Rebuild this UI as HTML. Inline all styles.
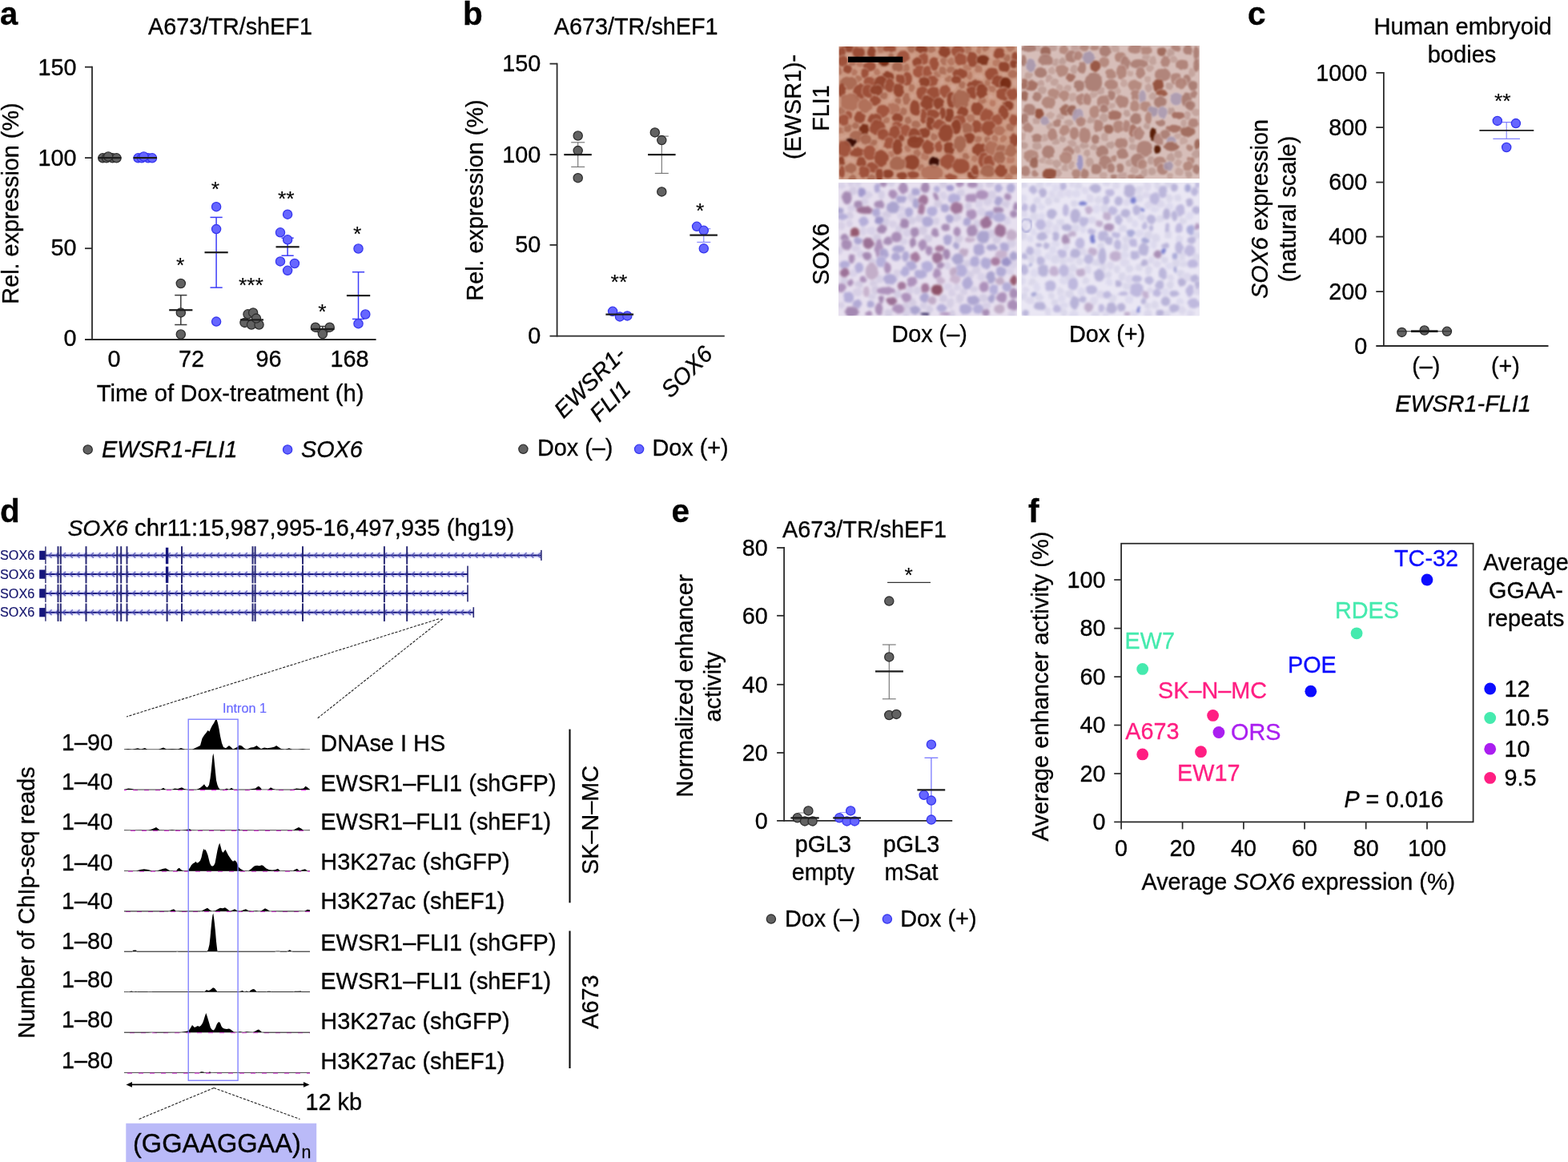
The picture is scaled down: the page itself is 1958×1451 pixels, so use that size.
<!DOCTYPE html>
<html lang="en"><head><meta charset="utf-8"><title>Figure</title>
<style>
html,body{margin:0;padding:0;background:#fff;}
body{width:1958px;height:1451px;overflow:hidden;}
svg{display:block;font-family:"Liberation Sans",sans-serif;font-size:28.8px;}
</style></head><body>
<svg width="1958" height="1451" viewBox="0 0 1958 1451">
<g id="panel-a">
<text x="0.0" y="31.0" font-size="40" stroke="#000" stroke-width="0.32" font-weight="bold">a</text>
<text x="287.5" y="42.9" text-anchor="middle" stroke="#000" stroke-width="0.32">A673/TR/shEF1</text>
<line x1="115.0" y1="82.8" x2="115.0" y2="424.9" stroke="#2a2a2a" stroke-width="1.8"/>
<line x1="106.0" y1="424.0" x2="469.6" y2="424.0" stroke="#2a2a2a" stroke-width="1.8"/>
<line x1="106.0" y1="83.7" x2="115.0" y2="83.7" stroke="#2a2a2a" stroke-width="1.8"/>
<line x1="106.0" y1="197.1" x2="115.0" y2="197.1" stroke="#2a2a2a" stroke-width="1.8"/>
<line x1="106.0" y1="310.2" x2="115.0" y2="310.2" stroke="#2a2a2a" stroke-width="1.8"/>
<text x="95.5" y="93.6" text-anchor="end" stroke="#000" stroke-width="0.32">150</text>
<text x="95.5" y="206.6" text-anchor="end" stroke="#000" stroke-width="0.32">100</text>
<text x="95.5" y="319.3" text-anchor="end" stroke="#000" stroke-width="0.32">50</text>
<text x="95.5" y="432.3" text-anchor="end" stroke="#000" stroke-width="0.32">0</text>
<text x="23.3" y="254.0" text-anchor="middle" stroke="#000" stroke-width="0.32" transform="rotate(-90 23.3 254.0)">Rel. expression (%)</text>
<text x="142.6" y="457.7" text-anchor="middle" stroke="#000" stroke-width="0.32">0</text>
<text x="239.0" y="457.7" text-anchor="middle" stroke="#000" stroke-width="0.32">72</text>
<text x="335.5" y="457.7" text-anchor="middle" stroke="#000" stroke-width="0.32">96</text>
<text x="436.4" y="457.7" text-anchor="middle" stroke="#000" stroke-width="0.32">168</text>
<text x="287.6" y="501.2" text-anchor="middle" font-size="29.25" stroke="#000" stroke-width="0.32">Time of Dox-treatment (h)</text>
<circle cx="109.7" cy="561.4" r="5.6" fill="#626262" stroke="#2e2e2e" stroke-width="1.3"/>
<text x="127.0" y="570.6" stroke="#000" stroke-width="0.32" font-style="italic">EWSR1-FLI1</text>
<circle cx="359.1" cy="561.4" r="5.6" fill="#6666ff" stroke="#3636ee" stroke-width="1.3"/>
<text x="376.0" y="570.6" stroke="#000" stroke-width="0.32" font-style="italic">SOX6</text>
<circle cx="128.3" cy="197.3" r="5.6" fill="#626262" stroke="#2e2e2e" stroke-width="1.3"/>
<circle cx="133.0" cy="197.3" r="5.6" fill="#626262" stroke="#2e2e2e" stroke-width="1.3"/>
<circle cx="140.5" cy="197.3" r="5.6" fill="#626262" stroke="#2e2e2e" stroke-width="1.3"/>
<circle cx="145.5" cy="197.3" r="5.6" fill="#626262" stroke="#2e2e2e" stroke-width="1.3"/>
<circle cx="135.2" cy="195.5" r="5.6" fill="#626262" stroke="#2e2e2e" stroke-width="1.3"/>
<line x1="122.7" y1="197.1" x2="151.4" y2="197.1" stroke="#1c1c1c" stroke-width="2.2"/>
<circle cx="172.5" cy="197.3" r="5.6" fill="#6666ff" stroke="#3636ee" stroke-width="1.3"/>
<circle cx="177.0" cy="197.3" r="5.6" fill="#6666ff" stroke="#3636ee" stroke-width="1.3"/>
<circle cx="185.0" cy="197.3" r="5.6" fill="#6666ff" stroke="#3636ee" stroke-width="1.3"/>
<circle cx="190.0" cy="197.3" r="5.6" fill="#6666ff" stroke="#3636ee" stroke-width="1.3"/>
<circle cx="179.5" cy="195.5" r="5.6" fill="#6666ff" stroke="#3636ee" stroke-width="1.3"/>
<line x1="166.5" y1="197.1" x2="196.0" y2="197.1" stroke="#1c1c1c" stroke-width="2.2"/>
<line x1="225.8" y1="368.6" x2="225.8" y2="405.5" stroke="#3a3a3a" stroke-width="1.5"/>
<line x1="218.2" y1="368.6" x2="233.4" y2="368.6" stroke="#3a3a3a" stroke-width="1.5"/>
<line x1="218.2" y1="405.5" x2="233.4" y2="405.5" stroke="#3a3a3a" stroke-width="1.5"/>
<circle cx="225.8" cy="354.0" r="5.6" fill="#626262" stroke="#2e2e2e" stroke-width="1.3"/>
<circle cx="225.8" cy="390.4" r="5.6" fill="#626262" stroke="#2e2e2e" stroke-width="1.3"/>
<circle cx="225.8" cy="417.5" r="5.6" fill="#626262" stroke="#2e2e2e" stroke-width="1.3"/>
<line x1="211.2" y1="387.2" x2="240.4" y2="387.2" stroke="#1c1c1c" stroke-width="2.2"/>
<line x1="270.1" y1="271.4" x2="270.1" y2="359.1" stroke="#3c3cf8" stroke-width="1.5"/>
<line x1="262.5" y1="271.4" x2="277.7" y2="271.4" stroke="#3c3cf8" stroke-width="1.5"/>
<line x1="262.5" y1="359.1" x2="277.7" y2="359.1" stroke="#3c3cf8" stroke-width="1.5"/>
<circle cx="270.1" cy="258.2" r="5.6" fill="#6666ff" stroke="#3636ee" stroke-width="1.3"/>
<circle cx="270.1" cy="286.1" r="5.6" fill="#6666ff" stroke="#3636ee" stroke-width="1.3"/>
<circle cx="270.1" cy="401.6" r="5.6" fill="#6666ff" stroke="#3636ee" stroke-width="1.3"/>
<line x1="255.5" y1="315.2" x2="284.7" y2="315.2" stroke="#1c1c1c" stroke-width="2.2"/>
<circle cx="305.5" cy="402.9" r="5.6" fill="#626262" stroke="#2e2e2e" stroke-width="1.3"/>
<circle cx="314.0" cy="405.5" r="5.6" fill="#626262" stroke="#2e2e2e" stroke-width="1.3"/>
<circle cx="323.5" cy="405.5" r="5.6" fill="#626262" stroke="#2e2e2e" stroke-width="1.3"/>
<circle cx="309.5" cy="392.3" r="5.6" fill="#626262" stroke="#2e2e2e" stroke-width="1.3"/>
<circle cx="316.1" cy="390.4" r="5.6" fill="#626262" stroke="#2e2e2e" stroke-width="1.3"/>
<circle cx="320.0" cy="397.6" r="5.6" fill="#626262" stroke="#2e2e2e" stroke-width="1.3"/>
<line x1="300.0" y1="399.4" x2="329.0" y2="399.4" stroke="#1c1c1c" stroke-width="2.2"/>
<line x1="359.1" y1="297.2" x2="359.1" y2="319.2" stroke="#3c3cf8" stroke-width="1.5"/>
<line x1="351.5" y1="297.2" x2="366.7" y2="297.2" stroke="#3c3cf8" stroke-width="1.5"/>
<line x1="351.5" y1="319.2" x2="366.7" y2="319.2" stroke="#3c3cf8" stroke-width="1.5"/>
<circle cx="359.1" cy="267.7" r="5.6" fill="#6666ff" stroke="#3636ee" stroke-width="1.3"/>
<circle cx="350.0" cy="290.3" r="5.6" fill="#6666ff" stroke="#3636ee" stroke-width="1.3"/>
<circle cx="359.1" cy="299.3" r="5.6" fill="#6666ff" stroke="#3636ee" stroke-width="1.3"/>
<circle cx="350.0" cy="326.4" r="5.6" fill="#6666ff" stroke="#3636ee" stroke-width="1.3"/>
<circle cx="367.9" cy="329.0" r="5.6" fill="#6666ff" stroke="#3636ee" stroke-width="1.3"/>
<circle cx="359.1" cy="337.8" r="5.6" fill="#6666ff" stroke="#3636ee" stroke-width="1.3"/>
<line x1="344.5" y1="308.3" x2="373.7" y2="308.3" stroke="#1c1c1c" stroke-width="2.2"/>
<line x1="402.9" y1="407.5" x2="402.9" y2="414.5" stroke="#3a3a3a" stroke-width="1.5"/>
<line x1="395.3" y1="407.5" x2="410.5" y2="407.5" stroke="#3a3a3a" stroke-width="1.5"/>
<line x1="395.3" y1="414.5" x2="410.5" y2="414.5" stroke="#3a3a3a" stroke-width="1.5"/>
<circle cx="393.9" cy="408.7" r="5.6" fill="#626262" stroke="#2e2e2e" stroke-width="1.3"/>
<circle cx="411.7" cy="408.7" r="5.6" fill="#626262" stroke="#2e2e2e" stroke-width="1.3"/>
<circle cx="402.9" cy="417.0" r="5.6" fill="#626262" stroke="#2e2e2e" stroke-width="1.3"/>
<line x1="388.3" y1="410.9" x2="417.5" y2="410.9" stroke="#1c1c1c" stroke-width="2.2"/>
<line x1="447.5" y1="339.7" x2="447.5" y2="398.4" stroke="#3c3cf8" stroke-width="1.5"/>
<line x1="439.9" y1="339.7" x2="455.1" y2="339.7" stroke="#3c3cf8" stroke-width="1.5"/>
<line x1="439.9" y1="398.4" x2="455.1" y2="398.4" stroke="#3c3cf8" stroke-width="1.5"/>
<circle cx="447.5" cy="310.5" r="5.6" fill="#6666ff" stroke="#3636ee" stroke-width="1.3"/>
<circle cx="456.3" cy="392.5" r="5.6" fill="#6666ff" stroke="#3636ee" stroke-width="1.3"/>
<circle cx="447.5" cy="404.2" r="5.6" fill="#6666ff" stroke="#3636ee" stroke-width="1.3"/>
<line x1="432.9" y1="369.1" x2="462.2" y2="369.1" stroke="#1c1c1c" stroke-width="2.2"/>
<text x="268.8" y="244.6" text-anchor="middle" font-size="26.5" stroke="#000" stroke-width="0.1">*</text>
<text x="357.2" y="257.4" text-anchor="middle" font-size="26.5" stroke="#000" stroke-width="0.1">**</text>
<text x="225.2" y="340.2" text-anchor="middle" font-size="26.5" stroke="#000" stroke-width="0.1">*</text>
<text x="313.4" y="365.0" text-anchor="middle" font-size="26.5" stroke="#000" stroke-width="0.1">***</text>
<text x="402.4" y="398.0" text-anchor="middle" font-size="26.5" stroke="#000" stroke-width="0.1">*</text>
<text x="446.2" y="300.6" text-anchor="middle" font-size="26.5" stroke="#000" stroke-width="0.1">*</text>
</g>
<g id="panel-b">
<text x="578.0" y="31.0" font-size="40.5" stroke="#000" stroke-width="0.32" font-weight="bold">b</text>
<text x="794.2" y="42.6" text-anchor="middle" stroke="#000" stroke-width="0.32">A673/TR/shEF1</text>
<line x1="695.6" y1="78.7" x2="695.6" y2="420.5" stroke="#2a2a2a" stroke-width="1.8"/>
<line x1="686.5" y1="419.6" x2="904.8" y2="419.6" stroke="#2a2a2a" stroke-width="1.8"/>
<line x1="686.5" y1="79.6" x2="695.6" y2="79.6" stroke="#2a2a2a" stroke-width="1.8"/>
<line x1="686.5" y1="193.1" x2="695.6" y2="193.1" stroke="#2a2a2a" stroke-width="1.8"/>
<line x1="686.5" y1="305.9" x2="695.6" y2="305.9" stroke="#2a2a2a" stroke-width="1.8"/>
<text x="675.3" y="89.4" text-anchor="end" stroke="#000" stroke-width="0.32">150</text>
<text x="675.3" y="202.7" text-anchor="end" stroke="#000" stroke-width="0.32">100</text>
<text x="675.3" y="315.2" text-anchor="end" stroke="#000" stroke-width="0.32">50</text>
<text x="675.3" y="428.7" text-anchor="end" stroke="#000" stroke-width="0.32">0</text>
<text x="602.5" y="250.0" text-anchor="middle" stroke="#000" stroke-width="0.32" transform="rotate(-90 602.5 250.0)">Rel. expression (%)</text>
<line x1="721.7" y1="177.8" x2="721.7" y2="208.4" stroke="#707070" stroke-width="1.1"/>
<line x1="713.2" y1="177.8" x2="730.2" y2="177.8" stroke="#707070" stroke-width="1.1"/>
<line x1="713.2" y1="208.4" x2="730.2" y2="208.4" stroke="#707070" stroke-width="1.1"/>
<circle cx="721.7" cy="169.5" r="5.6" fill="#626262" stroke="#2e2e2e" stroke-width="1.3"/>
<circle cx="721.7" cy="188.1" r="5.6" fill="#626262" stroke="#2e2e2e" stroke-width="1.3"/>
<circle cx="721.7" cy="222.2" r="5.6" fill="#626262" stroke="#2e2e2e" stroke-width="1.3"/>
<line x1="704.3" y1="193.1" x2="738.8" y2="193.1" stroke="#1c1c1c" stroke-width="2.2"/>
<line x1="826.3" y1="170.1" x2="826.3" y2="216.4" stroke="#707070" stroke-width="1.1"/>
<line x1="817.8" y1="170.1" x2="834.8" y2="170.1" stroke="#707070" stroke-width="1.1"/>
<line x1="817.8" y1="216.4" x2="834.8" y2="216.4" stroke="#707070" stroke-width="1.1"/>
<circle cx="817.8" cy="165.4" r="5.6" fill="#626262" stroke="#2e2e2e" stroke-width="1.3"/>
<circle cx="826.3" cy="175.1" r="5.6" fill="#626262" stroke="#2e2e2e" stroke-width="1.3"/>
<circle cx="826.3" cy="239.4" r="5.6" fill="#626262" stroke="#2e2e2e" stroke-width="1.3"/>
<line x1="809.1" y1="193.1" x2="843.6" y2="193.1" stroke="#1c1c1c" stroke-width="2.2"/>
<circle cx="765.1" cy="388.8" r="5.6" fill="#6666ff" stroke="#3636ee" stroke-width="1.3"/>
<circle cx="774.0" cy="395.4" r="5.6" fill="#6666ff" stroke="#3636ee" stroke-width="1.3"/>
<circle cx="783.3" cy="394.4" r="5.6" fill="#6666ff" stroke="#3636ee" stroke-width="1.3"/>
<line x1="756.4" y1="392.7" x2="791.1" y2="392.7" stroke="#1c1c1c" stroke-width="2.2"/>
<line x1="878.8" y1="285.7" x2="878.8" y2="302.4" stroke="#8080ff" stroke-width="1.1"/>
<line x1="870.3" y1="285.7" x2="887.3" y2="285.7" stroke="#8080ff" stroke-width="1.1"/>
<line x1="870.3" y1="302.4" x2="887.3" y2="302.4" stroke="#8080ff" stroke-width="1.1"/>
<circle cx="870.1" cy="282.8" r="5.6" fill="#6666ff" stroke="#3636ee" stroke-width="1.3"/>
<circle cx="878.8" cy="287.8" r="5.6" fill="#6666ff" stroke="#3636ee" stroke-width="1.3"/>
<circle cx="878.8" cy="310.3" r="5.6" fill="#6666ff" stroke="#3636ee" stroke-width="1.3"/>
<line x1="861.4" y1="293.7" x2="895.9" y2="293.7" stroke="#1c1c1c" stroke-width="2.2"/>
<text x="874.2" y="271.6" text-anchor="middle" font-size="26.5" stroke="#000" stroke-width="0.1">*</text>
<text x="772.9" y="360.8" text-anchor="middle" font-size="26.5" stroke="#000" stroke-width="0.1">**</text>
<text x="783.0" y="444.5" text-anchor="end" stroke="#000" stroke-width="0.32" font-style="italic" transform="rotate(-45 783.0 444.5)">EWSR1-</text>
<text x="789.0" y="487.5" text-anchor="end" stroke="#000" stroke-width="0.32" font-style="italic" transform="rotate(-45 789.0 487.5)">FLI1</text>
<text x="891.5" y="444.0" text-anchor="end" stroke="#000" stroke-width="0.32" font-style="italic" transform="rotate(-45 891.5 444.0)">SOX6</text>
<circle cx="653.4" cy="560.8" r="5.6" fill="#626262" stroke="#2e2e2e" stroke-width="1.3"/>
<text x="671.0" y="569.0" stroke="#000" stroke-width="0.32">Dox (–)</text>
<circle cx="798.1" cy="560.8" r="5.6" fill="#6666ff" stroke="#3636ee" stroke-width="1.3"/>
<text x="814.5" y="569.0" stroke="#000" stroke-width="0.32">Dox (+)</text>
</g>
<g id="panel-c">
<text x="1558.0" y="30.5" font-size="40.5" stroke="#000" stroke-width="0.32" font-weight="bold">c</text>
<text x="1826.5" y="42.8" text-anchor="middle" font-size="29.2" stroke="#000" stroke-width="0.32">Human embryoid</text>
<text x="1825.5" y="78.4" text-anchor="middle" font-size="29.1" stroke="#000" stroke-width="0.32">bodies</text>
<line x1="1727.9" y1="90.0" x2="1727.9" y2="432.9" stroke="#2a2a2a" stroke-width="1.8"/>
<line x1="1718.3" y1="432.0" x2="1933.5" y2="432.0" stroke="#2a2a2a" stroke-width="1.8"/>
<line x1="1718.3" y1="90.9" x2="1727.9" y2="90.9" stroke="#2a2a2a" stroke-width="1.8"/>
<text x="1707.3" y="100.7" text-anchor="end" stroke="#000" stroke-width="0.32">1000</text>
<line x1="1718.3" y1="159.1" x2="1727.9" y2="159.1" stroke="#2a2a2a" stroke-width="1.8"/>
<text x="1707.3" y="168.9" text-anchor="end" stroke="#000" stroke-width="0.32">800</text>
<line x1="1718.3" y1="227.6" x2="1727.9" y2="227.6" stroke="#2a2a2a" stroke-width="1.8"/>
<text x="1707.3" y="237.4" text-anchor="end" stroke="#000" stroke-width="0.32">600</text>
<line x1="1718.3" y1="295.6" x2="1727.9" y2="295.6" stroke="#2a2a2a" stroke-width="1.8"/>
<text x="1707.3" y="305.4" text-anchor="end" stroke="#000" stroke-width="0.32">400</text>
<line x1="1718.3" y1="364.1" x2="1727.9" y2="364.1" stroke="#2a2a2a" stroke-width="1.8"/>
<text x="1707.3" y="373.9" text-anchor="end" stroke="#000" stroke-width="0.32">200</text>
<text x="1707.3" y="441.8" text-anchor="end" stroke="#000" stroke-width="0.32">0</text>
<text x="1582.5" y="261.0" text-anchor="middle" stroke="#000" stroke-width="0.32" transform="rotate(-90 1582.5 261.0)"><tspan font-style="italic">SOX6</tspan> expression</text>
<text x="1618.0" y="261.0" text-anchor="middle" stroke="#000" stroke-width="0.32" transform="rotate(-90 1618.0 261.0)">(natural scale)</text>
<line x1="1881.2" y1="152.6" x2="1881.2" y2="173.4" stroke="#8080ff" stroke-width="1.1"/>
<line x1="1864.4" y1="152.6" x2="1898.0" y2="152.6" stroke="#8080ff" stroke-width="1.1"/>
<line x1="1864.4" y1="173.4" x2="1898.0" y2="173.4" stroke="#8080ff" stroke-width="1.1"/>
<circle cx="1869.8" cy="150.9" r="5.6" fill="#6666ff" stroke="#3636ee" stroke-width="1.3"/>
<circle cx="1892.9" cy="154.1" r="5.6" fill="#6666ff" stroke="#3636ee" stroke-width="1.3"/>
<circle cx="1881.2" cy="184.0" r="5.6" fill="#6666ff" stroke="#3636ee" stroke-width="1.3"/>
<line x1="1847.4" y1="162.9" x2="1915.3" y2="162.9" stroke="#1c1c1c" stroke-width="1.6"/>
<text x="1876.3" y="134.7" text-anchor="middle" font-size="26.5" stroke="#000" stroke-width="0.1">**</text>
<circle cx="1750.5" cy="414.9" r="5.6" fill="#626262" stroke="#2e2e2e" stroke-width="1.3"/>
<circle cx="1778.7" cy="412.5" r="5.6" fill="#626262" stroke="#2e2e2e" stroke-width="1.3"/>
<circle cx="1806.9" cy="413.8" r="5.6" fill="#626262" stroke="#2e2e2e" stroke-width="1.3"/>
<line x1="1745.0" y1="413.8" x2="1812.8" y2="413.8" stroke="#2a2a2a" stroke-width="1.1"/>
<line x1="1762.0" y1="413.6" x2="1795.5" y2="413.6" stroke="#1c1c1c" stroke-width="2.6"/>
<text x="1780.8" y="466.8" text-anchor="middle" stroke="#000" stroke-width="0.32">(–)</text>
<text x="1879.9" y="466.8" text-anchor="middle" stroke="#000" stroke-width="0.32">(+)</text>
<text x="1827.0" y="514.2" text-anchor="middle" stroke="#000" stroke-width="0.32" font-style="italic">EWSR1-FLI1</text>
</g>
<defs>
<filter id="nb" x="-5%" y="-5%" width="110%" height="110%" color-interpolation-filters="sRGB"><feTurbulence type="fractalNoise" baseFrequency="0.13" numOctaves="2" seed="4" result="t1"/><feDisplacementMap in="SourceGraphic" in2="t1" scale="3.4" xChannelSelector="R" yChannelSelector="G" result="d"/><feGaussianBlur in="d" stdDeviation="1.1"/></filter>
<filter id="nb2" x="-5%" y="-5%" width="110%" height="110%" color-interpolation-filters="sRGB"><feTurbulence type="fractalNoise" baseFrequency="0.13" numOctaves="2" seed="4" result="t1"/><feDisplacementMap in="SourceGraphic" in2="t1" scale="3.2" xChannelSelector="R" yChannelSelector="G" result="d"/><feGaussianBlur in="d" stdDeviation="1.55"/></filter>
<clipPath id="c1"><rect x="1047.7" y="58" width="222.3" height="166"/></clipPath>
<clipPath id="c2"><rect x="1275.7" y="57" width="222" height="166"/></clipPath>
<clipPath id="c3"><rect x="1047" y="228.2" width="223" height="166"/></clipPath>
<clipPath id="c4"><rect x="1275.7" y="228.2" width="222" height="166"/></clipPath>
</defs>
<g id="panel-img">
<rect x="1047.7" y="58" width="222.3" height="166" fill="#d2a492"/>
<g clip-path="url(#c1)"><g filter="url(#nb)">
<rect x="1043.7" y="54" width="230.3" height="174" fill="#d2a492"/>
<ellipse cx="1048.7" cy="87.5" rx="6.9" ry="8.1" fill="#c48c70" opacity="0.5"/>
<ellipse cx="1050.8" cy="138.7" rx="7.6" ry="7.9" fill="#c48c70" opacity="0.5"/>
<ellipse cx="1049.6" cy="163.4" rx="8.0" ry="7.4" fill="#c48c70" opacity="0.5"/>
<ellipse cx="1058.5" cy="159.9" rx="7.7" ry="8.2" fill="#c48c70" opacity="0.5"/>
<ellipse cx="1064.2" cy="222.4" rx="8.0" ry="7.4" fill="#c48c70" opacity="0.5"/>
<ellipse cx="1064.8" cy="78.0" rx="7.6" ry="7.2" fill="#c48c70" opacity="0.5"/>
<ellipse cx="1067.8" cy="90.6" rx="7.2" ry="6.8" fill="#c48c70" opacity="0.5"/>
<ellipse cx="1068.3" cy="156.8" rx="7.2" ry="7.1" fill="#c48c70" opacity="0.5"/>
<ellipse cx="1074.2" cy="79.8" rx="7.9" ry="7.1" fill="#c48c70" opacity="0.5"/>
<ellipse cx="1071.6" cy="98.7" rx="7.9" ry="7.6" fill="#c48c70" opacity="0.5"/>
<ellipse cx="1090.4" cy="177.9" rx="8.1" ry="7.4" fill="#c48c70" opacity="0.5"/>
<ellipse cx="1087.9" cy="222.7" rx="7.9" ry="7.3" fill="#c48c70" opacity="0.5"/>
<ellipse cx="1095.3" cy="89.7" rx="7.2" ry="7.4" fill="#c48c70" opacity="0.5"/>
<ellipse cx="1099.8" cy="60.9" rx="8.4" ry="7.2" fill="#c48c70" opacity="0.5"/>
<ellipse cx="1103.6" cy="119.4" rx="7.7" ry="7.6" fill="#c48c70" opacity="0.5"/>
<ellipse cx="1106.8" cy="150.0" rx="7.3" ry="7.0" fill="#c48c70" opacity="0.5"/>
<ellipse cx="1113.1" cy="70.9" rx="6.8" ry="7.6" fill="#c48c70" opacity="0.5"/>
<ellipse cx="1112.7" cy="192.6" rx="7.5" ry="7.0" fill="#c48c70" opacity="0.5"/>
<ellipse cx="1121.3" cy="126.1" rx="6.9" ry="7.3" fill="#c48c70" opacity="0.5"/>
<ellipse cx="1127.2" cy="139.0" rx="8.4" ry="8.1" fill="#c48c70" opacity="0.5"/>
<ellipse cx="1131.4" cy="85.0" rx="7.7" ry="7.7" fill="#c48c70" opacity="0.5"/>
<ellipse cx="1134.1" cy="150.2" rx="7.4" ry="7.7" fill="#c48c70" opacity="0.5"/>
<ellipse cx="1133.9" cy="185.2" rx="7.9" ry="7.0" fill="#c48c70" opacity="0.5"/>
<ellipse cx="1138.2" cy="60.7" rx="7.7" ry="8.2" fill="#c48c70" opacity="0.5"/>
<ellipse cx="1138.7" cy="110.0" rx="6.9" ry="7.9" fill="#c48c70" opacity="0.5"/>
<ellipse cx="1143.6" cy="155.3" rx="8.2" ry="7.7" fill="#c48c70" opacity="0.5"/>
<ellipse cx="1144.7" cy="191.9" rx="7.2" ry="8.1" fill="#c48c70" opacity="0.5"/>
<ellipse cx="1150.3" cy="209.6" rx="7.2" ry="7.7" fill="#c48c70" opacity="0.5"/>
<ellipse cx="1154.7" cy="194.7" rx="7.4" ry="8.1" fill="#c48c70" opacity="0.5"/>
<ellipse cx="1163.2" cy="61.9" rx="8.2" ry="7.1" fill="#c48c70" opacity="0.5"/>
<ellipse cx="1166.6" cy="170.8" rx="7.3" ry="7.2" fill="#c48c70" opacity="0.5"/>
<ellipse cx="1170.2" cy="92.6" rx="7.9" ry="7.2" fill="#c48c70" opacity="0.5"/>
<ellipse cx="1178.3" cy="76.6" rx="7.3" ry="8.0" fill="#c48c70" opacity="0.5"/>
<ellipse cx="1177.5" cy="88.1" rx="7.9" ry="7.8" fill="#c48c70" opacity="0.5"/>
<ellipse cx="1184.7" cy="98.5" rx="6.9" ry="7.1" fill="#c48c70" opacity="0.5"/>
<ellipse cx="1187.6" cy="76.8" rx="7.9" ry="8.1" fill="#c48c70" opacity="0.5"/>
<ellipse cx="1187.5" cy="87.4" rx="8.2" ry="7.3" fill="#c48c70" opacity="0.5"/>
<ellipse cx="1201.1" cy="106.1" rx="7.1" ry="7.9" fill="#c48c70" opacity="0.5"/>
<ellipse cx="1205.7" cy="195.5" rx="6.9" ry="7.5" fill="#c48c70" opacity="0.5"/>
<ellipse cx="1208.5" cy="61.7" rx="7.8" ry="8.0" fill="#c48c70" opacity="0.5"/>
<ellipse cx="1207.8" cy="84.8" rx="8.3" ry="8.2" fill="#c48c70" opacity="0.5"/>
<ellipse cx="1210.4" cy="94.2" rx="7.0" ry="8.1" fill="#c48c70" opacity="0.5"/>
<ellipse cx="1212.0" cy="147.3" rx="8.4" ry="7.6" fill="#c48c70" opacity="0.5"/>
<ellipse cx="1217.2" cy="198.1" rx="8.2" ry="7.4" fill="#c48c70" opacity="0.5"/>
<ellipse cx="1222.6" cy="61.7" rx="6.9" ry="8.0" fill="#c48c70" opacity="0.5"/>
<ellipse cx="1221.6" cy="86.0" rx="8.0" ry="7.5" fill="#c48c70" opacity="0.5"/>
<ellipse cx="1221.1" cy="174.2" rx="7.5" ry="7.4" fill="#c48c70" opacity="0.5"/>
<ellipse cx="1226.6" cy="125.7" rx="8.0" ry="7.0" fill="#c48c70" opacity="0.5"/>
<ellipse cx="1231.2" cy="59.8" rx="7.0" ry="7.6" fill="#c48c70" opacity="0.5"/>
<ellipse cx="1233.6" cy="103.8" rx="6.9" ry="8.3" fill="#c48c70" opacity="0.5"/>
<ellipse cx="1233.0" cy="174.3" rx="6.8" ry="7.7" fill="#c48c70" opacity="0.5"/>
<ellipse cx="1238.3" cy="111.1" rx="8.3" ry="6.9" fill="#c48c70" opacity="0.5"/>
<ellipse cx="1239.5" cy="129.3" rx="6.8" ry="6.9" fill="#c48c70" opacity="0.5"/>
<ellipse cx="1244.3" cy="78.4" rx="8.1" ry="7.7" fill="#c48c70" opacity="0.5"/>
<ellipse cx="1242.4" cy="173.2" rx="7.0" ry="7.9" fill="#c48c70" opacity="0.5"/>
<ellipse cx="1253.0" cy="173.0" rx="7.6" ry="7.5" fill="#c48c70" opacity="0.5"/>
<ellipse cx="1261.2" cy="59.4" rx="8.1" ry="7.3" fill="#c48c70" opacity="0.5"/>
<ellipse cx="1257.3" cy="72.1" rx="7.3" ry="8.1" fill="#c48c70" opacity="0.5"/>
<ellipse cx="1261.2" cy="158.6" rx="7.8" ry="8.0" fill="#c48c70" opacity="0.5"/>
<ellipse cx="1262.0" cy="199.1" rx="8.3" ry="8.0" fill="#c48c70" opacity="0.5"/>
<ellipse cx="1259.9" cy="220.4" rx="8.0" ry="7.2" fill="#c48c70" opacity="0.5"/>
<ellipse cx="1059.6" cy="60.6" rx="10.5" ry="7.4" fill="#c48c70" opacity="0.5"/>
<ellipse cx="1072.2" cy="65.4" rx="10.5" ry="9.7" fill="#c48c70" opacity="0.5"/>
<ellipse cx="1088.4" cy="65.4" rx="8.2" ry="9.7" fill="#c48c70" opacity="0.5"/>
<ellipse cx="1111.2" cy="60.6" rx="10.5" ry="7.4" fill="#c48c70" opacity="0.5"/>
<ellipse cx="1051.2" cy="65.4" rx="7.4" ry="8.9" fill="#c48c70" opacity="0.5"/>
<ellipse cx="1150.7" cy="61.2" rx="10.5" ry="8.2" fill="#c48c70" opacity="0.5"/>
<ellipse cx="1179.5" cy="64.2" rx="10.5" ry="9.7" fill="#c48c70" opacity="0.5"/>
<ellipse cx="1196.3" cy="63.6" rx="11.3" ry="10.5" fill="#c48c70" opacity="0.5"/>
<ellipse cx="1199.9" cy="74.4" rx="10.5" ry="10.5" fill="#c48c70" opacity="0.5"/>
<ellipse cx="1247.9" cy="66.6" rx="9.7" ry="9.7" fill="#c48c70" opacity="0.5"/>
<ellipse cx="1214.3" cy="74.4" rx="9.7" ry="12.1" fill="#c48c70" opacity="0.5"/>
<ellipse cx="1227.5" cy="75.0" rx="10.5" ry="8.9" fill="#c48c70" opacity="0.5"/>
<ellipse cx="1267.0" cy="72.0" rx="6.6" ry="10.5" fill="#c48c70" opacity="0.5"/>
<ellipse cx="1127.9" cy="70.8" rx="10.5" ry="10.5" fill="#c48c70" opacity="0.5"/>
<ellipse cx="1052.4" cy="76.2" rx="8.9" ry="9.7" fill="#c48c70" opacity="0.5"/>
<ellipse cx="1153.1" cy="73.8" rx="9.7" ry="9.7" fill="#c48c70" opacity="0.5"/>
<ellipse cx="1086.0" cy="82.8" rx="10.5" ry="8.9" fill="#c48c70" opacity="0.5"/>
<ellipse cx="1104.0" cy="78.0" rx="8.9" ry="7.4" fill="#c48c70" opacity="0.5"/>
<ellipse cx="1120.7" cy="83.4" rx="9.7" ry="8.9" fill="#c48c70" opacity="0.5"/>
<ellipse cx="1144.7" cy="77.4" rx="8.2" ry="8.9" fill="#c48c70" opacity="0.5"/>
<ellipse cx="1166.3" cy="79.8" rx="8.9" ry="11.3" fill="#c48c70" opacity="0.5"/>
<ellipse cx="1253.9" cy="83.4" rx="9.7" ry="8.9" fill="#c48c70" opacity="0.5"/>
<ellipse cx="1265.8" cy="79.8" rx="7.4" ry="8.2" fill="#c48c70" opacity="0.5"/>
<ellipse cx="1058.4" cy="86.4" rx="8.2" ry="8.2" fill="#c48c70" opacity="0.5"/>
<ellipse cx="1148.3" cy="89.4" rx="11.3" ry="10.5" fill="#c48c70" opacity="0.5"/>
<ellipse cx="1157.9" cy="90.0" rx="8.2" ry="10.5" fill="#c48c70" opacity="0.5"/>
<ellipse cx="1080.0" cy="91.8" rx="7.4" ry="8.9" fill="#c48c70" opacity="0.5"/>
<ellipse cx="1198.7" cy="92.4" rx="12.1" ry="9.7" fill="#c48c70" opacity="0.5"/>
<ellipse cx="1238.3" cy="92.4" rx="11.3" ry="10.5" fill="#c48c70" opacity="0.5"/>
<ellipse cx="1264.6" cy="92.4" rx="8.9" ry="8.2" fill="#c48c70" opacity="0.5"/>
<ellipse cx="1108.8" cy="96.0" rx="10.5" ry="8.9" fill="#c48c70" opacity="0.5"/>
<ellipse cx="1132.7" cy="98.4" rx="8.9" ry="11.3" fill="#c48c70" opacity="0.5"/>
<ellipse cx="1124.3" cy="99.0" rx="8.2" ry="8.9" fill="#c48c70" opacity="0.5"/>
<ellipse cx="1059.6" cy="103.8" rx="13.6" ry="11.3" fill="#c48c70" opacity="0.5"/>
<ellipse cx="1086.0" cy="102.0" rx="10.5" ry="8.9" fill="#c48c70" opacity="0.5"/>
<ellipse cx="1100.4" cy="103.2" rx="11.3" ry="11.3" fill="#c48c70" opacity="0.5"/>
<ellipse cx="1163.9" cy="101.4" rx="9.7" ry="9.7" fill="#c48c70" opacity="0.5"/>
<ellipse cx="1154.3" cy="102.6" rx="9.7" ry="8.9" fill="#c48c70" opacity="0.5"/>
<ellipse cx="1193.9" cy="99.6" rx="8.9" ry="7.4" fill="#c48c70" opacity="0.5"/>
<ellipse cx="1246.7" cy="101.4" rx="10.5" ry="10.5" fill="#c48c70" opacity="0.5"/>
<ellipse cx="1255.7" cy="104.4" rx="9.7" ry="10.5" fill="#c48c70" opacity="0.5"/>
<ellipse cx="1217.9" cy="105.6" rx="13.6" ry="8.2" fill="#c48c70" opacity="0.5"/>
<ellipse cx="1111.2" cy="106.8" rx="8.9" ry="11.3" fill="#c48c70" opacity="0.5"/>
<ellipse cx="1075.2" cy="115.2" rx="12.8" ry="12.8" fill="#c48c70" opacity="0.5"/>
<ellipse cx="1083.6" cy="114.0" rx="9.7" ry="11.3" fill="#c48c70" opacity="0.5"/>
<ellipse cx="1094.4" cy="112.8" rx="10.5" ry="9.7" fill="#c48c70" opacity="0.5"/>
<ellipse cx="1122.5" cy="112.8" rx="9.7" ry="11.3" fill="#c48c70" opacity="0.5"/>
<ellipse cx="1151.9" cy="116.4" rx="10.5" ry="11.3" fill="#c48c70" opacity="0.5"/>
<ellipse cx="1165.7" cy="117.6" rx="11.3" ry="12.1" fill="#c48c70" opacity="0.5"/>
<ellipse cx="1180.1" cy="114.0" rx="9.7" ry="10.5" fill="#c48c70" opacity="0.5"/>
<ellipse cx="1213.7" cy="115.8" rx="9.7" ry="10.5" fill="#c48c70" opacity="0.5"/>
<ellipse cx="1225.7" cy="114.0" rx="9.7" ry="12.1" fill="#c48c70" opacity="0.5"/>
<ellipse cx="1252.7" cy="117.6" rx="11.3" ry="11.3" fill="#c48c70" opacity="0.5"/>
<ellipse cx="1264.1" cy="117.6" rx="9.7" ry="10.5" fill="#c48c70" opacity="0.5"/>
<ellipse cx="1051.2" cy="114.0" rx="7.4" ry="12.1" fill="#c48c70" opacity="0.5"/>
<ellipse cx="1062.0" cy="127.2" rx="15.2" ry="13.6" fill="#c48c70" opacity="0.5"/>
<ellipse cx="1092.6" cy="126.0" rx="9.7" ry="8.9" fill="#c48c70" opacity="0.5"/>
<ellipse cx="1080.0" cy="131.9" rx="11.3" ry="11.3" fill="#c48c70" opacity="0.5"/>
<ellipse cx="1131.5" cy="123.6" rx="7.4" ry="10.5" fill="#c48c70" opacity="0.5"/>
<ellipse cx="1157.9" cy="128.3" rx="10.5" ry="12.1" fill="#c48c70" opacity="0.5"/>
<ellipse cx="1172.3" cy="128.9" rx="9.7" ry="9.7" fill="#c48c70" opacity="0.5"/>
<ellipse cx="1187.9" cy="124.8" rx="8.2" ry="12.8" fill="#c48c70" opacity="0.5"/>
<ellipse cx="1199.9" cy="124.8" rx="13.6" ry="15.2" fill="#c48c70" opacity="0.5"/>
<ellipse cx="1142.3" cy="134.9" rx="8.9" ry="12.8" fill="#c48c70" opacity="0.5"/>
<ellipse cx="1220.3" cy="135.5" rx="10.5" ry="11.3" fill="#c48c70" opacity="0.5"/>
<ellipse cx="1258.7" cy="131.9" rx="9.7" ry="8.9" fill="#c48c70" opacity="0.5"/>
<ellipse cx="1115.4" cy="136.1" rx="11.3" ry="10.5" fill="#c48c70" opacity="0.5"/>
<ellipse cx="1102.2" cy="138.5" rx="10.5" ry="10.5" fill="#c48c70" opacity="0.5"/>
<ellipse cx="1202.3" cy="139.7" rx="9.7" ry="8.9" fill="#c48c70" opacity="0.5"/>
<ellipse cx="1252.7" cy="140.3" rx="8.9" ry="12.1" fill="#c48c70" opacity="0.5"/>
<ellipse cx="1163.9" cy="142.7" rx="11.3" ry="8.9" fill="#c48c70" opacity="0.5"/>
<ellipse cx="1185.5" cy="143.9" rx="8.2" ry="11.3" fill="#c48c70" opacity="0.5"/>
<ellipse cx="1177.1" cy="141.5" rx="6.6" ry="10.5" fill="#c48c70" opacity="0.5"/>
<ellipse cx="1153.1" cy="145.1" rx="7.4" ry="12.1" fill="#c48c70" opacity="0.5"/>
<ellipse cx="1232.3" cy="143.9" rx="11.3" ry="10.5" fill="#c48c70" opacity="0.5"/>
<ellipse cx="1073.4" cy="146.9" rx="9.7" ry="9.7" fill="#c48c70" opacity="0.5"/>
<ellipse cx="1059.6" cy="143.9" rx="7.4" ry="8.2" fill="#c48c70" opacity="0.5"/>
<ellipse cx="1053.6" cy="149.9" rx="9.7" ry="9.7" fill="#c48c70" opacity="0.5"/>
<ellipse cx="1092.6" cy="148.7" rx="11.3" ry="9.7" fill="#c48c70" opacity="0.5"/>
<ellipse cx="1120.7" cy="147.5" rx="9.7" ry="8.9" fill="#c48c70" opacity="0.5"/>
<ellipse cx="1197.5" cy="152.3" rx="11.3" ry="11.3" fill="#c48c70" opacity="0.5"/>
<ellipse cx="1244.9" cy="149.9" rx="9.7" ry="9.7" fill="#c48c70" opacity="0.5"/>
<ellipse cx="1265.8" cy="149.9" rx="8.2" ry="9.7" fill="#c48c70" opacity="0.5"/>
<ellipse cx="1162.1" cy="154.1" rx="8.2" ry="11.3" fill="#c48c70" opacity="0.5"/>
<ellipse cx="1173.5" cy="155.9" rx="11.3" ry="8.9" fill="#c48c70" opacity="0.5"/>
<ellipse cx="1120.1" cy="156.5" rx="8.9" ry="7.4" fill="#c48c70" opacity="0.5"/>
<ellipse cx="1095.6" cy="159.5" rx="12.8" ry="12.1" fill="#c48c70" opacity="0.5"/>
<ellipse cx="1078.8" cy="162.5" rx="8.9" ry="10.5" fill="#c48c70" opacity="0.5"/>
<ellipse cx="1220.3" cy="157.7" rx="9.7" ry="10.5" fill="#c48c70" opacity="0.5"/>
<ellipse cx="1234.7" cy="159.5" rx="11.3" ry="12.1" fill="#c48c70" opacity="0.5"/>
<ellipse cx="1208.3" cy="160.7" rx="8.9" ry="10.5" fill="#c48c70" opacity="0.5"/>
<ellipse cx="1247.9" cy="163.1" rx="9.7" ry="8.9" fill="#c48c70" opacity="0.5"/>
<ellipse cx="1130.9" cy="163.1" rx="8.9" ry="10.5" fill="#c48c70" opacity="0.5"/>
<ellipse cx="1117.2" cy="165.5" rx="9.7" ry="11.3" fill="#c48c70" opacity="0.5"/>
<ellipse cx="1193.9" cy="158.3" rx="8.9" ry="12.1" fill="#c48c70" opacity="0.5"/>
<ellipse cx="1180.7" cy="166.1" rx="12.1" ry="13.6" fill="#c48c70" opacity="0.5"/>
<ellipse cx="1153.7" cy="166.1" rx="10.5" ry="8.9" fill="#c48c70" opacity="0.5"/>
<ellipse cx="1141.1" cy="169.1" rx="10.5" ry="12.1" fill="#c48c70" opacity="0.5"/>
<ellipse cx="1102.8" cy="167.9" rx="9.7" ry="9.7" fill="#c48c70" opacity="0.5"/>
<ellipse cx="1069.2" cy="170.9" rx="11.3" ry="10.5" fill="#c48c70" opacity="0.5"/>
<ellipse cx="1210.7" cy="172.1" rx="9.7" ry="8.9" fill="#c48c70" opacity="0.5"/>
<ellipse cx="1266.4" cy="175.1" rx="8.2" ry="10.5" fill="#c48c70" opacity="0.5"/>
<ellipse cx="1062.0" cy="177.5" rx="10.5" ry="7.4" fill="#c48c70" opacity="0.5"/>
<ellipse cx="1081.2" cy="173.9" rx="9.7" ry="8.9" fill="#c48c70" opacity="0.5"/>
<ellipse cx="1143.5" cy="177.5" rx="13.6" ry="10.5" fill="#c48c70" opacity="0.5"/>
<ellipse cx="1110.6" cy="178.7" rx="9.7" ry="10.5" fill="#c48c70" opacity="0.5"/>
<ellipse cx="1125.5" cy="172.7" rx="6.6" ry="7.4" fill="#c48c70" opacity="0.5"/>
<ellipse cx="1054.2" cy="185.9" rx="11.3" ry="12.8" fill="#c48c70" opacity="0.5"/>
<ellipse cx="1120.7" cy="183.5" rx="8.9" ry="12.8" fill="#c48c70" opacity="0.5"/>
<ellipse cx="1159.1" cy="184.1" rx="10.5" ry="11.3" fill="#c48c70" opacity="0.5"/>
<ellipse cx="1172.3" cy="183.5" rx="7.4" ry="9.7" fill="#c48c70" opacity="0.5"/>
<ellipse cx="1185.5" cy="185.3" rx="9.7" ry="10.5" fill="#c48c70" opacity="0.5"/>
<ellipse cx="1198.7" cy="179.9" rx="10.5" ry="13.6" fill="#c48c70" opacity="0.5"/>
<ellipse cx="1223.9" cy="187.1" rx="12.8" ry="11.3" fill="#c48c70" opacity="0.5"/>
<ellipse cx="1238.3" cy="184.7" rx="11.3" ry="11.3" fill="#c48c70" opacity="0.5"/>
<ellipse cx="1250.3" cy="189.5" rx="9.7" ry="12.1" fill="#c48c70" opacity="0.5"/>
<ellipse cx="1262.3" cy="188.3" rx="9.7" ry="10.5" fill="#c48c70" opacity="0.5"/>
<ellipse cx="1070.4" cy="190.7" rx="12.1" ry="8.9" fill="#c48c70" opacity="0.5"/>
<ellipse cx="1086.0" cy="190.7" rx="10.5" ry="12.1" fill="#c48c70" opacity="0.5"/>
<ellipse cx="1100.4" cy="197.9" rx="11.3" ry="13.6" fill="#c48c70" opacity="0.5"/>
<ellipse cx="1166.3" cy="202.7" rx="8.9" ry="9.7" fill="#c48c70" opacity="0.5"/>
<ellipse cx="1138.7" cy="202.7" rx="12.1" ry="12.1" fill="#c48c70" opacity="0.5"/>
<ellipse cx="1120.7" cy="203.9" rx="12.8" ry="11.3" fill="#c48c70" opacity="0.5"/>
<ellipse cx="1183.1" cy="201.5" rx="12.1" ry="12.1" fill="#c48c70" opacity="0.5"/>
<ellipse cx="1199.9" cy="207.5" rx="13.6" ry="12.1" fill="#c48c70" opacity="0.5"/>
<ellipse cx="1228.7" cy="200.3" rx="9.7" ry="12.8" fill="#c48c70" opacity="0.5"/>
<ellipse cx="1235.9" cy="201.5" rx="10.5" ry="10.5" fill="#c48c70" opacity="0.5"/>
<ellipse cx="1075.2" cy="202.7" rx="8.2" ry="8.9" fill="#c48c70" opacity="0.5"/>
<ellipse cx="1050.6" cy="201.5" rx="6.6" ry="8.9" fill="#c48c70" opacity="0.5"/>
<ellipse cx="1247.9" cy="196.7" rx="10.5" ry="10.5" fill="#c48c70" opacity="0.5"/>
<ellipse cx="1233.5" cy="213.5" rx="11.3" ry="10.5" fill="#c48c70" opacity="0.5"/>
<ellipse cx="1250.3" cy="213.5" rx="10.5" ry="10.5" fill="#c48c70" opacity="0.5"/>
<ellipse cx="1265.8" cy="212.3" rx="8.2" ry="8.9" fill="#c48c70" opacity="0.5"/>
<ellipse cx="1088.4" cy="209.3" rx="11.3" ry="9.7" fill="#c48c70" opacity="0.5"/>
<ellipse cx="1062.0" cy="209.9" rx="10.5" ry="8.9" fill="#c48c70" opacity="0.5"/>
<ellipse cx="1078.8" cy="214.7" rx="9.7" ry="10.5" fill="#c48c70" opacity="0.5"/>
<ellipse cx="1108.8" cy="217.1" rx="9.7" ry="8.2" fill="#c48c70" opacity="0.5"/>
<ellipse cx="1098.0" cy="218.3" rx="7.4" ry="10.5" fill="#c48c70" opacity="0.5"/>
<ellipse cx="1163.9" cy="215.9" rx="16.7" ry="12.1" fill="#c48c70" opacity="0.5"/>
<ellipse cx="1139.9" cy="218.3" rx="10.5" ry="7.4" fill="#c48c70" opacity="0.5"/>
<ellipse cx="1126.7" cy="219.5" rx="8.9" ry="7.4" fill="#c48c70" opacity="0.5"/>
<ellipse cx="1187.9" cy="220.7" rx="10.5" ry="6.6" fill="#c48c70" opacity="0.5"/>
<ellipse cx="1214.3" cy="218.3" rx="8.9" ry="8.2" fill="#c48c70" opacity="0.5"/>
<ellipse cx="1051.2" cy="214.7" rx="6.6" ry="10.5" fill="#c48c70" opacity="0.5"/>
<ellipse cx="1217.9" cy="212.3" rx="7.4" ry="8.9" fill="#c48c70" opacity="0.5"/>
<ellipse cx="1048.7" cy="87.5" rx="4.7" ry="5.9" fill="#b2725b" stroke="#e4c0ae" stroke-width="0.9" stroke-opacity="0.75" fill-opacity="0.88"/>
<ellipse cx="1050.8" cy="138.7" rx="5.4" ry="5.7" fill="#ac6c55" stroke="#e4c0ae" stroke-width="0.9" stroke-opacity="0.75" fill-opacity="0.88"/>
<ellipse cx="1049.6" cy="163.4" rx="5.8" ry="5.2" fill="#b4745d" stroke="#e4c0ae" stroke-width="0.9" stroke-opacity="0.75" fill-opacity="0.88"/>
<ellipse cx="1058.5" cy="159.9" rx="5.5" ry="6.0" fill="#a96952" stroke="#e4c0ae" stroke-width="0.9" stroke-opacity="0.75" fill-opacity="0.88"/>
<ellipse cx="1064.2" cy="222.4" rx="5.8" ry="5.2" fill="#aa6a53" stroke="#e4c0ae" stroke-width="0.9" stroke-opacity="0.75" fill-opacity="0.88"/>
<ellipse cx="1064.8" cy="78.0" rx="5.4" ry="5.0" fill="#ab6b54" stroke="#e4c0ae" stroke-width="0.9" stroke-opacity="0.75" fill-opacity="0.88"/>
<ellipse cx="1067.8" cy="90.6" rx="5.0" ry="4.6" fill="#b3735c" stroke="#e4c0ae" stroke-width="0.9" stroke-opacity="0.75" fill-opacity="0.88"/>
<ellipse cx="1068.3" cy="156.8" rx="5.0" ry="4.9" fill="#a96952" stroke="#e4c0ae" stroke-width="0.9" stroke-opacity="0.75" fill-opacity="0.88"/>
<ellipse cx="1074.2" cy="79.8" rx="5.7" ry="4.9" fill="#b87861" stroke="#e4c0ae" stroke-width="0.9" stroke-opacity="0.75" fill-opacity="0.88"/>
<ellipse cx="1071.6" cy="98.7" rx="5.7" ry="5.4" fill="#ae6e57" stroke="#e4c0ae" stroke-width="0.9" stroke-opacity="0.75" fill-opacity="0.88"/>
<ellipse cx="1090.4" cy="177.9" rx="5.9" ry="5.2" fill="#a96952" stroke="#e4c0ae" stroke-width="0.9" stroke-opacity="0.75" fill-opacity="0.88"/>
<ellipse cx="1087.9" cy="222.7" rx="5.7" ry="5.1" fill="#aa6a53" stroke="#e4c0ae" stroke-width="0.9" stroke-opacity="0.75" fill-opacity="0.88"/>
<ellipse cx="1095.3" cy="89.7" rx="5.0" ry="5.2" fill="#b5755e" stroke="#e4c0ae" stroke-width="0.9" stroke-opacity="0.75" fill-opacity="0.88"/>
<ellipse cx="1099.8" cy="60.9" rx="6.2" ry="5.0" fill="#b5755e" stroke="#e4c0ae" stroke-width="0.9" stroke-opacity="0.75" fill-opacity="0.88"/>
<ellipse cx="1103.6" cy="119.4" rx="5.5" ry="5.4" fill="#aa6a53" stroke="#e4c0ae" stroke-width="0.9" stroke-opacity="0.75" fill-opacity="0.88"/>
<ellipse cx="1106.8" cy="150.0" rx="5.1" ry="4.8" fill="#af6f58" stroke="#e4c0ae" stroke-width="0.9" stroke-opacity="0.75" fill-opacity="0.88"/>
<ellipse cx="1113.1" cy="70.9" rx="4.6" ry="5.4" fill="#aa6a53" stroke="#e4c0ae" stroke-width="0.9" stroke-opacity="0.75" fill-opacity="0.88"/>
<ellipse cx="1112.7" cy="192.6" rx="5.3" ry="4.8" fill="#b5755e" stroke="#e4c0ae" stroke-width="0.9" stroke-opacity="0.75" fill-opacity="0.88"/>
<ellipse cx="1121.3" cy="126.1" rx="4.7" ry="5.1" fill="#a96952" stroke="#e4c0ae" stroke-width="0.9" stroke-opacity="0.75" fill-opacity="0.88"/>
<ellipse cx="1127.2" cy="139.0" rx="6.2" ry="5.9" fill="#ab6b54" stroke="#e4c0ae" stroke-width="0.9" stroke-opacity="0.75" fill-opacity="0.88"/>
<ellipse cx="1131.4" cy="85.0" rx="5.5" ry="5.5" fill="#af6f58" stroke="#e4c0ae" stroke-width="0.9" stroke-opacity="0.75" fill-opacity="0.88"/>
<ellipse cx="1134.1" cy="150.2" rx="5.2" ry="5.5" fill="#a96952" stroke="#e4c0ae" stroke-width="0.9" stroke-opacity="0.75" fill-opacity="0.88"/>
<ellipse cx="1133.9" cy="185.2" rx="5.7" ry="4.8" fill="#b4745d" stroke="#e4c0ae" stroke-width="0.9" stroke-opacity="0.75" fill-opacity="0.88"/>
<ellipse cx="1138.2" cy="60.7" rx="5.5" ry="6.0" fill="#a96952" stroke="#e4c0ae" stroke-width="0.9" stroke-opacity="0.75" fill-opacity="0.88"/>
<ellipse cx="1138.7" cy="110.0" rx="4.7" ry="5.7" fill="#af6f58" stroke="#e4c0ae" stroke-width="0.9" stroke-opacity="0.75" fill-opacity="0.88"/>
<ellipse cx="1143.6" cy="155.3" rx="6.0" ry="5.5" fill="#a96952" stroke="#e4c0ae" stroke-width="0.9" stroke-opacity="0.75" fill-opacity="0.88"/>
<ellipse cx="1144.7" cy="191.9" rx="5.0" ry="5.9" fill="#ac6c55" stroke="#e4c0ae" stroke-width="0.9" stroke-opacity="0.75" fill-opacity="0.88"/>
<ellipse cx="1150.3" cy="209.6" rx="5.0" ry="5.5" fill="#b1715a" stroke="#e4c0ae" stroke-width="0.9" stroke-opacity="0.75" fill-opacity="0.88"/>
<ellipse cx="1154.7" cy="194.7" rx="5.2" ry="5.9" fill="#b5755e" stroke="#e4c0ae" stroke-width="0.9" stroke-opacity="0.75" fill-opacity="0.88"/>
<ellipse cx="1163.2" cy="61.9" rx="6.0" ry="4.9" fill="#ac6c55" stroke="#e4c0ae" stroke-width="0.9" stroke-opacity="0.75" fill-opacity="0.88"/>
<ellipse cx="1166.6" cy="170.8" rx="5.1" ry="5.0" fill="#ab6b54" stroke="#e4c0ae" stroke-width="0.9" stroke-opacity="0.75" fill-opacity="0.88"/>
<ellipse cx="1170.2" cy="92.6" rx="5.7" ry="5.0" fill="#b1715a" stroke="#e4c0ae" stroke-width="0.9" stroke-opacity="0.75" fill-opacity="0.88"/>
<ellipse cx="1178.3" cy="76.6" rx="5.1" ry="5.8" fill="#ad6d56" stroke="#e4c0ae" stroke-width="0.9" stroke-opacity="0.75" fill-opacity="0.88"/>
<ellipse cx="1177.5" cy="88.1" rx="5.7" ry="5.6" fill="#ab6b54" stroke="#e4c0ae" stroke-width="0.9" stroke-opacity="0.75" fill-opacity="0.88"/>
<ellipse cx="1184.7" cy="98.5" rx="4.7" ry="4.9" fill="#ae6e57" stroke="#e4c0ae" stroke-width="0.9" stroke-opacity="0.75" fill-opacity="0.88"/>
<ellipse cx="1187.6" cy="76.8" rx="5.7" ry="5.9" fill="#b3735c" stroke="#e4c0ae" stroke-width="0.9" stroke-opacity="0.75" fill-opacity="0.88"/>
<ellipse cx="1187.5" cy="87.4" rx="6.0" ry="5.1" fill="#ab6b54" stroke="#e4c0ae" stroke-width="0.9" stroke-opacity="0.75" fill-opacity="0.88"/>
<ellipse cx="1201.1" cy="106.1" rx="4.9" ry="5.7" fill="#aa6a53" stroke="#e4c0ae" stroke-width="0.9" stroke-opacity="0.75" fill-opacity="0.88"/>
<ellipse cx="1205.7" cy="195.5" rx="4.7" ry="5.3" fill="#a96952" stroke="#e4c0ae" stroke-width="0.9" stroke-opacity="0.75" fill-opacity="0.88"/>
<ellipse cx="1208.5" cy="61.7" rx="5.6" ry="5.8" fill="#ae6e57" stroke="#e4c0ae" stroke-width="0.9" stroke-opacity="0.75" fill-opacity="0.88"/>
<ellipse cx="1207.8" cy="84.8" rx="6.1" ry="6.0" fill="#b77760" stroke="#e4c0ae" stroke-width="0.9" stroke-opacity="0.75" fill-opacity="0.88"/>
<ellipse cx="1210.4" cy="94.2" rx="4.8" ry="5.9" fill="#b5755e" stroke="#e4c0ae" stroke-width="0.9" stroke-opacity="0.75" fill-opacity="0.88"/>
<ellipse cx="1212.0" cy="147.3" rx="6.2" ry="5.4" fill="#b2725b" stroke="#e4c0ae" stroke-width="0.9" stroke-opacity="0.75" fill-opacity="0.88"/>
<ellipse cx="1217.2" cy="198.1" rx="6.0" ry="5.2" fill="#b6765f" stroke="#e4c0ae" stroke-width="0.9" stroke-opacity="0.75" fill-opacity="0.88"/>
<ellipse cx="1222.6" cy="61.7" rx="4.7" ry="5.8" fill="#b6765f" stroke="#e4c0ae" stroke-width="0.9" stroke-opacity="0.75" fill-opacity="0.88"/>
<ellipse cx="1221.6" cy="86.0" rx="5.8" ry="5.3" fill="#b3735c" stroke="#e4c0ae" stroke-width="0.9" stroke-opacity="0.75" fill-opacity="0.88"/>
<ellipse cx="1221.1" cy="174.2" rx="5.3" ry="5.2" fill="#b1715a" stroke="#e4c0ae" stroke-width="0.9" stroke-opacity="0.75" fill-opacity="0.88"/>
<ellipse cx="1226.6" cy="125.7" rx="5.8" ry="4.8" fill="#af6f58" stroke="#e4c0ae" stroke-width="0.9" stroke-opacity="0.75" fill-opacity="0.88"/>
<ellipse cx="1231.2" cy="59.8" rx="4.8" ry="5.4" fill="#ad6d56" stroke="#e4c0ae" stroke-width="0.9" stroke-opacity="0.75" fill-opacity="0.88"/>
<ellipse cx="1233.6" cy="103.8" rx="4.7" ry="6.1" fill="#af6f58" stroke="#e4c0ae" stroke-width="0.9" stroke-opacity="0.75" fill-opacity="0.88"/>
<ellipse cx="1233.0" cy="174.3" rx="4.6" ry="5.5" fill="#aa6a53" stroke="#e4c0ae" stroke-width="0.9" stroke-opacity="0.75" fill-opacity="0.88"/>
<ellipse cx="1238.3" cy="111.1" rx="6.1" ry="4.7" fill="#b1715a" stroke="#e4c0ae" stroke-width="0.9" stroke-opacity="0.75" fill-opacity="0.88"/>
<ellipse cx="1239.5" cy="129.3" rx="4.6" ry="4.7" fill="#b87861" stroke="#e4c0ae" stroke-width="0.9" stroke-opacity="0.75" fill-opacity="0.88"/>
<ellipse cx="1244.3" cy="78.4" rx="5.9" ry="5.5" fill="#b77760" stroke="#e4c0ae" stroke-width="0.9" stroke-opacity="0.75" fill-opacity="0.88"/>
<ellipse cx="1242.4" cy="173.2" rx="4.8" ry="5.7" fill="#b2725b" stroke="#e4c0ae" stroke-width="0.9" stroke-opacity="0.75" fill-opacity="0.88"/>
<ellipse cx="1253.0" cy="173.0" rx="5.4" ry="5.3" fill="#b6765f" stroke="#e4c0ae" stroke-width="0.9" stroke-opacity="0.75" fill-opacity="0.88"/>
<ellipse cx="1261.2" cy="59.4" rx="5.9" ry="5.1" fill="#b1715a" stroke="#e4c0ae" stroke-width="0.9" stroke-opacity="0.75" fill-opacity="0.88"/>
<ellipse cx="1257.3" cy="72.1" rx="5.1" ry="5.9" fill="#aa6a53" stroke="#e4c0ae" stroke-width="0.9" stroke-opacity="0.75" fill-opacity="0.88"/>
<ellipse cx="1261.2" cy="158.6" rx="5.6" ry="5.8" fill="#ab6b54" stroke="#e4c0ae" stroke-width="0.9" stroke-opacity="0.75" fill-opacity="0.88"/>
<ellipse cx="1262.0" cy="199.1" rx="6.1" ry="5.8" fill="#b87861" stroke="#e4c0ae" stroke-width="0.9" stroke-opacity="0.75" fill-opacity="0.88"/>
<ellipse cx="1259.9" cy="220.4" rx="5.8" ry="5.0" fill="#b5755e" stroke="#e4c0ae" stroke-width="0.9" stroke-opacity="0.75" fill-opacity="0.88"/>
<ellipse cx="1059.6" cy="60.6" rx="8.3" ry="5.2" fill="#93452e" stroke="#e4c0ae" stroke-width="0.9" stroke-opacity="0.75" fill-opacity="0.96"/>
<ellipse cx="1072.2" cy="65.4" rx="8.3" ry="7.5" fill="#984a33" stroke="#e4c0ae" stroke-width="0.9" stroke-opacity="0.75" fill-opacity="0.96"/>
<ellipse cx="1088.4" cy="65.4" rx="6.0" ry="7.5" fill="#92442d" stroke="#e4c0ae" stroke-width="0.9" stroke-opacity="0.75" fill-opacity="0.96"/>
<ellipse cx="1111.2" cy="60.6" rx="8.3" ry="5.2" fill="#9d4f38" stroke="#e4c0ae" stroke-width="0.9" stroke-opacity="0.75" fill-opacity="0.96"/>
<ellipse cx="1051.2" cy="65.4" rx="5.2" ry="6.7" fill="#9b4d36" stroke="#e4c0ae" stroke-width="0.9" stroke-opacity="0.75" fill-opacity="0.96"/>
<ellipse cx="1150.7" cy="61.2" rx="8.3" ry="6.0" fill="#8f412a" stroke="#e4c0ae" stroke-width="0.9" stroke-opacity="0.75" fill-opacity="0.96"/>
<ellipse cx="1179.5" cy="64.2" rx="8.3" ry="7.5" fill="#90422b" stroke="#e4c0ae" stroke-width="0.9" stroke-opacity="0.75" fill-opacity="0.96"/>
<ellipse cx="1196.3" cy="63.6" rx="9.1" ry="8.3" fill="#9f513a" stroke="#e4c0ae" stroke-width="0.9" stroke-opacity="0.75" fill-opacity="0.96"/>
<ellipse cx="1199.9" cy="74.4" rx="8.3" ry="8.3" fill="#a0523b" stroke="#e4c0ae" stroke-width="0.9" stroke-opacity="0.75" fill-opacity="0.96"/>
<ellipse cx="1247.9" cy="66.6" rx="7.5" ry="7.5" fill="#984a33" stroke="#e4c0ae" stroke-width="0.9" stroke-opacity="0.75" fill-opacity="0.96"/>
<ellipse cx="1214.3" cy="74.4" rx="7.5" ry="9.9" fill="#984a33" stroke="#e4c0ae" stroke-width="0.9" stroke-opacity="0.75" fill-opacity="0.96"/>
<ellipse cx="1227.5" cy="75.0" rx="8.3" ry="6.7" fill="#7f331c" stroke="#e4c0ae" stroke-width="0.9" stroke-opacity="0.75" fill-opacity="0.96"/>
<ellipse cx="1267.0" cy="72.0" rx="4.4" ry="8.3" fill="#994b34" stroke="#e4c0ae" stroke-width="0.9" stroke-opacity="0.75" fill-opacity="0.96"/>
<ellipse cx="1127.9" cy="70.8" rx="8.3" ry="8.3" fill="#a1533c" stroke="#e4c0ae" stroke-width="0.9" stroke-opacity="0.75" fill-opacity="0.96"/>
<ellipse cx="1052.4" cy="76.2" rx="6.7" ry="7.5" fill="#9d4f38" stroke="#e4c0ae" stroke-width="0.9" stroke-opacity="0.75" fill-opacity="0.96"/>
<ellipse cx="1153.1" cy="73.8" rx="7.5" ry="7.5" fill="#a0523b" stroke="#e4c0ae" stroke-width="0.9" stroke-opacity="0.75" fill-opacity="0.96"/>
<ellipse cx="1086.0" cy="82.8" rx="8.3" ry="6.7" fill="#9c4e37" stroke="#e4c0ae" stroke-width="0.9" stroke-opacity="0.75" fill-opacity="0.96"/>
<ellipse cx="1104.0" cy="78.0" rx="6.7" ry="5.2" fill="#752912" stroke="#e4c0ae" stroke-width="0.9" stroke-opacity="0.75" fill-opacity="0.96"/>
<ellipse cx="1120.7" cy="83.4" rx="7.5" ry="6.7" fill="#a5644d" stroke="#e4c0ae" stroke-width="0.9" stroke-opacity="0.75" fill-opacity="0.92"/>
<ellipse cx="1144.7" cy="77.4" rx="6.0" ry="6.7" fill="#964831" stroke="#e4c0ae" stroke-width="0.9" stroke-opacity="0.75" fill-opacity="0.96"/>
<ellipse cx="1166.3" cy="79.8" rx="6.7" ry="9.1" fill="#9d4f38" stroke="#e4c0ae" stroke-width="0.9" stroke-opacity="0.75" fill-opacity="0.96"/>
<ellipse cx="1253.9" cy="83.4" rx="7.5" ry="6.7" fill="#90422b" stroke="#e4c0ae" stroke-width="0.9" stroke-opacity="0.75" fill-opacity="0.96"/>
<ellipse cx="1265.8" cy="79.8" rx="5.2" ry="6.0" fill="#8f412a" stroke="#e4c0ae" stroke-width="0.9" stroke-opacity="0.75" fill-opacity="0.96"/>
<ellipse cx="1058.4" cy="86.4" rx="6.0" ry="6.0" fill="#974932" stroke="#e4c0ae" stroke-width="0.9" stroke-opacity="0.75" fill-opacity="0.96"/>
<ellipse cx="1148.3" cy="89.4" rx="9.1" ry="8.3" fill="#a2543d" stroke="#e4c0ae" stroke-width="0.9" stroke-opacity="0.75" fill-opacity="0.96"/>
<ellipse cx="1157.9" cy="90.0" rx="6.0" ry="8.3" fill="#a0523b" stroke="#e4c0ae" stroke-width="0.9" stroke-opacity="0.75" fill-opacity="0.96"/>
<ellipse cx="1080.0" cy="91.8" rx="5.2" ry="6.7" fill="#9c4e37" stroke="#e4c0ae" stroke-width="0.9" stroke-opacity="0.75" fill-opacity="0.96"/>
<ellipse cx="1198.7" cy="92.4" rx="9.9" ry="7.5" fill="#974932" stroke="#e4c0ae" stroke-width="0.9" stroke-opacity="0.75" fill-opacity="0.96"/>
<ellipse cx="1238.3" cy="92.4" rx="9.1" ry="8.3" fill="#9a4c35" stroke="#e4c0ae" stroke-width="0.9" stroke-opacity="0.75" fill-opacity="0.96"/>
<ellipse cx="1264.6" cy="92.4" rx="6.7" ry="6.0" fill="#ae6d56" stroke="#e4c0ae" stroke-width="0.9" stroke-opacity="0.75" fill-opacity="0.92"/>
<ellipse cx="1108.8" cy="96.0" rx="8.3" ry="6.7" fill="#8e4029" stroke="#e4c0ae" stroke-width="0.9" stroke-opacity="0.75" fill-opacity="0.96"/>
<ellipse cx="1132.7" cy="98.4" rx="6.7" ry="9.1" fill="#9c4e37" stroke="#e4c0ae" stroke-width="0.9" stroke-opacity="0.75" fill-opacity="0.96"/>
<ellipse cx="1124.3" cy="99.0" rx="6.0" ry="6.7" fill="#994b34" stroke="#e4c0ae" stroke-width="0.9" stroke-opacity="0.75" fill-opacity="0.96"/>
<ellipse cx="1059.6" cy="103.8" rx="11.4" ry="9.1" fill="#a86750" stroke="#e4c0ae" stroke-width="0.9" stroke-opacity="0.75" fill-opacity="0.92"/>
<ellipse cx="1086.0" cy="102.0" rx="8.3" ry="6.7" fill="#a1533c" stroke="#e4c0ae" stroke-width="0.9" stroke-opacity="0.75" fill-opacity="0.96"/>
<ellipse cx="1100.4" cy="103.2" rx="9.1" ry="9.1" fill="#91432c" stroke="#e4c0ae" stroke-width="0.9" stroke-opacity="0.75" fill-opacity="0.96"/>
<ellipse cx="1163.9" cy="101.4" rx="7.5" ry="7.5" fill="#9d4f38" stroke="#e4c0ae" stroke-width="0.9" stroke-opacity="0.75" fill-opacity="0.96"/>
<ellipse cx="1154.3" cy="102.6" rx="7.5" ry="6.7" fill="#8f412a" stroke="#e4c0ae" stroke-width="0.9" stroke-opacity="0.75" fill-opacity="0.96"/>
<ellipse cx="1193.9" cy="99.6" rx="6.7" ry="5.2" fill="#94462f" stroke="#e4c0ae" stroke-width="0.9" stroke-opacity="0.75" fill-opacity="0.96"/>
<ellipse cx="1246.7" cy="101.4" rx="8.3" ry="8.3" fill="#974932" stroke="#e4c0ae" stroke-width="0.9" stroke-opacity="0.75" fill-opacity="0.96"/>
<ellipse cx="1255.7" cy="104.4" rx="7.5" ry="8.3" fill="#762a13" stroke="#e4c0ae" stroke-width="0.9" stroke-opacity="0.75" fill-opacity="0.96"/>
<ellipse cx="1217.9" cy="105.6" rx="11.4" ry="6.0" fill="#954730" stroke="#e4c0ae" stroke-width="0.9" stroke-opacity="0.75" fill-opacity="0.96"/>
<ellipse cx="1111.2" cy="106.8" rx="6.7" ry="9.1" fill="#9a4c35" stroke="#e4c0ae" stroke-width="0.9" stroke-opacity="0.75" fill-opacity="0.96"/>
<ellipse cx="1075.2" cy="115.2" rx="10.6" ry="10.6" fill="#9a4c35" stroke="#e4c0ae" stroke-width="0.9" stroke-opacity="0.75" fill-opacity="0.96"/>
<ellipse cx="1083.6" cy="114.0" rx="7.5" ry="9.1" fill="#9d4f38" stroke="#e4c0ae" stroke-width="0.9" stroke-opacity="0.75" fill-opacity="0.96"/>
<ellipse cx="1094.4" cy="112.8" rx="8.3" ry="7.5" fill="#90422b" stroke="#e4c0ae" stroke-width="0.9" stroke-opacity="0.75" fill-opacity="0.96"/>
<ellipse cx="1122.5" cy="112.8" rx="7.5" ry="9.1" fill="#93452e" stroke="#e4c0ae" stroke-width="0.9" stroke-opacity="0.75" fill-opacity="0.96"/>
<ellipse cx="1151.9" cy="116.4" rx="8.3" ry="9.1" fill="#9c4e37" stroke="#e4c0ae" stroke-width="0.9" stroke-opacity="0.75" fill-opacity="0.96"/>
<ellipse cx="1165.7" cy="117.6" rx="9.1" ry="9.9" fill="#9a4c35" stroke="#e4c0ae" stroke-width="0.9" stroke-opacity="0.75" fill-opacity="0.96"/>
<ellipse cx="1180.1" cy="114.0" rx="7.5" ry="8.3" fill="#9f513a" stroke="#e4c0ae" stroke-width="0.9" stroke-opacity="0.75" fill-opacity="0.96"/>
<ellipse cx="1213.7" cy="115.8" rx="7.5" ry="8.3" fill="#964831" stroke="#e4c0ae" stroke-width="0.9" stroke-opacity="0.75" fill-opacity="0.96"/>
<ellipse cx="1225.7" cy="114.0" rx="7.5" ry="9.9" fill="#92442d" stroke="#e4c0ae" stroke-width="0.9" stroke-opacity="0.75" fill-opacity="0.96"/>
<ellipse cx="1252.7" cy="117.6" rx="9.1" ry="9.1" fill="#9b4d36" stroke="#e4c0ae" stroke-width="0.9" stroke-opacity="0.75" fill-opacity="0.96"/>
<ellipse cx="1264.1" cy="117.6" rx="7.5" ry="8.3" fill="#9f513a" stroke="#e4c0ae" stroke-width="0.9" stroke-opacity="0.75" fill-opacity="0.96"/>
<ellipse cx="1051.2" cy="114.0" rx="5.2" ry="9.9" fill="#964831" stroke="#e4c0ae" stroke-width="0.9" stroke-opacity="0.75" fill-opacity="0.96"/>
<ellipse cx="1062.0" cy="127.2" rx="13.0" ry="11.4" fill="#b06f58" stroke="#e4c0ae" stroke-width="0.9" stroke-opacity="0.75" fill-opacity="0.92"/>
<ellipse cx="1092.6" cy="126.0" rx="7.5" ry="6.7" fill="#994b34" stroke="#e4c0ae" stroke-width="0.9" stroke-opacity="0.75" fill-opacity="0.96"/>
<ellipse cx="1080.0" cy="131.9" rx="9.1" ry="9.1" fill="#af6e57" stroke="#e4c0ae" stroke-width="0.9" stroke-opacity="0.75" fill-opacity="0.92"/>
<ellipse cx="1131.5" cy="123.6" rx="5.2" ry="8.3" fill="#aa6952" stroke="#e4c0ae" stroke-width="0.9" stroke-opacity="0.75" fill-opacity="0.92"/>
<ellipse cx="1157.9" cy="128.3" rx="8.3" ry="9.9" fill="#92442d" stroke="#e4c0ae" stroke-width="0.9" stroke-opacity="0.75" fill-opacity="0.96"/>
<ellipse cx="1172.3" cy="128.9" rx="7.5" ry="7.5" fill="#90422b" stroke="#e4c0ae" stroke-width="0.9" stroke-opacity="0.75" fill-opacity="0.96"/>
<ellipse cx="1187.9" cy="124.8" rx="6.0" ry="10.6" fill="#93452e" stroke="#e4c0ae" stroke-width="0.9" stroke-opacity="0.75" fill-opacity="0.96"/>
<ellipse cx="1199.9" cy="124.8" rx="11.4" ry="13.0" fill="#a7664f" stroke="#e4c0ae" stroke-width="0.9" stroke-opacity="0.75" fill-opacity="0.92"/>
<ellipse cx="1142.3" cy="134.9" rx="6.7" ry="10.6" fill="#954730" stroke="#e4c0ae" stroke-width="0.9" stroke-opacity="0.75" fill-opacity="0.96"/>
<ellipse cx="1220.3" cy="135.5" rx="8.3" ry="9.1" fill="#954730" stroke="#e4c0ae" stroke-width="0.9" stroke-opacity="0.75" fill-opacity="0.96"/>
<ellipse cx="1258.7" cy="131.9" rx="7.5" ry="6.7" fill="#8e4029" stroke="#e4c0ae" stroke-width="0.9" stroke-opacity="0.75" fill-opacity="0.96"/>
<ellipse cx="1115.4" cy="136.1" rx="9.1" ry="8.3" fill="#b2715a" stroke="#e4c0ae" stroke-width="0.9" stroke-opacity="0.75" fill-opacity="0.92"/>
<ellipse cx="1102.2" cy="138.5" rx="8.3" ry="8.3" fill="#a0523b" stroke="#e4c0ae" stroke-width="0.9" stroke-opacity="0.75" fill-opacity="0.96"/>
<ellipse cx="1202.3" cy="139.7" rx="7.5" ry="6.7" fill="#93452e" stroke="#e4c0ae" stroke-width="0.9" stroke-opacity="0.75" fill-opacity="0.96"/>
<ellipse cx="1252.7" cy="140.3" rx="6.7" ry="9.9" fill="#964831" stroke="#e4c0ae" stroke-width="0.9" stroke-opacity="0.75" fill-opacity="0.96"/>
<ellipse cx="1163.9" cy="142.7" rx="9.1" ry="6.7" fill="#974932" stroke="#e4c0ae" stroke-width="0.9" stroke-opacity="0.75" fill-opacity="0.96"/>
<ellipse cx="1185.5" cy="143.9" rx="6.0" ry="9.1" fill="#8e4029" stroke="#e4c0ae" stroke-width="0.9" stroke-opacity="0.75" fill-opacity="0.96"/>
<ellipse cx="1177.1" cy="141.5" rx="4.4" ry="8.3" fill="#92442d" stroke="#e4c0ae" stroke-width="0.9" stroke-opacity="0.75" fill-opacity="0.96"/>
<ellipse cx="1153.1" cy="145.1" rx="5.2" ry="9.9" fill="#9b4d36" stroke="#e4c0ae" stroke-width="0.9" stroke-opacity="0.75" fill-opacity="0.96"/>
<ellipse cx="1232.3" cy="143.9" rx="9.1" ry="8.3" fill="#9f513a" stroke="#e4c0ae" stroke-width="0.9" stroke-opacity="0.75" fill-opacity="0.96"/>
<ellipse cx="1073.4" cy="146.9" rx="7.5" ry="7.5" fill="#994b34" stroke="#e4c0ae" stroke-width="0.9" stroke-opacity="0.75" fill-opacity="0.96"/>
<ellipse cx="1059.6" cy="143.9" rx="5.2" ry="6.0" fill="#a1533c" stroke="#e4c0ae" stroke-width="0.9" stroke-opacity="0.75" fill-opacity="0.96"/>
<ellipse cx="1053.6" cy="149.9" rx="7.5" ry="7.5" fill="#a0523b" stroke="#e4c0ae" stroke-width="0.9" stroke-opacity="0.75" fill-opacity="0.96"/>
<ellipse cx="1092.6" cy="148.7" rx="9.1" ry="7.5" fill="#984a33" stroke="#e4c0ae" stroke-width="0.9" stroke-opacity="0.75" fill-opacity="0.96"/>
<ellipse cx="1120.7" cy="147.5" rx="7.5" ry="6.7" fill="#92442d" stroke="#e4c0ae" stroke-width="0.9" stroke-opacity="0.75" fill-opacity="0.96"/>
<ellipse cx="1197.5" cy="152.3" rx="9.1" ry="9.1" fill="#9e5039" stroke="#e4c0ae" stroke-width="0.9" stroke-opacity="0.75" fill-opacity="0.96"/>
<ellipse cx="1244.9" cy="149.9" rx="7.5" ry="7.5" fill="#a1533c" stroke="#e4c0ae" stroke-width="0.9" stroke-opacity="0.75" fill-opacity="0.96"/>
<ellipse cx="1265.8" cy="149.9" rx="6.0" ry="7.5" fill="#a2543d" stroke="#e4c0ae" stroke-width="0.9" stroke-opacity="0.75" fill-opacity="0.96"/>
<ellipse cx="1162.1" cy="154.1" rx="6.0" ry="9.1" fill="#8f412a" stroke="#e4c0ae" stroke-width="0.9" stroke-opacity="0.75" fill-opacity="0.96"/>
<ellipse cx="1173.5" cy="155.9" rx="9.1" ry="6.7" fill="#9c4e37" stroke="#e4c0ae" stroke-width="0.9" stroke-opacity="0.75" fill-opacity="0.96"/>
<ellipse cx="1120.1" cy="156.5" rx="6.7" ry="5.2" fill="#9f513a" stroke="#e4c0ae" stroke-width="0.9" stroke-opacity="0.75" fill-opacity="0.96"/>
<ellipse cx="1095.6" cy="159.5" rx="10.6" ry="9.9" fill="#9a4c35" stroke="#e4c0ae" stroke-width="0.9" stroke-opacity="0.75" fill-opacity="0.96"/>
<ellipse cx="1078.8" cy="162.5" rx="6.7" ry="8.3" fill="#7a2e17" stroke="#e4c0ae" stroke-width="0.9" stroke-opacity="0.75" fill-opacity="0.96"/>
<ellipse cx="1220.3" cy="157.7" rx="7.5" ry="8.3" fill="#9a4c35" stroke="#e4c0ae" stroke-width="0.9" stroke-opacity="0.75" fill-opacity="0.96"/>
<ellipse cx="1234.7" cy="159.5" rx="9.1" ry="9.9" fill="#9a4c35" stroke="#e4c0ae" stroke-width="0.9" stroke-opacity="0.75" fill-opacity="0.96"/>
<ellipse cx="1208.3" cy="160.7" rx="6.7" ry="8.3" fill="#a6654e" stroke="#e4c0ae" stroke-width="0.9" stroke-opacity="0.75" fill-opacity="0.92"/>
<ellipse cx="1247.9" cy="163.1" rx="7.5" ry="6.7" fill="#b2715a" stroke="#e4c0ae" stroke-width="0.9" stroke-opacity="0.75" fill-opacity="0.92"/>
<ellipse cx="1130.9" cy="163.1" rx="6.7" ry="8.3" fill="#a2543d" stroke="#e4c0ae" stroke-width="0.9" stroke-opacity="0.75" fill-opacity="0.96"/>
<ellipse cx="1117.2" cy="165.5" rx="7.5" ry="9.1" fill="#9a4c35" stroke="#e4c0ae" stroke-width="0.9" stroke-opacity="0.75" fill-opacity="0.96"/>
<ellipse cx="1193.9" cy="158.3" rx="6.7" ry="9.9" fill="#8f412a" stroke="#e4c0ae" stroke-width="0.9" stroke-opacity="0.75" fill-opacity="0.96"/>
<ellipse cx="1180.7" cy="166.1" rx="9.9" ry="11.4" fill="#94462f" stroke="#e4c0ae" stroke-width="0.9" stroke-opacity="0.75" fill-opacity="0.96"/>
<ellipse cx="1153.7" cy="166.1" rx="8.3" ry="6.7" fill="#90422b" stroke="#e4c0ae" stroke-width="0.9" stroke-opacity="0.75" fill-opacity="0.96"/>
<ellipse cx="1141.1" cy="169.1" rx="8.3" ry="9.9" fill="#94462f" stroke="#e4c0ae" stroke-width="0.9" stroke-opacity="0.75" fill-opacity="0.96"/>
<ellipse cx="1102.8" cy="167.9" rx="7.5" ry="7.5" fill="#9c4e37" stroke="#e4c0ae" stroke-width="0.9" stroke-opacity="0.75" fill-opacity="0.96"/>
<ellipse cx="1069.2" cy="170.9" rx="9.1" ry="8.3" fill="#a86750" stroke="#e4c0ae" stroke-width="0.9" stroke-opacity="0.75" fill-opacity="0.92"/>
<ellipse cx="1210.7" cy="172.1" rx="7.5" ry="6.7" fill="#91432c" stroke="#e4c0ae" stroke-width="0.9" stroke-opacity="0.75" fill-opacity="0.96"/>
<ellipse cx="1266.4" cy="175.1" rx="6.0" ry="8.3" fill="#984a33" stroke="#e4c0ae" stroke-width="0.9" stroke-opacity="0.75" fill-opacity="0.96"/>
<ellipse cx="1062.0" cy="177.5" rx="8.3" ry="5.2" fill="#3c0c04" stroke="#e4c0ae" stroke-width="0.9" stroke-opacity="0.75" fill-opacity="1"/>
<ellipse cx="1081.2" cy="173.9" rx="7.5" ry="6.7" fill="#a6654e" stroke="#e4c0ae" stroke-width="0.9" stroke-opacity="0.75" fill-opacity="0.92"/>
<ellipse cx="1143.5" cy="177.5" rx="11.4" ry="8.3" fill="#8e4029" stroke="#e4c0ae" stroke-width="0.9" stroke-opacity="0.75" fill-opacity="0.96"/>
<ellipse cx="1110.6" cy="178.7" rx="7.5" ry="8.3" fill="#a0523b" stroke="#e4c0ae" stroke-width="0.9" stroke-opacity="0.75" fill-opacity="0.96"/>
<ellipse cx="1125.5" cy="172.7" rx="4.4" ry="5.2" fill="#92442d" stroke="#e4c0ae" stroke-width="0.9" stroke-opacity="0.75" fill-opacity="0.96"/>
<ellipse cx="1054.2" cy="185.9" rx="9.1" ry="10.6" fill="#9f513a" stroke="#e4c0ae" stroke-width="0.9" stroke-opacity="0.75" fill-opacity="0.96"/>
<ellipse cx="1120.7" cy="183.5" rx="6.7" ry="10.6" fill="#91432c" stroke="#e4c0ae" stroke-width="0.9" stroke-opacity="0.75" fill-opacity="0.96"/>
<ellipse cx="1159.1" cy="184.1" rx="8.3" ry="9.1" fill="#994b34" stroke="#e4c0ae" stroke-width="0.9" stroke-opacity="0.75" fill-opacity="0.96"/>
<ellipse cx="1172.3" cy="183.5" rx="5.2" ry="7.5" fill="#a1533c" stroke="#e4c0ae" stroke-width="0.9" stroke-opacity="0.75" fill-opacity="0.96"/>
<ellipse cx="1185.5" cy="185.3" rx="7.5" ry="8.3" fill="#8e4029" stroke="#e4c0ae" stroke-width="0.9" stroke-opacity="0.75" fill-opacity="0.96"/>
<ellipse cx="1198.7" cy="179.9" rx="8.3" ry="11.4" fill="#a5644d" stroke="#e4c0ae" stroke-width="0.9" stroke-opacity="0.75" fill-opacity="0.92"/>
<ellipse cx="1223.9" cy="187.1" rx="10.6" ry="9.1" fill="#94462f" stroke="#e4c0ae" stroke-width="0.9" stroke-opacity="0.75" fill-opacity="0.96"/>
<ellipse cx="1238.3" cy="184.7" rx="9.1" ry="9.1" fill="#af6e57" stroke="#e4c0ae" stroke-width="0.9" stroke-opacity="0.75" fill-opacity="0.92"/>
<ellipse cx="1250.3" cy="189.5" rx="7.5" ry="9.9" fill="#a7664f" stroke="#e4c0ae" stroke-width="0.9" stroke-opacity="0.75" fill-opacity="0.92"/>
<ellipse cx="1262.3" cy="188.3" rx="7.5" ry="8.3" fill="#ab6a53" stroke="#e4c0ae" stroke-width="0.9" stroke-opacity="0.75" fill-opacity="0.92"/>
<ellipse cx="1070.4" cy="190.7" rx="9.9" ry="6.7" fill="#994b34" stroke="#e4c0ae" stroke-width="0.9" stroke-opacity="0.75" fill-opacity="0.96"/>
<ellipse cx="1086.0" cy="190.7" rx="8.3" ry="9.9" fill="#a1533c" stroke="#e4c0ae" stroke-width="0.9" stroke-opacity="0.75" fill-opacity="0.96"/>
<ellipse cx="1100.4" cy="197.9" rx="9.1" ry="11.4" fill="#994b34" stroke="#e4c0ae" stroke-width="0.9" stroke-opacity="0.75" fill-opacity="0.96"/>
<ellipse cx="1166.3" cy="202.7" rx="6.7" ry="7.5" fill="#3c0c04" stroke="#e4c0ae" stroke-width="0.9" stroke-opacity="0.75" fill-opacity="1"/>
<ellipse cx="1138.7" cy="202.7" rx="9.9" ry="9.9" fill="#91432c" stroke="#e4c0ae" stroke-width="0.9" stroke-opacity="0.75" fill-opacity="0.96"/>
<ellipse cx="1120.7" cy="203.9" rx="10.6" ry="9.1" fill="#a6654e" stroke="#e4c0ae" stroke-width="0.9" stroke-opacity="0.75" fill-opacity="0.92"/>
<ellipse cx="1183.1" cy="201.5" rx="9.9" ry="9.9" fill="#9d4f38" stroke="#e4c0ae" stroke-width="0.9" stroke-opacity="0.75" fill-opacity="0.96"/>
<ellipse cx="1199.9" cy="207.5" rx="11.4" ry="9.9" fill="#9c4e37" stroke="#e4c0ae" stroke-width="0.9" stroke-opacity="0.75" fill-opacity="0.96"/>
<ellipse cx="1228.7" cy="200.3" rx="7.5" ry="10.6" fill="#9d4f38" stroke="#e4c0ae" stroke-width="0.9" stroke-opacity="0.75" fill-opacity="0.96"/>
<ellipse cx="1235.9" cy="201.5" rx="8.3" ry="8.3" fill="#9d4f38" stroke="#e4c0ae" stroke-width="0.9" stroke-opacity="0.75" fill-opacity="0.96"/>
<ellipse cx="1075.2" cy="202.7" rx="6.0" ry="6.7" fill="#974932" stroke="#e4c0ae" stroke-width="0.9" stroke-opacity="0.75" fill-opacity="0.96"/>
<ellipse cx="1050.6" cy="201.5" rx="4.4" ry="6.7" fill="#90422b" stroke="#e4c0ae" stroke-width="0.9" stroke-opacity="0.75" fill-opacity="0.96"/>
<ellipse cx="1247.9" cy="196.7" rx="8.3" ry="8.3" fill="#a7664f" stroke="#e4c0ae" stroke-width="0.9" stroke-opacity="0.75" fill-opacity="0.92"/>
<ellipse cx="1233.5" cy="213.5" rx="9.1" ry="8.3" fill="#a6654e" stroke="#e4c0ae" stroke-width="0.9" stroke-opacity="0.75" fill-opacity="0.92"/>
<ellipse cx="1250.3" cy="213.5" rx="8.3" ry="8.3" fill="#984a33" stroke="#e4c0ae" stroke-width="0.9" stroke-opacity="0.75" fill-opacity="0.96"/>
<ellipse cx="1265.8" cy="212.3" rx="6.0" ry="6.7" fill="#ab6a53" stroke="#e4c0ae" stroke-width="0.9" stroke-opacity="0.75" fill-opacity="0.92"/>
<ellipse cx="1088.4" cy="209.3" rx="9.1" ry="7.5" fill="#9d4f38" stroke="#e4c0ae" stroke-width="0.9" stroke-opacity="0.75" fill-opacity="0.96"/>
<ellipse cx="1062.0" cy="209.9" rx="8.3" ry="6.7" fill="#a86750" stroke="#e4c0ae" stroke-width="0.9" stroke-opacity="0.75" fill-opacity="0.92"/>
<ellipse cx="1078.8" cy="214.7" rx="7.5" ry="8.3" fill="#9e5039" stroke="#e4c0ae" stroke-width="0.9" stroke-opacity="0.75" fill-opacity="0.96"/>
<ellipse cx="1108.8" cy="217.1" rx="7.5" ry="6.0" fill="#8e4029" stroke="#e4c0ae" stroke-width="0.9" stroke-opacity="0.75" fill-opacity="0.96"/>
<ellipse cx="1098.0" cy="218.3" rx="5.2" ry="8.3" fill="#94462f" stroke="#e4c0ae" stroke-width="0.9" stroke-opacity="0.75" fill-opacity="0.96"/>
<ellipse cx="1163.9" cy="215.9" rx="14.5" ry="9.9" fill="#b3725b" stroke="#e4c0ae" stroke-width="0.9" stroke-opacity="0.75" fill-opacity="0.92"/>
<ellipse cx="1139.9" cy="218.3" rx="8.3" ry="5.2" fill="#994b34" stroke="#e4c0ae" stroke-width="0.9" stroke-opacity="0.75" fill-opacity="0.96"/>
<ellipse cx="1126.7" cy="219.5" rx="6.7" ry="5.2" fill="#92442d" stroke="#e4c0ae" stroke-width="0.9" stroke-opacity="0.75" fill-opacity="0.96"/>
<ellipse cx="1187.9" cy="220.7" rx="8.3" ry="4.4" fill="#9f513a" stroke="#e4c0ae" stroke-width="0.9" stroke-opacity="0.75" fill-opacity="0.96"/>
<ellipse cx="1214.3" cy="218.3" rx="6.7" ry="6.0" fill="#8e4029" stroke="#e4c0ae" stroke-width="0.9" stroke-opacity="0.75" fill-opacity="0.96"/>
<ellipse cx="1051.2" cy="214.7" rx="4.4" ry="8.3" fill="#9e5039" stroke="#e4c0ae" stroke-width="0.9" stroke-opacity="0.75" fill-opacity="0.96"/>
<ellipse cx="1217.9" cy="212.3" rx="5.2" ry="6.7" fill="#974932" stroke="#e4c0ae" stroke-width="0.9" stroke-opacity="0.75" fill-opacity="0.96"/>
</g></g>
<rect x="1275.7" y="57" width="222" height="166" fill="#d7beb9"/>
<g clip-path="url(#c2)"><g filter="url(#nb)">
<rect x="1271.7" y="53" width="230" height="174" fill="#d7beb9"/>
<ellipse cx="1276.4" cy="170.2" rx="4.7" ry="6.1" fill="#c4a39b" stroke="#e6d4d0" stroke-width="0.9" stroke-opacity="0.75" fill-opacity="0.85"/>
<ellipse cx="1278.2" cy="181.8" rx="6.1" ry="5.1" fill="#bb9a92" stroke="#e6d4d0" stroke-width="0.9" stroke-opacity="0.75" fill-opacity="0.85"/>
<ellipse cx="1284.4" cy="94.5" rx="5.6" ry="4.9" fill="#be9d95" stroke="#e6d4d0" stroke-width="0.9" stroke-opacity="0.75" fill-opacity="0.85"/>
<ellipse cx="1294.6" cy="58.7" rx="5.4" ry="6.2" fill="#c2a199" stroke="#e6d4d0" stroke-width="0.9" stroke-opacity="0.75" fill-opacity="0.85"/>
<ellipse cx="1294.2" cy="151.1" rx="5.1" ry="4.8" fill="#bf9e96" stroke="#e6d4d0" stroke-width="0.9" stroke-opacity="0.75" fill-opacity="0.85"/>
<ellipse cx="1295.4" cy="182.9" rx="6.1" ry="5.2" fill="#bc9b93" stroke="#e6d4d0" stroke-width="0.9" stroke-opacity="0.75" fill-opacity="0.85"/>
<ellipse cx="1299.0" cy="103.8" rx="5.8" ry="4.9" fill="#bf9e96" stroke="#e6d4d0" stroke-width="0.9" stroke-opacity="0.75" fill-opacity="0.85"/>
<ellipse cx="1301.3" cy="112.6" rx="6.1" ry="5.5" fill="#bd9c94" stroke="#e6d4d0" stroke-width="0.9" stroke-opacity="0.75" fill-opacity="0.85"/>
<ellipse cx="1301.9" cy="200.7" rx="5.6" ry="5.1" fill="#c2a199" stroke="#e6d4d0" stroke-width="0.9" stroke-opacity="0.75" fill-opacity="0.85"/>
<ellipse cx="1304.4" cy="172.0" rx="6.1" ry="5.4" fill="#c2a199" stroke="#e6d4d0" stroke-width="0.9" stroke-opacity="0.75" fill-opacity="0.85"/>
<ellipse cx="1313.2" cy="88.2" rx="5.1" ry="5.7" fill="#c2a199" stroke="#e6d4d0" stroke-width="0.9" stroke-opacity="0.75" fill-opacity="0.85"/>
<ellipse cx="1309.6" cy="98.3" rx="5.0" ry="4.9" fill="#bf9e96" stroke="#e6d4d0" stroke-width="0.9" stroke-opacity="0.75" fill-opacity="0.85"/>
<ellipse cx="1310.8" cy="144.3" rx="5.9" ry="4.8" fill="#c4a39b" stroke="#e6d4d0" stroke-width="0.9" stroke-opacity="0.75" fill-opacity="0.85"/>
<ellipse cx="1311.3" cy="157.2" rx="5.7" ry="5.0" fill="#bd9c94" stroke="#e6d4d0" stroke-width="0.9" stroke-opacity="0.75" fill-opacity="0.85"/>
<ellipse cx="1310.7" cy="202.5" rx="6.1" ry="4.9" fill="#c3a29a" stroke="#e6d4d0" stroke-width="0.9" stroke-opacity="0.75" fill-opacity="0.85"/>
<ellipse cx="1314.9" cy="59.9" rx="5.5" ry="4.8" fill="#bd9c94" stroke="#e6d4d0" stroke-width="0.9" stroke-opacity="0.75" fill-opacity="0.85"/>
<ellipse cx="1318.1" cy="77.9" rx="5.4" ry="5.3" fill="#bd9c94" stroke="#e6d4d0" stroke-width="0.9" stroke-opacity="0.75" fill-opacity="0.85"/>
<ellipse cx="1317.4" cy="102.7" rx="5.5" ry="5.4" fill="#c09f97" stroke="#e6d4d0" stroke-width="0.9" stroke-opacity="0.75" fill-opacity="0.85"/>
<ellipse cx="1318.9" cy="177.3" rx="5.1" ry="5.0" fill="#bd9c94" stroke="#e6d4d0" stroke-width="0.9" stroke-opacity="0.75" fill-opacity="0.85"/>
<ellipse cx="1319.5" cy="204.5" rx="5.3" ry="5.8" fill="#bd9c94" stroke="#e6d4d0" stroke-width="0.9" stroke-opacity="0.75" fill-opacity="0.85"/>
<ellipse cx="1323.2" cy="110.0" rx="5.2" ry="5.3" fill="#c2a199" stroke="#e6d4d0" stroke-width="0.9" stroke-opacity="0.75" fill-opacity="0.85"/>
<ellipse cx="1324.0" cy="145.7" rx="5.7" ry="5.0" fill="#c1a098" stroke="#e6d4d0" stroke-width="0.9" stroke-opacity="0.75" fill-opacity="0.85"/>
<ellipse cx="1321.8" cy="215.8" rx="5.1" ry="6.1" fill="#bf9e96" stroke="#e6d4d0" stroke-width="0.9" stroke-opacity="0.75" fill-opacity="0.85"/>
<ellipse cx="1326.8" cy="76.9" rx="5.1" ry="4.9" fill="#ba9991" stroke="#e6d4d0" stroke-width="0.9" stroke-opacity="0.75" fill-opacity="0.85"/>
<ellipse cx="1326.9" cy="173.5" rx="4.6" ry="5.1" fill="#ba9991" stroke="#e6d4d0" stroke-width="0.9" stroke-opacity="0.75" fill-opacity="0.85"/>
<ellipse cx="1330.2" cy="209.2" rx="5.2" ry="5.2" fill="#be9d95" stroke="#e6d4d0" stroke-width="0.9" stroke-opacity="0.75" fill-opacity="0.85"/>
<ellipse cx="1333.3" cy="110.1" rx="5.3" ry="4.9" fill="#c1a098" stroke="#e6d4d0" stroke-width="0.9" stroke-opacity="0.75" fill-opacity="0.85"/>
<ellipse cx="1334.7" cy="153.0" rx="6.0" ry="5.4" fill="#be9d95" stroke="#e6d4d0" stroke-width="0.9" stroke-opacity="0.75" fill-opacity="0.85"/>
<ellipse cx="1341.0" cy="86.7" rx="5.4" ry="5.5" fill="#bd9c94" stroke="#e6d4d0" stroke-width="0.9" stroke-opacity="0.75" fill-opacity="0.85"/>
<ellipse cx="1339.9" cy="121.2" rx="5.7" ry="6.0" fill="#c3a29a" stroke="#e6d4d0" stroke-width="0.9" stroke-opacity="0.75" fill-opacity="0.85"/>
<ellipse cx="1338.6" cy="179.1" rx="5.6" ry="5.0" fill="#bf9e96" stroke="#e6d4d0" stroke-width="0.9" stroke-opacity="0.75" fill-opacity="0.85"/>
<ellipse cx="1338.2" cy="206.0" rx="4.8" ry="5.8" fill="#c1a098" stroke="#e6d4d0" stroke-width="0.9" stroke-opacity="0.75" fill-opacity="0.85"/>
<ellipse cx="1342.5" cy="60.7" rx="6.0" ry="5.9" fill="#bf9e96" stroke="#e6d4d0" stroke-width="0.9" stroke-opacity="0.75" fill-opacity="0.85"/>
<ellipse cx="1345.6" cy="186.5" rx="5.0" ry="5.8" fill="#bf9e96" stroke="#e6d4d0" stroke-width="0.9" stroke-opacity="0.75" fill-opacity="0.85"/>
<ellipse cx="1353.4" cy="181.3" rx="6.1" ry="4.8" fill="#bb9a92" stroke="#e6d4d0" stroke-width="0.9" stroke-opacity="0.75" fill-opacity="0.85"/>
<ellipse cx="1357.3" cy="191.6" rx="4.7" ry="5.6" fill="#bd9c94" stroke="#e6d4d0" stroke-width="0.9" stroke-opacity="0.75" fill-opacity="0.85"/>
<ellipse cx="1363.0" cy="149.6" rx="5.8" ry="5.7" fill="#bb9a92" stroke="#e6d4d0" stroke-width="0.9" stroke-opacity="0.75" fill-opacity="0.85"/>
<ellipse cx="1360.9" cy="202.3" rx="5.9" ry="6.1" fill="#bd9c94" stroke="#e6d4d0" stroke-width="0.9" stroke-opacity="0.75" fill-opacity="0.85"/>
<ellipse cx="1366.0" cy="116.9" rx="5.4" ry="5.6" fill="#c1a098" stroke="#e6d4d0" stroke-width="0.9" stroke-opacity="0.75" fill-opacity="0.85"/>
<ellipse cx="1365.6" cy="184.2" rx="5.1" ry="4.7" fill="#bd9c94" stroke="#e6d4d0" stroke-width="0.9" stroke-opacity="0.75" fill-opacity="0.85"/>
<ellipse cx="1374.7" cy="113.3" rx="5.6" ry="5.2" fill="#bf9e96" stroke="#e6d4d0" stroke-width="0.9" stroke-opacity="0.75" fill-opacity="0.85"/>
<ellipse cx="1378.0" cy="147.7" rx="6.1" ry="5.8" fill="#bd9c94" stroke="#e6d4d0" stroke-width="0.9" stroke-opacity="0.75" fill-opacity="0.85"/>
<ellipse cx="1379.5" cy="171.2" rx="5.5" ry="5.9" fill="#c1a098" stroke="#e6d4d0" stroke-width="0.9" stroke-opacity="0.75" fill-opacity="0.85"/>
<ellipse cx="1377.7" cy="219.1" rx="5.8" ry="5.0" fill="#c3a29a" stroke="#e6d4d0" stroke-width="0.9" stroke-opacity="0.75" fill-opacity="0.85"/>
<ellipse cx="1387.6" cy="131.8" rx="5.8" ry="4.7" fill="#c3a29a" stroke="#e6d4d0" stroke-width="0.9" stroke-opacity="0.75" fill-opacity="0.85"/>
<ellipse cx="1386.5" cy="181.2" rx="6.0" ry="4.8" fill="#ba9991" stroke="#e6d4d0" stroke-width="0.9" stroke-opacity="0.75" fill-opacity="0.85"/>
<ellipse cx="1392.7" cy="60.6" rx="5.9" ry="5.3" fill="#c1a098" stroke="#e6d4d0" stroke-width="0.9" stroke-opacity="0.75" fill-opacity="0.85"/>
<ellipse cx="1395.5" cy="113.5" rx="5.1" ry="6.1" fill="#c4a39b" stroke="#e6d4d0" stroke-width="0.9" stroke-opacity="0.75" fill-opacity="0.85"/>
<ellipse cx="1401.8" cy="219.8" rx="6.1" ry="5.8" fill="#bf9e96" stroke="#e6d4d0" stroke-width="0.9" stroke-opacity="0.75" fill-opacity="0.85"/>
<ellipse cx="1403.5" cy="103.8" rx="5.3" ry="5.6" fill="#c4a39b" stroke="#e6d4d0" stroke-width="0.9" stroke-opacity="0.75" fill-opacity="0.85"/>
<ellipse cx="1407.1" cy="141.6" rx="5.4" ry="4.9" fill="#bb9a92" stroke="#e6d4d0" stroke-width="0.9" stroke-opacity="0.75" fill-opacity="0.85"/>
<ellipse cx="1411.4" cy="91.8" rx="4.7" ry="4.7" fill="#c4a39b" stroke="#e6d4d0" stroke-width="0.9" stroke-opacity="0.75" fill-opacity="0.85"/>
<ellipse cx="1409.6" cy="203.9" rx="4.7" ry="4.8" fill="#bb9a92" stroke="#e6d4d0" stroke-width="0.9" stroke-opacity="0.75" fill-opacity="0.85"/>
<ellipse cx="1413.9" cy="173.8" rx="5.1" ry="5.6" fill="#c09f97" stroke="#e6d4d0" stroke-width="0.9" stroke-opacity="0.75" fill-opacity="0.85"/>
<ellipse cx="1414.6" cy="183.1" rx="5.6" ry="5.1" fill="#bd9c94" stroke="#e6d4d0" stroke-width="0.9" stroke-opacity="0.75" fill-opacity="0.85"/>
<ellipse cx="1416.8" cy="212.1" rx="5.9" ry="5.9" fill="#c1a098" stroke="#e6d4d0" stroke-width="0.9" stroke-opacity="0.75" fill-opacity="0.85"/>
<ellipse cx="1429.0" cy="215.6" rx="5.0" ry="5.5" fill="#bc9b93" stroke="#e6d4d0" stroke-width="0.9" stroke-opacity="0.75" fill-opacity="0.85"/>
<ellipse cx="1430.9" cy="72.7" rx="5.6" ry="5.4" fill="#c09f97" stroke="#e6d4d0" stroke-width="0.9" stroke-opacity="0.75" fill-opacity="0.85"/>
<ellipse cx="1433.1" cy="99.5" rx="4.7" ry="5.2" fill="#c4a39b" stroke="#e6d4d0" stroke-width="0.9" stroke-opacity="0.75" fill-opacity="0.85"/>
<ellipse cx="1434.1" cy="109.2" rx="5.2" ry="5.8" fill="#bf9e96" stroke="#e6d4d0" stroke-width="0.9" stroke-opacity="0.75" fill-opacity="0.85"/>
<ellipse cx="1432.7" cy="157.0" rx="4.6" ry="5.2" fill="#bb9a92" stroke="#e6d4d0" stroke-width="0.9" stroke-opacity="0.75" fill-opacity="0.85"/>
<ellipse cx="1439.2" cy="75.9" rx="5.2" ry="6.1" fill="#c09f97" stroke="#e6d4d0" stroke-width="0.9" stroke-opacity="0.75" fill-opacity="0.85"/>
<ellipse cx="1436.0" cy="85.2" rx="5.7" ry="5.5" fill="#c1a098" stroke="#e6d4d0" stroke-width="0.9" stroke-opacity="0.75" fill-opacity="0.85"/>
<ellipse cx="1439.4" cy="119.9" rx="5.6" ry="5.3" fill="#c09f97" stroke="#e6d4d0" stroke-width="0.9" stroke-opacity="0.75" fill-opacity="0.85"/>
<ellipse cx="1437.4" cy="199.9" rx="5.1" ry="5.5" fill="#bb9a92" stroke="#e6d4d0" stroke-width="0.9" stroke-opacity="0.75" fill-opacity="0.85"/>
<ellipse cx="1438.8" cy="214.1" rx="5.5" ry="5.5" fill="#bc9b93" stroke="#e6d4d0" stroke-width="0.9" stroke-opacity="0.75" fill-opacity="0.85"/>
<ellipse cx="1461.3" cy="65.9" rx="5.0" ry="5.9" fill="#bc9b93" stroke="#e6d4d0" stroke-width="0.9" stroke-opacity="0.75" fill-opacity="0.85"/>
<ellipse cx="1460.2" cy="107.2" rx="5.4" ry="5.7" fill="#bc9b93" stroke="#e6d4d0" stroke-width="0.9" stroke-opacity="0.75" fill-opacity="0.85"/>
<ellipse cx="1462.3" cy="139.0" rx="5.6" ry="5.8" fill="#ba9991" stroke="#e6d4d0" stroke-width="0.9" stroke-opacity="0.75" fill-opacity="0.85"/>
<ellipse cx="1462.2" cy="196.8" rx="5.9" ry="6.1" fill="#bc9b93" stroke="#e6d4d0" stroke-width="0.9" stroke-opacity="0.75" fill-opacity="0.85"/>
<ellipse cx="1461.3" cy="219.9" rx="5.0" ry="4.6" fill="#c3a29a" stroke="#e6d4d0" stroke-width="0.9" stroke-opacity="0.75" fill-opacity="0.85"/>
<ellipse cx="1465.9" cy="74.6" rx="6.0" ry="5.6" fill="#c1a098" stroke="#e6d4d0" stroke-width="0.9" stroke-opacity="0.75" fill-opacity="0.85"/>
<ellipse cx="1470.4" cy="170.7" rx="5.4" ry="4.7" fill="#c4a39b" stroke="#e6d4d0" stroke-width="0.9" stroke-opacity="0.75" fill-opacity="0.85"/>
<ellipse cx="1471.2" cy="193.3" rx="5.5" ry="5.3" fill="#bc9b93" stroke="#e6d4d0" stroke-width="0.9" stroke-opacity="0.75" fill-opacity="0.85"/>
<ellipse cx="1471.1" cy="203.2" rx="4.7" ry="5.2" fill="#c3a29a" stroke="#e6d4d0" stroke-width="0.9" stroke-opacity="0.75" fill-opacity="0.85"/>
<ellipse cx="1472.5" cy="214.7" rx="6.1" ry="5.5" fill="#c3a29a" stroke="#e6d4d0" stroke-width="0.9" stroke-opacity="0.75" fill-opacity="0.85"/>
<ellipse cx="1478.6" cy="153.6" rx="4.8" ry="5.5" fill="#c1a098" stroke="#e6d4d0" stroke-width="0.9" stroke-opacity="0.75" fill-opacity="0.85"/>
<ellipse cx="1478.3" cy="175.4" rx="5.7" ry="5.5" fill="#c4a39b" stroke="#e6d4d0" stroke-width="0.9" stroke-opacity="0.75" fill-opacity="0.85"/>
<ellipse cx="1482.7" cy="144.6" rx="4.8" ry="5.8" fill="#bf9e96" stroke="#e6d4d0" stroke-width="0.9" stroke-opacity="0.75" fill-opacity="0.85"/>
<ellipse cx="1484.5" cy="218.0" rx="4.9" ry="5.2" fill="#bc9b93" stroke="#e6d4d0" stroke-width="0.9" stroke-opacity="0.75" fill-opacity="0.85"/>
<ellipse cx="1488.5" cy="91.2" rx="4.9" ry="6.2" fill="#c2a199" stroke="#e6d4d0" stroke-width="0.9" stroke-opacity="0.75" fill-opacity="0.85"/>
<ellipse cx="1493.0" cy="140.3" rx="5.7" ry="5.4" fill="#c2a199" stroke="#e6d4d0" stroke-width="0.9" stroke-opacity="0.75" fill-opacity="0.85"/>
<ellipse cx="1493.9" cy="192.2" rx="5.7" ry="5.6" fill="#bc9b93" stroke="#e6d4d0" stroke-width="0.9" stroke-opacity="0.75" fill-opacity="0.85"/>
<ellipse cx="1284.0" cy="60.6" rx="10.6" ry="4.8" fill="#a87a70" stroke="#e6d4d0" stroke-width="0.9" stroke-opacity="0.75" fill-opacity="0.93"/>
<ellipse cx="1305.6" cy="64.2" rx="7.0" ry="7.0" fill="#9c6658" stroke="#e6d4d0" stroke-width="0.9" stroke-opacity="0.75" fill-opacity="0.95"/>
<ellipse cx="1328.4" cy="62.4" rx="6.3" ry="6.3" fill="#b4867c" stroke="#e6d4d0" stroke-width="0.9" stroke-opacity="0.75" fill-opacity="0.93"/>
<ellipse cx="1353.5" cy="59.4" rx="6.3" ry="4.1" fill="#b3857b" stroke="#e6d4d0" stroke-width="0.9" stroke-opacity="0.75" fill-opacity="0.93"/>
<ellipse cx="1366.7" cy="59.4" rx="6.3" ry="4.1" fill="#b2847a" stroke="#e6d4d0" stroke-width="0.9" stroke-opacity="0.75" fill-opacity="0.93"/>
<ellipse cx="1379.9" cy="63.6" rx="7.7" ry="7.7" fill="#a97b71" stroke="#e6d4d0" stroke-width="0.9" stroke-opacity="0.75" fill-opacity="0.93"/>
<ellipse cx="1417.1" cy="61.2" rx="9.1" ry="6.3" fill="#b08278" stroke="#e6d4d0" stroke-width="0.9" stroke-opacity="0.75" fill-opacity="0.93"/>
<ellipse cx="1431.5" cy="63.0" rx="7.7" ry="5.5" fill="#b3857b" stroke="#e6d4d0" stroke-width="0.9" stroke-opacity="0.75" fill-opacity="0.93"/>
<ellipse cx="1450.7" cy="64.2" rx="6.3" ry="6.3" fill="#9e685a" stroke="#e6d4d0" stroke-width="0.9" stroke-opacity="0.75" fill-opacity="0.95"/>
<ellipse cx="1468.7" cy="60.0" rx="6.3" ry="4.8" fill="#ae8076" stroke="#e6d4d0" stroke-width="0.9" stroke-opacity="0.75" fill-opacity="0.93"/>
<ellipse cx="1483.1" cy="62.4" rx="6.3" ry="6.3" fill="#ab7d73" stroke="#e6d4d0" stroke-width="0.9" stroke-opacity="0.75" fill-opacity="0.93"/>
<ellipse cx="1493.8" cy="66.0" rx="4.1" ry="9.1" fill="#ab7d73" stroke="#e6d4d0" stroke-width="0.9" stroke-opacity="0.75" fill-opacity="0.93"/>
<ellipse cx="1278.0" cy="75.6" rx="4.1" ry="7.7" fill="#a87a70" stroke="#e6d4d0" stroke-width="0.9" stroke-opacity="0.75" fill-opacity="0.93"/>
<ellipse cx="1287.0" cy="81.6" rx="6.3" ry="9.1" fill="#a696ac" stroke="#e6d4d0" stroke-width="0.9" stroke-opacity="0.75" fill-opacity="0.88"/>
<ellipse cx="1305.6" cy="75.0" rx="9.9" ry="7.7" fill="#ab7d73" stroke="#e6d4d0" stroke-width="0.9" stroke-opacity="0.75" fill-opacity="0.93"/>
<ellipse cx="1337.4" cy="70.8" rx="7.7" ry="8.4" fill="#ac7e74" stroke="#e6d4d0" stroke-width="0.9" stroke-opacity="0.75" fill-opacity="0.93"/>
<ellipse cx="1346.3" cy="69.6" rx="6.3" ry="6.3" fill="#b08278" stroke="#e6d4d0" stroke-width="0.9" stroke-opacity="0.75" fill-opacity="0.93"/>
<ellipse cx="1359.5" cy="72.0" rx="7.7" ry="9.1" fill="#a595ab" stroke="#e6d4d0" stroke-width="0.9" stroke-opacity="0.75" fill-opacity="0.88"/>
<ellipse cx="1378.7" cy="77.4" rx="7.0" ry="7.0" fill="#b4867c" stroke="#e6d4d0" stroke-width="0.9" stroke-opacity="0.75" fill-opacity="0.93"/>
<ellipse cx="1399.1" cy="71.4" rx="7.7" ry="7.0" fill="#b18379" stroke="#e6d4d0" stroke-width="0.9" stroke-opacity="0.75" fill-opacity="0.93"/>
<ellipse cx="1405.1" cy="79.2" rx="6.3" ry="9.1" fill="#ad7f75" stroke="#e6d4d0" stroke-width="0.9" stroke-opacity="0.75" fill-opacity="0.93"/>
<ellipse cx="1421.9" cy="79.8" rx="11.3" ry="6.3" fill="#ac7e74" stroke="#e6d4d0" stroke-width="0.9" stroke-opacity="0.75" fill-opacity="0.93"/>
<ellipse cx="1455.5" cy="76.8" rx="6.3" ry="7.7" fill="#b08278" stroke="#e6d4d0" stroke-width="0.9" stroke-opacity="0.75" fill-opacity="0.93"/>
<ellipse cx="1475.9" cy="81.0" rx="8.4" ry="7.0" fill="#ae8076" stroke="#e6d4d0" stroke-width="0.9" stroke-opacity="0.75" fill-opacity="0.93"/>
<ellipse cx="1493.8" cy="82.2" rx="4.1" ry="9.1" fill="#aa7c72" stroke="#e6d4d0" stroke-width="0.9" stroke-opacity="0.75" fill-opacity="0.93"/>
<ellipse cx="1299.6" cy="90.6" rx="8.4" ry="7.0" fill="#a87a70" stroke="#e6d4d0" stroke-width="0.9" stroke-opacity="0.75" fill-opacity="0.93"/>
<ellipse cx="1326.0" cy="88.2" rx="8.4" ry="7.7" fill="#b3857b" stroke="#e6d4d0" stroke-width="0.9" stroke-opacity="0.75" fill-opacity="0.93"/>
<ellipse cx="1351.1" cy="84.6" rx="5.5" ry="8.4" fill="#ad7f75" stroke="#e6d4d0" stroke-width="0.9" stroke-opacity="0.75" fill-opacity="0.93"/>
<ellipse cx="1367.9" cy="82.8" rx="7.0" ry="7.7" fill="#97533f" stroke="#e6d4d0" stroke-width="0.9" stroke-opacity="0.75" fill-opacity="0.95"/>
<ellipse cx="1387.1" cy="92.4" rx="7.0" ry="7.0" fill="#b2847a" stroke="#e6d4d0" stroke-width="0.9" stroke-opacity="0.75" fill-opacity="0.93"/>
<ellipse cx="1400.3" cy="90.0" rx="7.0" ry="9.9" fill="#b18379" stroke="#e6d4d0" stroke-width="0.9" stroke-opacity="0.75" fill-opacity="0.93"/>
<ellipse cx="1424.3" cy="91.2" rx="6.3" ry="7.7" fill="#b08278" stroke="#e6d4d0" stroke-width="0.9" stroke-opacity="0.75" fill-opacity="0.93"/>
<ellipse cx="1451.9" cy="93.6" rx="10.6" ry="8.4" fill="#ae8076" stroke="#e6d4d0" stroke-width="0.9" stroke-opacity="0.75" fill-opacity="0.93"/>
<ellipse cx="1468.7" cy="98.4" rx="7.0" ry="7.7" fill="#b08278" stroke="#e6d4d0" stroke-width="0.9" stroke-opacity="0.75" fill-opacity="0.93"/>
<ellipse cx="1481.9" cy="100.2" rx="5.5" ry="7.7" fill="#aa7c72" stroke="#e6d4d0" stroke-width="0.9" stroke-opacity="0.75" fill-opacity="0.93"/>
<ellipse cx="1336.8" cy="97.2" rx="6.3" ry="5.5" fill="#a46e60" stroke="#e6d4d0" stroke-width="0.9" stroke-opacity="0.75" fill-opacity="0.95"/>
<ellipse cx="1365.5" cy="102.6" rx="11.3" ry="12.7" fill="#aa7c72" stroke="#e6d4d0" stroke-width="0.9" stroke-opacity="0.75" fill-opacity="0.93"/>
<ellipse cx="1287.6" cy="106.8" rx="8.4" ry="7.0" fill="#a46e60" stroke="#e6d4d0" stroke-width="0.9" stroke-opacity="0.75" fill-opacity="0.95"/>
<ellipse cx="1279.2" cy="104.4" rx="4.8" ry="7.7" fill="#a46e60" stroke="#e6d4d0" stroke-width="0.9" stroke-opacity="0.75" fill-opacity="0.95"/>
<ellipse cx="1347.5" cy="107.4" rx="7.0" ry="7.7" fill="#a87a70" stroke="#e6d4d0" stroke-width="0.9" stroke-opacity="0.75" fill-opacity="0.93"/>
<ellipse cx="1387.7" cy="105.6" rx="9.1" ry="7.0" fill="#af8177" stroke="#e6d4d0" stroke-width="0.9" stroke-opacity="0.75" fill-opacity="0.93"/>
<ellipse cx="1417.1" cy="106.8" rx="9.1" ry="7.7" fill="#b4867c" stroke="#e6d4d0" stroke-width="0.9" stroke-opacity="0.75" fill-opacity="0.93"/>
<ellipse cx="1446.5" cy="107.4" rx="7.0" ry="9.1" fill="#924e3a" stroke="#e6d4d0" stroke-width="0.9" stroke-opacity="0.75" fill-opacity="0.95"/>
<ellipse cx="1474.7" cy="104.4" rx="7.7" ry="7.7" fill="#b18379" stroke="#e6d4d0" stroke-width="0.9" stroke-opacity="0.75" fill-opacity="0.93"/>
<ellipse cx="1489.7" cy="106.8" rx="6.3" ry="6.3" fill="#a87a70" stroke="#e6d4d0" stroke-width="0.9" stroke-opacity="0.75" fill-opacity="0.93"/>
<ellipse cx="1315.8" cy="117.6" rx="8.4" ry="7.0" fill="#b4867c" stroke="#e6d4d0" stroke-width="0.9" stroke-opacity="0.75" fill-opacity="0.93"/>
<ellipse cx="1329.0" cy="119.4" rx="7.0" ry="7.0" fill="#b4867c" stroke="#e6d4d0" stroke-width="0.9" stroke-opacity="0.75" fill-opacity="0.93"/>
<ellipse cx="1294.8" cy="120.6" rx="6.3" ry="6.3" fill="#aa7c72" stroke="#e6d4d0" stroke-width="0.9" stroke-opacity="0.75" fill-opacity="0.93"/>
<ellipse cx="1279.2" cy="120.0" rx="4.8" ry="7.7" fill="#9e685a" stroke="#e6d4d0" stroke-width="0.9" stroke-opacity="0.75" fill-opacity="0.95"/>
<ellipse cx="1387.7" cy="118.8" rx="5.5" ry="7.0" fill="#aa7c72" stroke="#e6d4d0" stroke-width="0.9" stroke-opacity="0.75" fill-opacity="0.93"/>
<ellipse cx="1417.7" cy="118.8" rx="6.3" ry="7.7" fill="#af8177" stroke="#e6d4d0" stroke-width="0.9" stroke-opacity="0.75" fill-opacity="0.93"/>
<ellipse cx="1426.7" cy="121.2" rx="4.8" ry="9.1" fill="#ab9bb1" stroke="#e6d4d0" stroke-width="0.9" stroke-opacity="0.75" fill-opacity="0.88"/>
<ellipse cx="1450.7" cy="116.4" rx="7.7" ry="4.8" fill="#9b5743" stroke="#e6d4d0" stroke-width="0.9" stroke-opacity="0.75" fill-opacity="0.95"/>
<ellipse cx="1448.9" cy="127.2" rx="8.4" ry="7.0" fill="#a97b71" stroke="#e6d4d0" stroke-width="0.9" stroke-opacity="0.75" fill-opacity="0.93"/>
<ellipse cx="1468.7" cy="123.6" rx="7.7" ry="8.4" fill="#aa9ab0" stroke="#e6d4d0" stroke-width="0.9" stroke-opacity="0.75" fill-opacity="0.88"/>
<ellipse cx="1481.9" cy="124.8" rx="7.0" ry="9.9" fill="#a87a70" stroke="#e6d4d0" stroke-width="0.9" stroke-opacity="0.75" fill-opacity="0.93"/>
<ellipse cx="1490.3" cy="117.6" rx="5.5" ry="5.5" fill="#ad7f75" stroke="#e6d4d0" stroke-width="0.9" stroke-opacity="0.75" fill-opacity="0.93"/>
<ellipse cx="1309.2" cy="128.3" rx="9.1" ry="8.4" fill="#b2847a" stroke="#e6d4d0" stroke-width="0.9" stroke-opacity="0.75" fill-opacity="0.93"/>
<ellipse cx="1349.9" cy="123.6" rx="7.0" ry="7.7" fill="#b08278" stroke="#e6d4d0" stroke-width="0.9" stroke-opacity="0.75" fill-opacity="0.93"/>
<ellipse cx="1357.7" cy="124.2" rx="5.5" ry="8.4" fill="#b08278" stroke="#e6d4d0" stroke-width="0.9" stroke-opacity="0.75" fill-opacity="0.93"/>
<ellipse cx="1377.5" cy="127.2" rx="8.4" ry="8.4" fill="#b08278" stroke="#e6d4d0" stroke-width="0.9" stroke-opacity="0.75" fill-opacity="0.93"/>
<ellipse cx="1400.9" cy="126.6" rx="9.1" ry="8.4" fill="#af8177" stroke="#e6d4d0" stroke-width="0.9" stroke-opacity="0.75" fill-opacity="0.93"/>
<ellipse cx="1417.1" cy="132.5" rx="6.3" ry="7.7" fill="#b4867c" stroke="#e6d4d0" stroke-width="0.9" stroke-opacity="0.75" fill-opacity="0.93"/>
<ellipse cx="1430.3" cy="133.1" rx="7.7" ry="7.0" fill="#b4867c" stroke="#e6d4d0" stroke-width="0.9" stroke-opacity="0.75" fill-opacity="0.93"/>
<ellipse cx="1439.9" cy="139.1" rx="7.0" ry="7.0" fill="#a393a9" stroke="#e6d4d0" stroke-width="0.9" stroke-opacity="0.75" fill-opacity="0.88"/>
<ellipse cx="1451.9" cy="140.3" rx="6.3" ry="7.7" fill="#aa9ab0" stroke="#e6d4d0" stroke-width="0.9" stroke-opacity="0.75" fill-opacity="0.88"/>
<ellipse cx="1486.7" cy="131.9" rx="6.3" ry="6.3" fill="#a87a70" stroke="#e6d4d0" stroke-width="0.9" stroke-opacity="0.75" fill-opacity="0.93"/>
<ellipse cx="1285.2" cy="136.7" rx="8.4" ry="7.7" fill="#ab7d73" stroke="#e6d4d0" stroke-width="0.9" stroke-opacity="0.75" fill-opacity="0.93"/>
<ellipse cx="1297.8" cy="142.1" rx="6.3" ry="7.0" fill="#934f3b" stroke="#e6d4d0" stroke-width="0.9" stroke-opacity="0.75" fill-opacity="0.95"/>
<ellipse cx="1330.2" cy="137.3" rx="7.0" ry="7.7" fill="#a06a5c" stroke="#e6d4d0" stroke-width="0.9" stroke-opacity="0.75" fill-opacity="0.95"/>
<ellipse cx="1338.6" cy="137.9" rx="6.3" ry="7.0" fill="#9c6658" stroke="#e6d4d0" stroke-width="0.9" stroke-opacity="0.75" fill-opacity="0.95"/>
<ellipse cx="1366.7" cy="139.7" rx="7.0" ry="8.4" fill="#b4867c" stroke="#e6d4d0" stroke-width="0.9" stroke-opacity="0.75" fill-opacity="0.93"/>
<ellipse cx="1378.7" cy="135.5" rx="6.3" ry="5.5" fill="#a97b71" stroke="#e6d4d0" stroke-width="0.9" stroke-opacity="0.75" fill-opacity="0.93"/>
<ellipse cx="1391.9" cy="143.9" rx="9.1" ry="6.3" fill="#a46e60" stroke="#e6d4d0" stroke-width="0.9" stroke-opacity="0.75" fill-opacity="0.95"/>
<ellipse cx="1471.1" cy="143.9" rx="8.4" ry="5.5" fill="#a36d5f" stroke="#e6d4d0" stroke-width="0.9" stroke-opacity="0.75" fill-opacity="0.95"/>
<ellipse cx="1346.3" cy="145.1" rx="7.0" ry="10.6" fill="#aa9ab0" stroke="#e6d4d0" stroke-width="0.9" stroke-opacity="0.75" fill-opacity="0.88"/>
<ellipse cx="1418.3" cy="148.7" rx="7.7" ry="7.0" fill="#a87a70" stroke="#e6d4d0" stroke-width="0.9" stroke-opacity="0.75" fill-opacity="0.93"/>
<ellipse cx="1433.9" cy="147.5" rx="4.8" ry="7.7" fill="#b4867c" stroke="#e6d4d0" stroke-width="0.9" stroke-opacity="0.75" fill-opacity="0.93"/>
<ellipse cx="1279.2" cy="148.7" rx="5.5" ry="7.7" fill="#a97b71" stroke="#e6d4d0" stroke-width="0.9" stroke-opacity="0.75" fill-opacity="0.93"/>
<ellipse cx="1304.4" cy="151.1" rx="5.5" ry="6.3" fill="#a999af" stroke="#e6d4d0" stroke-width="0.9" stroke-opacity="0.75" fill-opacity="0.88"/>
<ellipse cx="1320.0" cy="153.5" rx="5.5" ry="5.5" fill="#ad7f75" stroke="#e6d4d0" stroke-width="0.9" stroke-opacity="0.75" fill-opacity="0.93"/>
<ellipse cx="1349.9" cy="152.3" rx="7.0" ry="6.3" fill="#b18379" stroke="#e6d4d0" stroke-width="0.9" stroke-opacity="0.75" fill-opacity="0.93"/>
<ellipse cx="1371.5" cy="157.1" rx="7.0" ry="7.7" fill="#b08278" stroke="#e6d4d0" stroke-width="0.9" stroke-opacity="0.75" fill-opacity="0.93"/>
<ellipse cx="1396.7" cy="158.3" rx="7.7" ry="8.4" fill="#b18379" stroke="#e6d4d0" stroke-width="0.9" stroke-opacity="0.75" fill-opacity="0.93"/>
<ellipse cx="1406.9" cy="157.1" rx="4.8" ry="8.4" fill="#b08278" stroke="#e6d4d0" stroke-width="0.9" stroke-opacity="0.75" fill-opacity="0.93"/>
<ellipse cx="1449.5" cy="153.5" rx="6.3" ry="4.8" fill="#ab7d73" stroke="#e6d4d0" stroke-width="0.9" stroke-opacity="0.75" fill-opacity="0.93"/>
<ellipse cx="1465.1" cy="160.7" rx="9.9" ry="5.5" fill="#a77163" stroke="#e6d4d0" stroke-width="0.9" stroke-opacity="0.75" fill-opacity="0.95"/>
<ellipse cx="1483.1" cy="164.3" rx="9.9" ry="7.0" fill="#a06a5c" stroke="#e6d4d0" stroke-width="0.9" stroke-opacity="0.75" fill-opacity="0.95"/>
<ellipse cx="1490.3" cy="153.5" rx="7.0" ry="6.3" fill="#af8177" stroke="#e6d4d0" stroke-width="0.9" stroke-opacity="0.75" fill-opacity="0.93"/>
<ellipse cx="1284.0" cy="159.5" rx="7.0" ry="7.0" fill="#b08278" stroke="#e6d4d0" stroke-width="0.9" stroke-opacity="0.75" fill-opacity="0.93"/>
<ellipse cx="1314.0" cy="167.9" rx="6.3" ry="8.4" fill="#b08278" stroke="#e6d4d0" stroke-width="0.9" stroke-opacity="0.75" fill-opacity="0.93"/>
<ellipse cx="1329.6" cy="162.5" rx="7.0" ry="7.0" fill="#b4867c" stroke="#e6d4d0" stroke-width="0.9" stroke-opacity="0.75" fill-opacity="0.93"/>
<ellipse cx="1341.6" cy="166.7" rx="6.3" ry="8.4" fill="#af8177" stroke="#e6d4d0" stroke-width="0.9" stroke-opacity="0.75" fill-opacity="0.93"/>
<ellipse cx="1354.7" cy="169.1" rx="7.7" ry="10.6" fill="#b08278" stroke="#e6d4d0" stroke-width="0.9" stroke-opacity="0.75" fill-opacity="0.93"/>
<ellipse cx="1384.7" cy="161.3" rx="6.3" ry="6.3" fill="#9f695b" stroke="#e6d4d0" stroke-width="0.9" stroke-opacity="0.75" fill-opacity="0.95"/>
<ellipse cx="1414.7" cy="163.1" rx="4.8" ry="8.4" fill="#a77163" stroke="#e6d4d0" stroke-width="0.9" stroke-opacity="0.75" fill-opacity="0.95"/>
<ellipse cx="1421.9" cy="166.7" rx="7.0" ry="8.4" fill="#b08278" stroke="#e6d4d0" stroke-width="0.9" stroke-opacity="0.75" fill-opacity="0.93"/>
<ellipse cx="1439.9" cy="167.9" rx="4.5" ry="8.8" fill="#5a1e08" stroke="#e6d4d0" stroke-width="0.9" stroke-opacity="0.75" fill-opacity="1"/>
<ellipse cx="1447.1" cy="173.9" rx="6.3" ry="7.7" fill="#b08278" stroke="#e6d4d0" stroke-width="0.9" stroke-opacity="0.75" fill-opacity="0.93"/>
<ellipse cx="1455.5" cy="167.9" rx="6.3" ry="6.3" fill="#ab7d73" stroke="#e6d4d0" stroke-width="0.9" stroke-opacity="0.75" fill-opacity="0.93"/>
<ellipse cx="1462.7" cy="176.3" rx="6.3" ry="6.3" fill="#a999af" stroke="#e6d4d0" stroke-width="0.9" stroke-opacity="0.75" fill-opacity="0.88"/>
<ellipse cx="1294.8" cy="172.7" rx="7.0" ry="6.3" fill="#aa7c72" stroke="#e6d4d0" stroke-width="0.9" stroke-opacity="0.75" fill-opacity="0.93"/>
<ellipse cx="1400.3" cy="178.7" rx="8.4" ry="7.7" fill="#ae8076" stroke="#e6d4d0" stroke-width="0.9" stroke-opacity="0.75" fill-opacity="0.93"/>
<ellipse cx="1367.9" cy="173.9" rx="5.5" ry="6.3" fill="#a97b71" stroke="#e6d4d0" stroke-width="0.9" stroke-opacity="0.75" fill-opacity="0.93"/>
<ellipse cx="1429.1" cy="185.9" rx="10.6" ry="10.6" fill="#ae8076" stroke="#e6d4d0" stroke-width="0.9" stroke-opacity="0.75" fill-opacity="0.93"/>
<ellipse cx="1445.3" cy="186.5" rx="4.5" ry="5.5" fill="#5a1e08" stroke="#e6d4d0" stroke-width="0.9" stroke-opacity="0.75" fill-opacity="1"/>
<ellipse cx="1462.7" cy="182.9" rx="10.6" ry="6.3" fill="#a16b5d" stroke="#e6d4d0" stroke-width="0.9" stroke-opacity="0.75" fill-opacity="0.95"/>
<ellipse cx="1495.0" cy="180.5" rx="4.1" ry="7.0" fill="#9d6759" stroke="#e6d4d0" stroke-width="0.9" stroke-opacity="0.75" fill-opacity="0.95"/>
<ellipse cx="1485.5" cy="184.7" rx="4.8" ry="4.8" fill="#b2847a" stroke="#e6d4d0" stroke-width="0.9" stroke-opacity="0.75" fill-opacity="0.93"/>
<ellipse cx="1309.2" cy="189.5" rx="8.4" ry="8.4" fill="#ab7d73" stroke="#e6d4d0" stroke-width="0.9" stroke-opacity="0.75" fill-opacity="0.93"/>
<ellipse cx="1334.4" cy="188.9" rx="7.7" ry="6.3" fill="#ae8076" stroke="#e6d4d0" stroke-width="0.9" stroke-opacity="0.75" fill-opacity="0.93"/>
<ellipse cx="1376.3" cy="189.5" rx="8.4" ry="8.4" fill="#a97b71" stroke="#e6d4d0" stroke-width="0.9" stroke-opacity="0.75" fill-opacity="0.93"/>
<ellipse cx="1401.5" cy="191.9" rx="7.7" ry="7.0" fill="#ab7d73" stroke="#e6d4d0" stroke-width="0.9" stroke-opacity="0.75" fill-opacity="0.93"/>
<ellipse cx="1390.7" cy="197.9" rx="4.1" ry="4.8" fill="#b2847a" stroke="#e6d4d0" stroke-width="0.9" stroke-opacity="0.75" fill-opacity="0.93"/>
<ellipse cx="1379.9" cy="202.7" rx="8.4" ry="9.1" fill="#ac7e74" stroke="#e6d4d0" stroke-width="0.9" stroke-opacity="0.75" fill-opacity="0.93"/>
<ellipse cx="1287.6" cy="195.5" rx="9.9" ry="9.1" fill="#b4867c" stroke="#e6d4d0" stroke-width="0.9" stroke-opacity="0.75" fill-opacity="0.93"/>
<ellipse cx="1291.2" cy="202.7" rx="5.5" ry="7.7" fill="#9d6759" stroke="#e6d4d0" stroke-width="0.9" stroke-opacity="0.75" fill-opacity="0.95"/>
<ellipse cx="1330.8" cy="196.7" rx="8.4" ry="8.4" fill="#b4867c" stroke="#e6d4d0" stroke-width="0.9" stroke-opacity="0.75" fill-opacity="0.93"/>
<ellipse cx="1420.7" cy="200.3" rx="9.1" ry="9.1" fill="#aa7c72" stroke="#e6d4d0" stroke-width="0.9" stroke-opacity="0.75" fill-opacity="0.93"/>
<ellipse cx="1426.7" cy="205.1" rx="6.3" ry="6.3" fill="#b3857b" stroke="#e6d4d0" stroke-width="0.9" stroke-opacity="0.75" fill-opacity="0.93"/>
<ellipse cx="1448.3" cy="202.7" rx="9.1" ry="7.7" fill="#b2847a" stroke="#e6d4d0" stroke-width="0.9" stroke-opacity="0.75" fill-opacity="0.93"/>
<ellipse cx="1486.7" cy="200.3" rx="5.5" ry="5.5" fill="#b2847a" stroke="#e6d4d0" stroke-width="0.9" stroke-opacity="0.75" fill-opacity="0.93"/>
<ellipse cx="1348.7" cy="203.9" rx="4.1" ry="10.6" fill="#9c94c2" stroke="#e6d4d0" stroke-width="0.9" stroke-opacity="0.75" fill-opacity="0.95"/>
<ellipse cx="1369.1" cy="211.1" rx="7.0" ry="7.0" fill="#aa7c72" stroke="#e6d4d0" stroke-width="0.9" stroke-opacity="0.75" fill-opacity="0.93"/>
<ellipse cx="1387.1" cy="209.9" rx="5.5" ry="6.3" fill="#ac7e74" stroke="#e6d4d0" stroke-width="0.9" stroke-opacity="0.75" fill-opacity="0.93"/>
<ellipse cx="1399.1" cy="209.9" rx="4.8" ry="6.3" fill="#aa7c72" stroke="#e6d4d0" stroke-width="0.9" stroke-opacity="0.75" fill-opacity="0.93"/>
<ellipse cx="1451.9" cy="211.1" rx="7.7" ry="7.7" fill="#af8177" stroke="#e6d4d0" stroke-width="0.9" stroke-opacity="0.75" fill-opacity="0.93"/>
<ellipse cx="1459.1" cy="207.5" rx="6.3" ry="6.3" fill="#a595ab" stroke="#e6d4d0" stroke-width="0.9" stroke-opacity="0.75" fill-opacity="0.88"/>
<ellipse cx="1483.1" cy="207.5" rx="6.3" ry="6.3" fill="#b3857b" stroke="#e6d4d0" stroke-width="0.9" stroke-opacity="0.75" fill-opacity="0.93"/>
<ellipse cx="1493.8" cy="211.1" rx="4.8" ry="6.3" fill="#a97b71" stroke="#e6d4d0" stroke-width="0.9" stroke-opacity="0.75" fill-opacity="0.93"/>
<ellipse cx="1280.4" cy="213.5" rx="6.3" ry="7.0" fill="#ae8076" stroke="#e6d4d0" stroke-width="0.9" stroke-opacity="0.75" fill-opacity="0.93"/>
<ellipse cx="1292.4" cy="216.5" rx="4.8" ry="4.8" fill="#af8177" stroke="#e6d4d0" stroke-width="0.9" stroke-opacity="0.75" fill-opacity="0.93"/>
<ellipse cx="1310.4" cy="217.1" rx="9.1" ry="7.0" fill="#924e3a" stroke="#e6d4d0" stroke-width="0.9" stroke-opacity="0.75" fill-opacity="0.95"/>
<ellipse cx="1344.0" cy="217.1" rx="6.3" ry="6.3" fill="#b2847a" stroke="#e6d4d0" stroke-width="0.9" stroke-opacity="0.75" fill-opacity="0.93"/>
<ellipse cx="1354.7" cy="217.1" rx="5.5" ry="6.3" fill="#ab7d73" stroke="#e6d4d0" stroke-width="0.9" stroke-opacity="0.75" fill-opacity="0.93"/>
<ellipse cx="1390.7" cy="220.7" rx="5.5" ry="3.4" fill="#aa7c72" stroke="#e6d4d0" stroke-width="0.9" stroke-opacity="0.75" fill-opacity="0.93"/>
<ellipse cx="1413.5" cy="220.7" rx="6.3" ry="3.4" fill="#b3857b" stroke="#e6d4d0" stroke-width="0.9" stroke-opacity="0.75" fill-opacity="0.93"/>
<ellipse cx="1423.1" cy="221.3" rx="6.3" ry="3.4" fill="#ae8076" stroke="#e6d4d0" stroke-width="0.9" stroke-opacity="0.75" fill-opacity="0.93"/>
</g></g>
<rect x="1047" y="228.2" width="223" height="166" fill="#e7e0ef"/>
<g clip-path="url(#c3)"><g filter="url(#nb2)">
<rect x="1043" y="224.2" width="231" height="174" fill="#e7e0ef"/>
<ellipse cx="1050.4" cy="231.9" rx="5.9" ry="5.0" fill="#d6cee6" stroke="#ece6f2" stroke-width="0.9" stroke-opacity="0.75" fill-opacity="0.8"/>
<ellipse cx="1050.5" cy="281.9" rx="5.3" ry="6.0" fill="#d4cce4" stroke="#ece6f2" stroke-width="0.9" stroke-opacity="0.75" fill-opacity="0.8"/>
<ellipse cx="1048.1" cy="312.8" rx="5.0" ry="5.0" fill="#d3cbe3" stroke="#ece6f2" stroke-width="0.9" stroke-opacity="0.75" fill-opacity="0.8"/>
<ellipse cx="1050.2" cy="381.1" rx="5.1" ry="4.7" fill="#d4cce4" stroke="#ece6f2" stroke-width="0.9" stroke-opacity="0.75" fill-opacity="0.8"/>
<ellipse cx="1054.1" cy="350.2" rx="5.0" ry="5.5" fill="#d1c9e1" stroke="#ece6f2" stroke-width="0.9" stroke-opacity="0.75" fill-opacity="0.8"/>
<ellipse cx="1062.6" cy="229.4" rx="4.7" ry="4.6" fill="#d3cbe3" stroke="#ece6f2" stroke-width="0.9" stroke-opacity="0.75" fill-opacity="0.8"/>
<ellipse cx="1063.3" cy="260.0" rx="5.9" ry="4.6" fill="#d3cbe3" stroke="#ece6f2" stroke-width="0.9" stroke-opacity="0.75" fill-opacity="0.8"/>
<ellipse cx="1061.6" cy="268.8" rx="4.8" ry="5.1" fill="#cfc7df" stroke="#ece6f2" stroke-width="0.9" stroke-opacity="0.75" fill-opacity="0.8"/>
<ellipse cx="1060.7" cy="279.2" rx="4.7" ry="4.9" fill="#d3cbe3" stroke="#ece6f2" stroke-width="0.9" stroke-opacity="0.75" fill-opacity="0.8"/>
<ellipse cx="1065.0" cy="238.6" rx="5.3" ry="5.9" fill="#cec6de" stroke="#ece6f2" stroke-width="0.9" stroke-opacity="0.75" fill-opacity="0.8"/>
<ellipse cx="1068.5" cy="310.3" rx="5.5" ry="4.7" fill="#d3cbe3" stroke="#ece6f2" stroke-width="0.9" stroke-opacity="0.75" fill-opacity="0.8"/>
<ellipse cx="1065.6" cy="341.4" rx="5.5" ry="5.1" fill="#d6cee6" stroke="#ece6f2" stroke-width="0.9" stroke-opacity="0.75" fill-opacity="0.8"/>
<ellipse cx="1071.3" cy="229.3" rx="4.6" ry="5.1" fill="#d5cde5" stroke="#ece6f2" stroke-width="0.9" stroke-opacity="0.75" fill-opacity="0.8"/>
<ellipse cx="1074.4" cy="317.1" rx="5.3" ry="5.1" fill="#d5cde5" stroke="#ece6f2" stroke-width="0.9" stroke-opacity="0.75" fill-opacity="0.8"/>
<ellipse cx="1072.5" cy="355.5" rx="5.5" ry="5.5" fill="#cec6de" stroke="#ece6f2" stroke-width="0.9" stroke-opacity="0.75" fill-opacity="0.8"/>
<ellipse cx="1071.1" cy="365.0" rx="6.1" ry="5.7" fill="#d4cce4" stroke="#ece6f2" stroke-width="0.9" stroke-opacity="0.75" fill-opacity="0.8"/>
<ellipse cx="1079.7" cy="251.6" rx="5.7" ry="4.7" fill="#d3cbe3" stroke="#ece6f2" stroke-width="0.9" stroke-opacity="0.75" fill-opacity="0.8"/>
<ellipse cx="1078.7" cy="288.4" rx="5.6" ry="6.0" fill="#d6cee6" stroke="#ece6f2" stroke-width="0.9" stroke-opacity="0.75" fill-opacity="0.8"/>
<ellipse cx="1084.4" cy="243.3" rx="5.9" ry="5.5" fill="#d2cae2" stroke="#ece6f2" stroke-width="0.9" stroke-opacity="0.75" fill-opacity="0.8"/>
<ellipse cx="1088.2" cy="288.2" rx="6.0" ry="5.9" fill="#d6cee6" stroke="#ece6f2" stroke-width="0.9" stroke-opacity="0.75" fill-opacity="0.8"/>
<ellipse cx="1088.8" cy="327.1" rx="4.8" ry="5.3" fill="#cfc7df" stroke="#ece6f2" stroke-width="0.9" stroke-opacity="0.75" fill-opacity="0.8"/>
<ellipse cx="1090.9" cy="354.1" rx="5.4" ry="4.6" fill="#cfc7df" stroke="#ece6f2" stroke-width="0.9" stroke-opacity="0.75" fill-opacity="0.8"/>
<ellipse cx="1088.4" cy="370.2" rx="5.8" ry="4.9" fill="#d1c9e1" stroke="#ece6f2" stroke-width="0.9" stroke-opacity="0.75" fill-opacity="0.8"/>
<ellipse cx="1095.0" cy="296.6" rx="5.5" ry="5.2" fill="#cfc7df" stroke="#ece6f2" stroke-width="0.9" stroke-opacity="0.75" fill-opacity="0.8"/>
<ellipse cx="1093.1" cy="362.3" rx="5.7" ry="6.2" fill="#cfc7df" stroke="#ece6f2" stroke-width="0.9" stroke-opacity="0.75" fill-opacity="0.8"/>
<ellipse cx="1100.8" cy="243.4" rx="4.7" ry="6.1" fill="#d2cae2" stroke="#ece6f2" stroke-width="0.9" stroke-opacity="0.75" fill-opacity="0.8"/>
<ellipse cx="1098.2" cy="348.3" rx="5.2" ry="5.6" fill="#d2cae2" stroke="#ece6f2" stroke-width="0.9" stroke-opacity="0.75" fill-opacity="0.8"/>
<ellipse cx="1107.1" cy="268.0" rx="6.1" ry="5.1" fill="#cec6de" stroke="#ece6f2" stroke-width="0.9" stroke-opacity="0.75" fill-opacity="0.8"/>
<ellipse cx="1105.9" cy="277.4" rx="5.7" ry="6.0" fill="#d0c8e0" stroke="#ece6f2" stroke-width="0.9" stroke-opacity="0.75" fill-opacity="0.8"/>
<ellipse cx="1112.3" cy="228.8" rx="5.5" ry="5.5" fill="#d2cae2" stroke="#ece6f2" stroke-width="0.9" stroke-opacity="0.75" fill-opacity="0.8"/>
<ellipse cx="1109.5" cy="390.8" rx="5.7" ry="5.3" fill="#d0c8e0" stroke="#ece6f2" stroke-width="0.9" stroke-opacity="0.75" fill-opacity="0.8"/>
<ellipse cx="1115.2" cy="280.1" rx="5.5" ry="5.3" fill="#d4cce4" stroke="#ece6f2" stroke-width="0.9" stroke-opacity="0.75" fill-opacity="0.8"/>
<ellipse cx="1122.8" cy="286.0" rx="5.5" ry="5.4" fill="#d2cae2" stroke="#ece6f2" stroke-width="0.9" stroke-opacity="0.75" fill-opacity="0.8"/>
<ellipse cx="1120.1" cy="341.2" rx="4.8" ry="6.2" fill="#d4cce4" stroke="#ece6f2" stroke-width="0.9" stroke-opacity="0.75" fill-opacity="0.8"/>
<ellipse cx="1121.0" cy="366.8" rx="5.6" ry="5.7" fill="#d0c8e0" stroke="#ece6f2" stroke-width="0.9" stroke-opacity="0.75" fill-opacity="0.8"/>
<ellipse cx="1126.3" cy="260.5" rx="4.8" ry="5.3" fill="#d6cee6" stroke="#ece6f2" stroke-width="0.9" stroke-opacity="0.75" fill-opacity="0.8"/>
<ellipse cx="1125.4" cy="269.8" rx="5.7" ry="4.8" fill="#d6cee6" stroke="#ece6f2" stroke-width="0.9" stroke-opacity="0.75" fill-opacity="0.8"/>
<ellipse cx="1128.5" cy="301.6" rx="5.7" ry="4.9" fill="#d5cde5" stroke="#ece6f2" stroke-width="0.9" stroke-opacity="0.75" fill-opacity="0.8"/>
<ellipse cx="1132.3" cy="290.9" rx="5.4" ry="5.6" fill="#d3cbe3" stroke="#ece6f2" stroke-width="0.9" stroke-opacity="0.75" fill-opacity="0.8"/>
<ellipse cx="1131.5" cy="382.1" rx="5.6" ry="5.3" fill="#cfc7df" stroke="#ece6f2" stroke-width="0.9" stroke-opacity="0.75" fill-opacity="0.8"/>
<ellipse cx="1131.4" cy="391.6" rx="5.3" ry="5.9" fill="#d2cae2" stroke="#ece6f2" stroke-width="0.9" stroke-opacity="0.75" fill-opacity="0.8"/>
<ellipse cx="1137.8" cy="247.1" rx="5.2" ry="6.2" fill="#cec6de" stroke="#ece6f2" stroke-width="0.9" stroke-opacity="0.75" fill-opacity="0.8"/>
<ellipse cx="1138.7" cy="275.2" rx="5.5" ry="5.1" fill="#d0c8e0" stroke="#ece6f2" stroke-width="0.9" stroke-opacity="0.75" fill-opacity="0.8"/>
<ellipse cx="1136.2" cy="362.4" rx="5.6" ry="5.6" fill="#d4cce4" stroke="#ece6f2" stroke-width="0.9" stroke-opacity="0.75" fill-opacity="0.8"/>
<ellipse cx="1139.9" cy="377.9" rx="5.3" ry="5.3" fill="#cfc7df" stroke="#ece6f2" stroke-width="0.9" stroke-opacity="0.75" fill-opacity="0.8"/>
<ellipse cx="1145.4" cy="362.8" rx="4.9" ry="5.5" fill="#d2cae2" stroke="#ece6f2" stroke-width="0.9" stroke-opacity="0.75" fill-opacity="0.8"/>
<ellipse cx="1148.2" cy="272.7" rx="6.1" ry="5.3" fill="#cec6de" stroke="#ece6f2" stroke-width="0.9" stroke-opacity="0.75" fill-opacity="0.8"/>
<ellipse cx="1152.8" cy="288.1" rx="5.7" ry="6.2" fill="#cfc7df" stroke="#ece6f2" stroke-width="0.9" stroke-opacity="0.75" fill-opacity="0.8"/>
<ellipse cx="1153.3" cy="381.9" rx="5.1" ry="4.7" fill="#d2cae2" stroke="#ece6f2" stroke-width="0.9" stroke-opacity="0.75" fill-opacity="0.8"/>
<ellipse cx="1158.8" cy="297.7" rx="6.0" ry="5.3" fill="#cfc7df" stroke="#ece6f2" stroke-width="0.9" stroke-opacity="0.75" fill-opacity="0.8"/>
<ellipse cx="1160.8" cy="386.3" rx="5.1" ry="5.1" fill="#d1c9e1" stroke="#ece6f2" stroke-width="0.9" stroke-opacity="0.75" fill-opacity="0.8"/>
<ellipse cx="1171.4" cy="254.4" rx="5.6" ry="5.6" fill="#cfc7df" stroke="#ece6f2" stroke-width="0.9" stroke-opacity="0.75" fill-opacity="0.8"/>
<ellipse cx="1168.8" cy="276.0" rx="5.6" ry="5.2" fill="#d2cae2" stroke="#ece6f2" stroke-width="0.9" stroke-opacity="0.75" fill-opacity="0.8"/>
<ellipse cx="1178.0" cy="230.1" rx="5.3" ry="5.3" fill="#cfc7df" stroke="#ece6f2" stroke-width="0.9" stroke-opacity="0.75" fill-opacity="0.8"/>
<ellipse cx="1178.5" cy="244.3" rx="4.8" ry="5.9" fill="#d5cde5" stroke="#ece6f2" stroke-width="0.9" stroke-opacity="0.75" fill-opacity="0.8"/>
<ellipse cx="1177.6" cy="372.8" rx="4.9" ry="5.7" fill="#cec6de" stroke="#ece6f2" stroke-width="0.9" stroke-opacity="0.75" fill-opacity="0.8"/>
<ellipse cx="1183.1" cy="332.3" rx="4.6" ry="5.0" fill="#d3cbe3" stroke="#ece6f2" stroke-width="0.9" stroke-opacity="0.75" fill-opacity="0.8"/>
<ellipse cx="1183.6" cy="357.9" rx="5.6" ry="4.9" fill="#d6cee6" stroke="#ece6f2" stroke-width="0.9" stroke-opacity="0.75" fill-opacity="0.8"/>
<ellipse cx="1189.0" cy="365.6" rx="5.3" ry="6.0" fill="#d4cce4" stroke="#ece6f2" stroke-width="0.9" stroke-opacity="0.75" fill-opacity="0.8"/>
<ellipse cx="1186.6" cy="378.6" rx="5.2" ry="6.1" fill="#d2cae2" stroke="#ece6f2" stroke-width="0.9" stroke-opacity="0.75" fill-opacity="0.8"/>
<ellipse cx="1188.8" cy="392.2" rx="4.7" ry="5.9" fill="#d0c8e0" stroke="#ece6f2" stroke-width="0.9" stroke-opacity="0.75" fill-opacity="0.8"/>
<ellipse cx="1194.9" cy="272.0" rx="6.0" ry="5.8" fill="#cec6de" stroke="#ece6f2" stroke-width="0.9" stroke-opacity="0.75" fill-opacity="0.8"/>
<ellipse cx="1195.2" cy="358.7" rx="5.2" ry="5.0" fill="#d6cee6" stroke="#ece6f2" stroke-width="0.9" stroke-opacity="0.75" fill-opacity="0.8"/>
<ellipse cx="1199.4" cy="240.9" rx="5.8" ry="5.0" fill="#d1c9e1" stroke="#ece6f2" stroke-width="0.9" stroke-opacity="0.75" fill-opacity="0.8"/>
<ellipse cx="1197.1" cy="298.3" rx="5.9" ry="5.6" fill="#cfc7df" stroke="#ece6f2" stroke-width="0.9" stroke-opacity="0.75" fill-opacity="0.8"/>
<ellipse cx="1198.5" cy="372.4" rx="5.3" ry="6.0" fill="#d0c8e0" stroke="#ece6f2" stroke-width="0.9" stroke-opacity="0.75" fill-opacity="0.8"/>
<ellipse cx="1203.4" cy="364.0" rx="5.1" ry="5.0" fill="#d2cae2" stroke="#ece6f2" stroke-width="0.9" stroke-opacity="0.75" fill-opacity="0.8"/>
<ellipse cx="1209.3" cy="257.5" rx="4.7" ry="5.2" fill="#cec6de" stroke="#ece6f2" stroke-width="0.9" stroke-opacity="0.75" fill-opacity="0.8"/>
<ellipse cx="1207.8" cy="329.2" rx="5.1" ry="4.9" fill="#d0c8e0" stroke="#ece6f2" stroke-width="0.9" stroke-opacity="0.75" fill-opacity="0.8"/>
<ellipse cx="1211.4" cy="342.6" rx="5.9" ry="5.5" fill="#d1c9e1" stroke="#ece6f2" stroke-width="0.9" stroke-opacity="0.75" fill-opacity="0.8"/>
<ellipse cx="1216.2" cy="361.6" rx="5.4" ry="4.7" fill="#d2cae2" stroke="#ece6f2" stroke-width="0.9" stroke-opacity="0.75" fill-opacity="0.8"/>
<ellipse cx="1223.0" cy="232.8" rx="6.1" ry="5.9" fill="#d2cae2" stroke="#ece6f2" stroke-width="0.9" stroke-opacity="0.75" fill-opacity="0.8"/>
<ellipse cx="1222.4" cy="254.7" rx="5.3" ry="5.9" fill="#d6cee6" stroke="#ece6f2" stroke-width="0.9" stroke-opacity="0.75" fill-opacity="0.8"/>
<ellipse cx="1220.0" cy="279.5" rx="5.1" ry="5.8" fill="#d1c9e1" stroke="#ece6f2" stroke-width="0.9" stroke-opacity="0.75" fill-opacity="0.8"/>
<ellipse cx="1219.1" cy="337.2" rx="6.0" ry="5.7" fill="#d2cae2" stroke="#ece6f2" stroke-width="0.9" stroke-opacity="0.75" fill-opacity="0.8"/>
<ellipse cx="1225.9" cy="264.8" rx="5.7" ry="5.7" fill="#d5cde5" stroke="#ece6f2" stroke-width="0.9" stroke-opacity="0.75" fill-opacity="0.8"/>
<ellipse cx="1225.3" cy="345.7" rx="5.3" ry="5.8" fill="#d6cee6" stroke="#ece6f2" stroke-width="0.9" stroke-opacity="0.75" fill-opacity="0.8"/>
<ellipse cx="1227.9" cy="372.2" rx="5.9" ry="5.6" fill="#d0c8e0" stroke="#ece6f2" stroke-width="0.9" stroke-opacity="0.75" fill-opacity="0.8"/>
<ellipse cx="1233.8" cy="251.8" rx="6.1" ry="5.6" fill="#d2cae2" stroke="#ece6f2" stroke-width="0.9" stroke-opacity="0.75" fill-opacity="0.8"/>
<ellipse cx="1231.8" cy="381.8" rx="6.0" ry="4.7" fill="#d3cbe3" stroke="#ece6f2" stroke-width="0.9" stroke-opacity="0.75" fill-opacity="0.8"/>
<ellipse cx="1236.2" cy="229.6" rx="6.1" ry="6.0" fill="#cec6de" stroke="#ece6f2" stroke-width="0.9" stroke-opacity="0.75" fill-opacity="0.8"/>
<ellipse cx="1239.1" cy="242.8" rx="6.0" ry="5.4" fill="#d2cae2" stroke="#ece6f2" stroke-width="0.9" stroke-opacity="0.75" fill-opacity="0.8"/>
<ellipse cx="1237.6" cy="291.3" rx="5.8" ry="5.5" fill="#cec6de" stroke="#ece6f2" stroke-width="0.9" stroke-opacity="0.75" fill-opacity="0.8"/>
<ellipse cx="1244.5" cy="299.3" rx="5.6" ry="5.4" fill="#cec6de" stroke="#ece6f2" stroke-width="0.9" stroke-opacity="0.75" fill-opacity="0.8"/>
<ellipse cx="1256.5" cy="254.7" rx="5.5" ry="4.7" fill="#cec6de" stroke="#ece6f2" stroke-width="0.9" stroke-opacity="0.75" fill-opacity="0.8"/>
<ellipse cx="1257.5" cy="275.5" rx="4.6" ry="6.0" fill="#d6cee6" stroke="#ece6f2" stroke-width="0.9" stroke-opacity="0.75" fill-opacity="0.8"/>
<ellipse cx="1260.8" cy="339.0" rx="4.8" ry="5.5" fill="#d6cee6" stroke="#ece6f2" stroke-width="0.9" stroke-opacity="0.75" fill-opacity="0.8"/>
<ellipse cx="1263.2" cy="303.9" rx="6.1" ry="6.1" fill="#d1c9e1" stroke="#ece6f2" stroke-width="0.9" stroke-opacity="0.75" fill-opacity="0.8"/>
<ellipse cx="1265.2" cy="330.4" rx="5.6" ry="6.1" fill="#d6cee6" stroke="#ece6f2" stroke-width="0.9" stroke-opacity="0.75" fill-opacity="0.8"/>
<ellipse cx="1263.6" cy="392.4" rx="5.1" ry="5.3" fill="#d5cde5" stroke="#ece6f2" stroke-width="0.9" stroke-opacity="0.75" fill-opacity="0.8"/>
<ellipse cx="1102.8" cy="230.0" rx="5.0" ry="3.7" fill="#a183af" stroke="#ece6f2" stroke-width="0.9" stroke-opacity="0.75" fill-opacity="0.92"/>
<ellipse cx="1127.9" cy="234.8" rx="6.3" ry="7.0" fill="#a587b3" stroke="#ece6f2" stroke-width="0.9" stroke-opacity="0.75" fill-opacity="0.92"/>
<ellipse cx="1155.5" cy="234.2" rx="5.7" ry="7.0" fill="#9f81ad" stroke="#ece6f2" stroke-width="0.9" stroke-opacity="0.75" fill-opacity="0.92"/>
<ellipse cx="1186.7" cy="234.8" rx="5.0" ry="4.4" fill="#9e94cc" stroke="#ece6f2" stroke-width="0.9" stroke-opacity="0.75" fill-opacity="0.92"/>
<ellipse cx="1198.7" cy="230.0" rx="5.7" ry="3.7" fill="#a88ab6" stroke="#ece6f2" stroke-width="0.9" stroke-opacity="0.75" fill-opacity="0.92"/>
<ellipse cx="1214.3" cy="230.6" rx="7.0" ry="4.4" fill="#a486b2" stroke="#ece6f2" stroke-width="0.9" stroke-opacity="0.75" fill-opacity="0.92"/>
<ellipse cx="1246.7" cy="234.8" rx="5.0" ry="5.7" fill="#b0a8d6" stroke="#ece6f2" stroke-width="0.9" stroke-opacity="0.75" fill-opacity="0.92"/>
<ellipse cx="1262.3" cy="234.8" rx="5.7" ry="6.3" fill="#ada5d3" stroke="#ece6f2" stroke-width="0.9" stroke-opacity="0.75" fill-opacity="0.92"/>
<ellipse cx="1075.8" cy="240.2" rx="5.7" ry="6.3" fill="#9c92ca" stroke="#ece6f2" stroke-width="0.9" stroke-opacity="0.75" fill-opacity="0.92"/>
<ellipse cx="1095.6" cy="234.8" rx="4.4" ry="7.0" fill="#aca4d2" stroke="#ece6f2" stroke-width="0.9" stroke-opacity="0.75" fill-opacity="0.92"/>
<ellipse cx="1114.8" cy="242.6" rx="5.7" ry="6.3" fill="#a688b4" stroke="#ece6f2" stroke-width="0.9" stroke-opacity="0.75" fill-opacity="0.92"/>
<ellipse cx="1143.5" cy="239.6" rx="5.7" ry="5.0" fill="#aaa2d0" stroke="#ece6f2" stroke-width="0.9" stroke-opacity="0.75" fill-opacity="0.92"/>
<ellipse cx="1169.9" cy="236.0" rx="4.4" ry="4.4" fill="#b1a9d7" stroke="#ece6f2" stroke-width="0.9" stroke-opacity="0.75" fill-opacity="0.92"/>
<ellipse cx="1057.8" cy="246.8" rx="6.3" ry="8.9" fill="#a183af" stroke="#ece6f2" stroke-width="0.9" stroke-opacity="0.75" fill-opacity="0.92"/>
<ellipse cx="1125.5" cy="248.6" rx="7.0" ry="5.7" fill="#a9a1cf" stroke="#ece6f2" stroke-width="0.9" stroke-opacity="0.75" fill-opacity="0.92"/>
<ellipse cx="1153.1" cy="249.8" rx="6.3" ry="7.0" fill="#9c6f95" stroke="#ece6f2" stroke-width="0.9" stroke-opacity="0.75" fill-opacity="0.95"/>
<ellipse cx="1168.7" cy="245.6" rx="3.7" ry="5.0" fill="#a183af" stroke="#ece6f2" stroke-width="0.9" stroke-opacity="0.75" fill-opacity="0.92"/>
<ellipse cx="1191.5" cy="248.0" rx="8.3" ry="6.3" fill="#b1a9d7" stroke="#ece6f2" stroke-width="0.9" stroke-opacity="0.75" fill-opacity="0.92"/>
<ellipse cx="1211.9" cy="247.4" rx="7.6" ry="5.7" fill="#a98bb7" stroke="#ece6f2" stroke-width="0.9" stroke-opacity="0.75" fill-opacity="0.92"/>
<ellipse cx="1226.3" cy="243.2" rx="8.3" ry="6.3" fill="#a88ab6" stroke="#ece6f2" stroke-width="0.9" stroke-opacity="0.75" fill-opacity="0.92"/>
<ellipse cx="1246.7" cy="251.0" rx="5.7" ry="6.3" fill="#a8a0ce" stroke="#ece6f2" stroke-width="0.9" stroke-opacity="0.75" fill-opacity="0.92"/>
<ellipse cx="1258.7" cy="245.6" rx="5.0" ry="5.0" fill="#a486b2" stroke="#ece6f2" stroke-width="0.9" stroke-opacity="0.75" fill-opacity="0.92"/>
<ellipse cx="1098.0" cy="255.2" rx="7.0" ry="5.0" fill="#a385b1" stroke="#ece6f2" stroke-width="0.9" stroke-opacity="0.75" fill-opacity="0.92"/>
<ellipse cx="1114.8" cy="259.4" rx="8.3" ry="8.3" fill="#a69ecc" stroke="#ece6f2" stroke-width="0.9" stroke-opacity="0.75" fill-opacity="0.92"/>
<ellipse cx="1071.6" cy="255.8" rx="5.7" ry="5.7" fill="#a082ae" stroke="#ece6f2" stroke-width="0.9" stroke-opacity="0.75" fill-opacity="0.92"/>
<ellipse cx="1080.0" cy="262.4" rx="10.9" ry="5.0" fill="#976a90" stroke="#ece6f2" stroke-width="0.9" stroke-opacity="0.75" fill-opacity="0.95"/>
<ellipse cx="1143.5" cy="254.0" rx="4.4" ry="7.0" fill="#a79fcd" stroke="#ece6f2" stroke-width="0.9" stroke-opacity="0.75" fill-opacity="0.92"/>
<ellipse cx="1150.7" cy="261.2" rx="4.4" ry="7.6" fill="#a1749a" stroke="#ece6f2" stroke-width="0.9" stroke-opacity="0.75" fill-opacity="0.95"/>
<ellipse cx="1163.9" cy="263.6" rx="7.0" ry="7.0" fill="#b1a9d7" stroke="#ece6f2" stroke-width="0.9" stroke-opacity="0.75" fill-opacity="0.92"/>
<ellipse cx="1180.1" cy="260.0" rx="5.7" ry="5.7" fill="#aaa2d0" stroke="#ece6f2" stroke-width="0.9" stroke-opacity="0.75" fill-opacity="0.92"/>
<ellipse cx="1194.5" cy="259.4" rx="8.3" ry="7.6" fill="#9d7096" stroke="#ece6f2" stroke-width="0.9" stroke-opacity="0.75" fill-opacity="0.95"/>
<ellipse cx="1246.7" cy="262.4" rx="7.0" ry="4.4" fill="#a082ae" stroke="#ece6f2" stroke-width="0.9" stroke-opacity="0.75" fill-opacity="0.92"/>
<ellipse cx="1268.2" cy="257.6" rx="3.1" ry="5.7" fill="#9e80ac" stroke="#ece6f2" stroke-width="0.9" stroke-opacity="0.75" fill-opacity="0.92"/>
<ellipse cx="1049.4" cy="263.6" rx="4.4" ry="5.7" fill="#a79fcd" stroke="#ece6f2" stroke-width="0.9" stroke-opacity="0.75" fill-opacity="0.92"/>
<ellipse cx="1052.4" cy="270.8" rx="7.0" ry="4.4" fill="#b0a8d6" stroke="#ece6f2" stroke-width="0.9" stroke-opacity="0.75" fill-opacity="0.92"/>
<ellipse cx="1094.4" cy="265.4" rx="5.7" ry="5.7" fill="#aca4d2" stroke="#ece6f2" stroke-width="0.9" stroke-opacity="0.75" fill-opacity="0.92"/>
<ellipse cx="1135.1" cy="264.8" rx="5.7" ry="6.3" fill="#aea6d4" stroke="#ece6f2" stroke-width="0.9" stroke-opacity="0.75" fill-opacity="0.92"/>
<ellipse cx="1213.1" cy="267.8" rx="7.0" ry="7.0" fill="#a88ab6" stroke="#ece6f2" stroke-width="0.9" stroke-opacity="0.75" fill-opacity="0.92"/>
<ellipse cx="1235.9" cy="268.4" rx="6.3" ry="6.3" fill="#aaa2d0" stroke="#ece6f2" stroke-width="0.9" stroke-opacity="0.75" fill-opacity="0.92"/>
<ellipse cx="1247.9" cy="271.4" rx="8.3" ry="6.3" fill="#afa7d5" stroke="#ece6f2" stroke-width="0.9" stroke-opacity="0.75" fill-opacity="0.92"/>
<ellipse cx="1265.8" cy="267.2" rx="5.0" ry="5.0" fill="#a183af" stroke="#ece6f2" stroke-width="0.9" stroke-opacity="0.75" fill-opacity="0.92"/>
<ellipse cx="1078.8" cy="276.8" rx="6.3" ry="5.7" fill="#b1a9d7" stroke="#ece6f2" stroke-width="0.9" stroke-opacity="0.75" fill-opacity="0.92"/>
<ellipse cx="1097.4" cy="275.0" rx="5.7" ry="5.0" fill="#988ec6" stroke="#ece6f2" stroke-width="0.9" stroke-opacity="0.75" fill-opacity="0.92"/>
<ellipse cx="1129.7" cy="278.6" rx="5.7" ry="7.0" fill="#9e80ac" stroke="#ece6f2" stroke-width="0.9" stroke-opacity="0.75" fill-opacity="0.92"/>
<ellipse cx="1157.9" cy="276.8" rx="7.0" ry="7.0" fill="#ada5d3" stroke="#ece6f2" stroke-width="0.9" stroke-opacity="0.75" fill-opacity="0.92"/>
<ellipse cx="1185.5" cy="273.2" rx="5.7" ry="5.7" fill="#a8a0ce" stroke="#ece6f2" stroke-width="0.9" stroke-opacity="0.75" fill-opacity="0.92"/>
<ellipse cx="1231.1" cy="278.0" rx="7.6" ry="7.6" fill="#996c92" stroke="#ece6f2" stroke-width="0.9" stroke-opacity="0.75" fill-opacity="0.95"/>
<ellipse cx="1207.1" cy="276.8" rx="5.7" ry="5.7" fill="#aaa2d0" stroke="#ece6f2" stroke-width="0.9" stroke-opacity="0.75" fill-opacity="0.92"/>
<ellipse cx="1067.4" cy="290.0" rx="5.9" ry="6.3" fill="#95596f" stroke="#ece6f2" stroke-width="0.9" stroke-opacity="0.75" fill-opacity="1"/>
<ellipse cx="1101.6" cy="285.8" rx="6.3" ry="6.3" fill="#9e80ac" stroke="#ece6f2" stroke-width="0.9" stroke-opacity="0.75" fill-opacity="0.92"/>
<ellipse cx="1142.3" cy="290.0" rx="5.7" ry="7.0" fill="#a284b0" stroke="#ece6f2" stroke-width="0.9" stroke-opacity="0.75" fill-opacity="0.92"/>
<ellipse cx="1167.5" cy="290.6" rx="5.0" ry="6.3" fill="#a385b1" stroke="#ece6f2" stroke-width="0.9" stroke-opacity="0.75" fill-opacity="0.92"/>
<ellipse cx="1180.7" cy="284.0" rx="5.7" ry="5.0" fill="#a385b1" stroke="#ece6f2" stroke-width="0.9" stroke-opacity="0.75" fill-opacity="0.92"/>
<ellipse cx="1195.1" cy="289.4" rx="5.0" ry="6.3" fill="#a688b4" stroke="#ece6f2" stroke-width="0.9" stroke-opacity="0.75" fill-opacity="0.92"/>
<ellipse cx="1213.7" cy="288.2" rx="7.0" ry="7.6" fill="#a385b1" stroke="#ece6f2" stroke-width="0.9" stroke-opacity="0.75" fill-opacity="0.92"/>
<ellipse cx="1249.1" cy="288.2" rx="7.6" ry="8.3" fill="#9a6d93" stroke="#ece6f2" stroke-width="0.9" stroke-opacity="0.75" fill-opacity="0.95"/>
<ellipse cx="1227.5" cy="296.0" rx="8.3" ry="8.3" fill="#a69ecc" stroke="#ece6f2" stroke-width="0.9" stroke-opacity="0.75" fill-opacity="0.92"/>
<ellipse cx="1263.5" cy="293.6" rx="7.0" ry="7.0" fill="#bea6c4" stroke="#ece6f2" stroke-width="0.9" stroke-opacity="0.75" fill-opacity="0.88"/>
<ellipse cx="1054.8" cy="297.2" rx="5.7" ry="5.7" fill="#a183af" stroke="#ece6f2" stroke-width="0.9" stroke-opacity="0.75" fill-opacity="0.92"/>
<ellipse cx="1057.2" cy="305.5" rx="7.0" ry="7.0" fill="#a385b1" stroke="#ece6f2" stroke-width="0.9" stroke-opacity="0.75" fill-opacity="0.92"/>
<ellipse cx="1071.6" cy="300.7" rx="5.7" ry="5.0" fill="#a8a0ce" stroke="#ece6f2" stroke-width="0.9" stroke-opacity="0.75" fill-opacity="0.92"/>
<ellipse cx="1084.2" cy="303.7" rx="7.0" ry="7.6" fill="#976a90" stroke="#ece6f2" stroke-width="0.9" stroke-opacity="0.75" fill-opacity="0.95"/>
<ellipse cx="1109.4" cy="300.7" rx="5.7" ry="5.7" fill="#a385b1" stroke="#ece6f2" stroke-width="0.9" stroke-opacity="0.75" fill-opacity="0.92"/>
<ellipse cx="1119.5" cy="296.0" rx="7.0" ry="7.0" fill="#a486b2" stroke="#ece6f2" stroke-width="0.9" stroke-opacity="0.75" fill-opacity="0.92"/>
<ellipse cx="1139.9" cy="303.1" rx="4.4" ry="7.0" fill="#9f81ad" stroke="#ece6f2" stroke-width="0.9" stroke-opacity="0.75" fill-opacity="0.92"/>
<ellipse cx="1151.9" cy="305.5" rx="5.7" ry="7.0" fill="#a587b3" stroke="#ece6f2" stroke-width="0.9" stroke-opacity="0.75" fill-opacity="0.92"/>
<ellipse cx="1183.1" cy="299.5" rx="5.7" ry="7.0" fill="#aaa2d0" stroke="#ece6f2" stroke-width="0.9" stroke-opacity="0.75" fill-opacity="0.92"/>
<ellipse cx="1210.7" cy="299.5" rx="7.0" ry="3.7" fill="#c2aac8" stroke="#ece6f2" stroke-width="0.9" stroke-opacity="0.75" fill-opacity="0.88"/>
<ellipse cx="1098.0" cy="310.3" rx="5.7" ry="12.2" fill="#a88ab6" stroke="#ece6f2" stroke-width="0.9" stroke-opacity="0.75" fill-opacity="0.92"/>
<ellipse cx="1121.9" cy="310.9" rx="8.3" ry="5.0" fill="#a9a1cf" stroke="#ece6f2" stroke-width="0.9" stroke-opacity="0.75" fill-opacity="0.92"/>
<ellipse cx="1104.0" cy="316.9" rx="5.7" ry="7.0" fill="#a9a1cf" stroke="#ece6f2" stroke-width="0.9" stroke-opacity="0.75" fill-opacity="0.92"/>
<ellipse cx="1160.3" cy="313.3" rx="5.0" ry="6.3" fill="#a688b4" stroke="#ece6f2" stroke-width="0.9" stroke-opacity="0.75" fill-opacity="0.92"/>
<ellipse cx="1173.5" cy="310.3" rx="6.3" ry="4.4" fill="#a3769c" stroke="#ece6f2" stroke-width="0.9" stroke-opacity="0.75" fill-opacity="0.95"/>
<ellipse cx="1181.9" cy="317.5" rx="5.0" ry="7.0" fill="#9e80ac" stroke="#ece6f2" stroke-width="0.9" stroke-opacity="0.75" fill-opacity="0.92"/>
<ellipse cx="1193.9" cy="306.7" rx="4.4" ry="5.0" fill="#a79fcd" stroke="#ece6f2" stroke-width="0.9" stroke-opacity="0.75" fill-opacity="0.92"/>
<ellipse cx="1222.7" cy="312.1" rx="7.6" ry="8.3" fill="#aaa2d0" stroke="#ece6f2" stroke-width="0.9" stroke-opacity="0.75" fill-opacity="0.92"/>
<ellipse cx="1203.5" cy="315.1" rx="6.3" ry="5.7" fill="#bba3c1" stroke="#ece6f2" stroke-width="0.9" stroke-opacity="0.75" fill-opacity="0.88"/>
<ellipse cx="1238.3" cy="309.1" rx="7.0" ry="4.4" fill="#a8a0ce" stroke="#ece6f2" stroke-width="0.9" stroke-opacity="0.75" fill-opacity="0.92"/>
<ellipse cx="1253.9" cy="307.9" rx="6.3" ry="5.7" fill="#aca4d2" stroke="#ece6f2" stroke-width="0.9" stroke-opacity="0.75" fill-opacity="0.92"/>
<ellipse cx="1250.3" cy="317.5" rx="7.6" ry="5.7" fill="#c3abc9" stroke="#ece6f2" stroke-width="0.9" stroke-opacity="0.75" fill-opacity="0.88"/>
<ellipse cx="1265.8" cy="319.9" rx="5.7" ry="5.7" fill="#a69ecc" stroke="#ece6f2" stroke-width="0.9" stroke-opacity="0.75" fill-opacity="0.92"/>
<ellipse cx="1063.8" cy="322.9" rx="4.4" ry="5.7" fill="#a486b2" stroke="#ece6f2" stroke-width="0.9" stroke-opacity="0.75" fill-opacity="0.92"/>
<ellipse cx="1083.0" cy="319.9" rx="5.7" ry="5.7" fill="#9e80ac" stroke="#ece6f2" stroke-width="0.9" stroke-opacity="0.75" fill-opacity="0.92"/>
<ellipse cx="1118.9" cy="321.1" rx="6.3" ry="6.3" fill="#aaa2d0" stroke="#ece6f2" stroke-width="0.9" stroke-opacity="0.75" fill-opacity="0.92"/>
<ellipse cx="1130.9" cy="320.5" rx="5.0" ry="7.0" fill="#aaa2d0" stroke="#ece6f2" stroke-width="0.9" stroke-opacity="0.75" fill-opacity="0.92"/>
<ellipse cx="1142.9" cy="321.1" rx="6.3" ry="7.0" fill="#a1749a" stroke="#ece6f2" stroke-width="0.9" stroke-opacity="0.75" fill-opacity="0.95"/>
<ellipse cx="1170.5" cy="322.3" rx="7.0" ry="7.6" fill="#9a6d93" stroke="#ece6f2" stroke-width="0.9" stroke-opacity="0.75" fill-opacity="0.95"/>
<ellipse cx="1196.3" cy="323.5" rx="7.6" ry="7.6" fill="#a79fcd" stroke="#ece6f2" stroke-width="0.9" stroke-opacity="0.75" fill-opacity="0.92"/>
<ellipse cx="1217.3" cy="326.5" rx="6.3" ry="7.0" fill="#afa7d5" stroke="#ece6f2" stroke-width="0.9" stroke-opacity="0.75" fill-opacity="0.92"/>
<ellipse cx="1231.1" cy="328.3" rx="7.0" ry="7.6" fill="#aea6d4" stroke="#ece6f2" stroke-width="0.9" stroke-opacity="0.75" fill-opacity="0.92"/>
<ellipse cx="1243.1" cy="326.5" rx="6.3" ry="5.7" fill="#a3769c" stroke="#ece6f2" stroke-width="0.9" stroke-opacity="0.75" fill-opacity="0.95"/>
<ellipse cx="1256.3" cy="327.1" rx="6.3" ry="5.7" fill="#968cc4" stroke="#ece6f2" stroke-width="0.9" stroke-opacity="0.75" fill-opacity="0.92"/>
<ellipse cx="1054.8" cy="330.7" rx="7.0" ry="5.7" fill="#b0a8d6" stroke="#ece6f2" stroke-width="0.9" stroke-opacity="0.75" fill-opacity="0.92"/>
<ellipse cx="1072.8" cy="334.3" rx="5.7" ry="7.0" fill="#b1a9d7" stroke="#ece6f2" stroke-width="0.9" stroke-opacity="0.75" fill-opacity="0.92"/>
<ellipse cx="1100.4" cy="327.1" rx="7.0" ry="7.0" fill="#b2aad8" stroke="#ece6f2" stroke-width="0.9" stroke-opacity="0.75" fill-opacity="0.92"/>
<ellipse cx="1108.2" cy="334.3" rx="5.0" ry="7.6" fill="#a789b5" stroke="#ece6f2" stroke-width="0.9" stroke-opacity="0.75" fill-opacity="0.92"/>
<ellipse cx="1137.5" cy="331.9" rx="7.0" ry="6.3" fill="#aca4d2" stroke="#ece6f2" stroke-width="0.9" stroke-opacity="0.75" fill-opacity="0.92"/>
<ellipse cx="1157.9" cy="333.1" rx="7.6" ry="7.6" fill="#b2aad8" stroke="#ece6f2" stroke-width="0.9" stroke-opacity="0.75" fill-opacity="0.92"/>
<ellipse cx="1174.7" cy="331.3" rx="5.0" ry="4.4" fill="#a385b1" stroke="#ece6f2" stroke-width="0.9" stroke-opacity="0.75" fill-opacity="0.92"/>
<ellipse cx="1199.9" cy="337.9" rx="8.3" ry="8.3" fill="#b1a9d7" stroke="#ece6f2" stroke-width="0.9" stroke-opacity="0.75" fill-opacity="0.92"/>
<ellipse cx="1250.3" cy="339.1" rx="7.0" ry="7.0" fill="#ada5d3" stroke="#ece6f2" stroke-width="0.9" stroke-opacity="0.75" fill-opacity="0.92"/>
<ellipse cx="1054.8" cy="340.9" rx="6.3" ry="5.7" fill="#996c92" stroke="#ece6f2" stroke-width="0.9" stroke-opacity="0.75" fill-opacity="0.95"/>
<ellipse cx="1088.4" cy="339.1" rx="8.3" ry="10.9" fill="#bea6c4" stroke="#ece6f2" stroke-width="0.9" stroke-opacity="0.75" fill-opacity="0.88"/>
<ellipse cx="1130.3" cy="339.1" rx="5.7" ry="7.0" fill="#b1a9d7" stroke="#ece6f2" stroke-width="0.9" stroke-opacity="0.75" fill-opacity="0.92"/>
<ellipse cx="1149.5" cy="342.1" rx="8.3" ry="6.3" fill="#afa7d5" stroke="#ece6f2" stroke-width="0.9" stroke-opacity="0.75" fill-opacity="0.92"/>
<ellipse cx="1169.9" cy="341.5" rx="5.7" ry="7.0" fill="#a88ab6" stroke="#ece6f2" stroke-width="0.9" stroke-opacity="0.75" fill-opacity="0.92"/>
<ellipse cx="1190.3" cy="339.1" rx="5.0" ry="5.7" fill="#bca4c2" stroke="#ece6f2" stroke-width="0.9" stroke-opacity="0.75" fill-opacity="0.88"/>
<ellipse cx="1237.1" cy="346.3" rx="6.3" ry="8.3" fill="#a69ecc" stroke="#ece6f2" stroke-width="0.9" stroke-opacity="0.75" fill-opacity="0.92"/>
<ellipse cx="1265.8" cy="349.9" rx="4.4" ry="7.0" fill="#965a70" stroke="#ece6f2" stroke-width="0.9" stroke-opacity="0.75" fill-opacity="1"/>
<ellipse cx="1077.6" cy="348.7" rx="4.4" ry="4.4" fill="#a88ab6" stroke="#ece6f2" stroke-width="0.9" stroke-opacity="0.75" fill-opacity="0.92"/>
<ellipse cx="1111.2" cy="348.7" rx="8.9" ry="7.0" fill="#aca4d2" stroke="#ece6f2" stroke-width="0.9" stroke-opacity="0.75" fill-opacity="0.92"/>
<ellipse cx="1138.7" cy="351.7" rx="7.0" ry="6.3" fill="#a98bb7" stroke="#ece6f2" stroke-width="0.9" stroke-opacity="0.75" fill-opacity="0.92"/>
<ellipse cx="1174.7" cy="350.5" rx="5.7" ry="5.0" fill="#c5adcb" stroke="#ece6f2" stroke-width="0.9" stroke-opacity="0.75" fill-opacity="0.88"/>
<ellipse cx="1192.7" cy="348.7" rx="7.0" ry="5.7" fill="#c6aecc" stroke="#ece6f2" stroke-width="0.9" stroke-opacity="0.75" fill-opacity="0.88"/>
<ellipse cx="1208.3" cy="353.5" rx="7.0" ry="8.3" fill="#aea6d4" stroke="#ece6f2" stroke-width="0.9" stroke-opacity="0.75" fill-opacity="0.92"/>
<ellipse cx="1249.1" cy="351.1" rx="6.3" ry="5.7" fill="#bca4c2" stroke="#ece6f2" stroke-width="0.9" stroke-opacity="0.75" fill-opacity="0.88"/>
<ellipse cx="1062.0" cy="353.5" rx="4.4" ry="4.4" fill="#a688b4" stroke="#ece6f2" stroke-width="0.9" stroke-opacity="0.75" fill-opacity="0.92"/>
<ellipse cx="1050.6" cy="359.5" rx="5.7" ry="6.3" fill="#aa8cb8" stroke="#ece6f2" stroke-width="0.9" stroke-opacity="0.75" fill-opacity="0.92"/>
<ellipse cx="1126.1" cy="357.1" rx="5.7" ry="5.7" fill="#9f7298" stroke="#ece6f2" stroke-width="0.9" stroke-opacity="0.75" fill-opacity="0.95"/>
<ellipse cx="1155.5" cy="359.5" rx="5.7" ry="6.3" fill="#a07399" stroke="#ece6f2" stroke-width="0.9" stroke-opacity="0.75" fill-opacity="0.95"/>
<ellipse cx="1169.9" cy="361.9" rx="7.6" ry="7.0" fill="#8e5268" stroke="#ece6f2" stroke-width="0.9" stroke-opacity="0.75" fill-opacity="1"/>
<ellipse cx="1228.7" cy="358.3" rx="6.3" ry="7.0" fill="#a88ab6" stroke="#ece6f2" stroke-width="0.9" stroke-opacity="0.75" fill-opacity="0.92"/>
<ellipse cx="1257.5" cy="358.3" rx="6.3" ry="6.3" fill="#afa7d5" stroke="#ece6f2" stroke-width="0.9" stroke-opacity="0.75" fill-opacity="0.92"/>
<ellipse cx="1240.7" cy="361.9" rx="5.7" ry="7.0" fill="#b2aad8" stroke="#ece6f2" stroke-width="0.9" stroke-opacity="0.75" fill-opacity="0.92"/>
<ellipse cx="1106.4" cy="363.1" rx="12.2" ry="5.0" fill="#a98bb7" stroke="#ece6f2" stroke-width="0.9" stroke-opacity="0.75" fill-opacity="0.92"/>
<ellipse cx="1081.8" cy="364.3" rx="4.4" ry="7.0" fill="#c4acca" stroke="#ece6f2" stroke-width="0.9" stroke-opacity="0.75" fill-opacity="0.88"/>
<ellipse cx="1059.6" cy="371.5" rx="7.0" ry="7.6" fill="#b1a9d7" stroke="#ece6f2" stroke-width="0.9" stroke-opacity="0.75" fill-opacity="0.92"/>
<ellipse cx="1131.5" cy="371.5" rx="7.0" ry="6.3" fill="#a88ab6" stroke="#ece6f2" stroke-width="0.9" stroke-opacity="0.75" fill-opacity="0.92"/>
<ellipse cx="1154.3" cy="371.5" rx="6.3" ry="6.3" fill="#a9a1cf" stroke="#ece6f2" stroke-width="0.9" stroke-opacity="0.75" fill-opacity="0.92"/>
<ellipse cx="1163.9" cy="375.1" rx="5.7" ry="5.7" fill="#bba3c1" stroke="#ece6f2" stroke-width="0.9" stroke-opacity="0.75" fill-opacity="0.88"/>
<ellipse cx="1100.4" cy="373.9" rx="4.4" ry="5.0" fill="#9e80ac" stroke="#ece6f2" stroke-width="0.9" stroke-opacity="0.75" fill-opacity="0.92"/>
<ellipse cx="1113.6" cy="375.7" rx="7.0" ry="5.0" fill="#976a90" stroke="#ece6f2" stroke-width="0.9" stroke-opacity="0.75" fill-opacity="0.95"/>
<ellipse cx="1215.5" cy="375.1" rx="8.3" ry="6.3" fill="#a8a0ce" stroke="#ece6f2" stroke-width="0.9" stroke-opacity="0.75" fill-opacity="0.92"/>
<ellipse cx="1251.5" cy="371.5" rx="7.0" ry="7.0" fill="#a88ab6" stroke="#ece6f2" stroke-width="0.9" stroke-opacity="0.75" fill-opacity="0.92"/>
<ellipse cx="1265.8" cy="366.7" rx="5.7" ry="7.0" fill="#a385b1" stroke="#ece6f2" stroke-width="0.9" stroke-opacity="0.75" fill-opacity="0.92"/>
<ellipse cx="1238.3" cy="372.7" rx="5.0" ry="5.7" fill="#a79fcd" stroke="#ece6f2" stroke-width="0.9" stroke-opacity="0.75" fill-opacity="0.92"/>
<ellipse cx="1070.4" cy="379.9" rx="6.3" ry="5.7" fill="#aca4d2" stroke="#ece6f2" stroke-width="0.9" stroke-opacity="0.75" fill-opacity="0.92"/>
<ellipse cx="1087.2" cy="379.9" rx="5.0" ry="5.0" fill="#ada5d3" stroke="#ece6f2" stroke-width="0.9" stroke-opacity="0.75" fill-opacity="0.92"/>
<ellipse cx="1098.0" cy="385.9" rx="5.7" ry="8.3" fill="#a688b4" stroke="#ece6f2" stroke-width="0.9" stroke-opacity="0.75" fill-opacity="0.92"/>
<ellipse cx="1063.8" cy="389.5" rx="8.9" ry="7.0" fill="#9e80ac" stroke="#ece6f2" stroke-width="0.9" stroke-opacity="0.75" fill-opacity="0.92"/>
<ellipse cx="1121.9" cy="385.9" rx="8.3" ry="6.3" fill="#a88ab6" stroke="#ece6f2" stroke-width="0.9" stroke-opacity="0.75" fill-opacity="0.92"/>
<ellipse cx="1142.3" cy="387.1" rx="7.0" ry="5.7" fill="#a69ecc" stroke="#ece6f2" stroke-width="0.9" stroke-opacity="0.75" fill-opacity="0.92"/>
<ellipse cx="1175.9" cy="384.7" rx="7.0" ry="4.4" fill="#b0a8d6" stroke="#ece6f2" stroke-width="0.9" stroke-opacity="0.75" fill-opacity="0.92"/>
<ellipse cx="1205.9" cy="385.9" rx="8.3" ry="7.0" fill="#aea6d4" stroke="#ece6f2" stroke-width="0.9" stroke-opacity="0.75" fill-opacity="0.92"/>
<ellipse cx="1221.5" cy="385.9" rx="7.0" ry="6.3" fill="#b0a8d6" stroke="#ece6f2" stroke-width="0.9" stroke-opacity="0.75" fill-opacity="0.92"/>
<ellipse cx="1247.9" cy="385.9" rx="7.0" ry="6.3" fill="#bda5c3" stroke="#ece6f2" stroke-width="0.9" stroke-opacity="0.75" fill-opacity="0.88"/>
<ellipse cx="1264.6" cy="381.1" rx="7.0" ry="7.0" fill="#a587b3" stroke="#ece6f2" stroke-width="0.9" stroke-opacity="0.75" fill-opacity="0.92"/>
<ellipse cx="1231.1" cy="390.7" rx="5.0" ry="4.4" fill="#a284b0" stroke="#ece6f2" stroke-width="0.9" stroke-opacity="0.75" fill-opacity="0.92"/>
<ellipse cx="1154.3" cy="392.1" rx="7.0" ry="1.8" fill="#2a1e5a" stroke="#ece6f2" stroke-width="0.9" stroke-opacity="0.75" fill-opacity="1"/>
<ellipse cx="1084.8" cy="391.9" rx="5.0" ry="3.1" fill="#a587b3" stroke="#ece6f2" stroke-width="0.9" stroke-opacity="0.75" fill-opacity="0.92"/>
<ellipse cx="1180.7" cy="391.9" rx="7.0" ry="2.4" fill="#aa8cb8" stroke="#ece6f2" stroke-width="0.9" stroke-opacity="0.75" fill-opacity="0.92"/>
</g></g>
<rect x="1275.7" y="228.2" width="222" height="166" fill="#eae7f4"/>
<g clip-path="url(#c4)"><g filter="url(#nb2)">
<rect x="1271.7" y="224.2" width="230" height="174" fill="#eae7f4"/>
<ellipse cx="1278.2" cy="231.4" rx="6.0" ry="4.9" fill="#d5d2e7" stroke="#eeecf6" stroke-width="0.9" stroke-opacity="0.75" fill-opacity="0.8"/>
<ellipse cx="1277.0" cy="247.8" rx="6.2" ry="5.7" fill="#dad7ec" stroke="#eeecf6" stroke-width="0.9" stroke-opacity="0.75" fill-opacity="0.8"/>
<ellipse cx="1279.3" cy="267.8" rx="4.7" ry="4.8" fill="#d9d6eb" stroke="#eeecf6" stroke-width="0.9" stroke-opacity="0.75" fill-opacity="0.8"/>
<ellipse cx="1279.3" cy="283.0" rx="4.7" ry="5.2" fill="#d9d6eb" stroke="#eeecf6" stroke-width="0.9" stroke-opacity="0.75" fill-opacity="0.8"/>
<ellipse cx="1277.4" cy="294.9" rx="5.7" ry="5.9" fill="#d5d2e7" stroke="#eeecf6" stroke-width="0.9" stroke-opacity="0.75" fill-opacity="0.8"/>
<ellipse cx="1277.0" cy="350.8" rx="4.6" ry="5.8" fill="#dad7ec" stroke="#eeecf6" stroke-width="0.9" stroke-opacity="0.75" fill-opacity="0.8"/>
<ellipse cx="1281.2" cy="362.5" rx="4.9" ry="4.8" fill="#d9d6eb" stroke="#eeecf6" stroke-width="0.9" stroke-opacity="0.75" fill-opacity="0.8"/>
<ellipse cx="1277.9" cy="370.4" rx="5.6" ry="4.7" fill="#d5d2e7" stroke="#eeecf6" stroke-width="0.9" stroke-opacity="0.75" fill-opacity="0.8"/>
<ellipse cx="1284.7" cy="275.4" rx="5.4" ry="5.1" fill="#dad7ec" stroke="#eeecf6" stroke-width="0.9" stroke-opacity="0.75" fill-opacity="0.8"/>
<ellipse cx="1286.4" cy="298.0" rx="4.7" ry="5.3" fill="#dad7ec" stroke="#eeecf6" stroke-width="0.9" stroke-opacity="0.75" fill-opacity="0.8"/>
<ellipse cx="1286.4" cy="375.1" rx="5.9" ry="5.2" fill="#d8d5ea" stroke="#eeecf6" stroke-width="0.9" stroke-opacity="0.75" fill-opacity="0.8"/>
<ellipse cx="1291.8" cy="270.4" rx="5.7" ry="5.7" fill="#d7d4e9" stroke="#eeecf6" stroke-width="0.9" stroke-opacity="0.75" fill-opacity="0.8"/>
<ellipse cx="1291.2" cy="289.8" rx="4.6" ry="4.7" fill="#dbd8ed" stroke="#eeecf6" stroke-width="0.9" stroke-opacity="0.75" fill-opacity="0.8"/>
<ellipse cx="1287.9" cy="323.5" rx="5.2" ry="5.9" fill="#d5d2e7" stroke="#eeecf6" stroke-width="0.9" stroke-opacity="0.75" fill-opacity="0.8"/>
<ellipse cx="1291.7" cy="341.1" rx="5.9" ry="5.7" fill="#dbd8ed" stroke="#eeecf6" stroke-width="0.9" stroke-opacity="0.75" fill-opacity="0.8"/>
<ellipse cx="1289.1" cy="352.0" rx="5.9" ry="5.0" fill="#d7d4e9" stroke="#eeecf6" stroke-width="0.9" stroke-opacity="0.75" fill-opacity="0.8"/>
<ellipse cx="1295.2" cy="250.7" rx="5.5" ry="5.1" fill="#d6d3e8" stroke="#eeecf6" stroke-width="0.9" stroke-opacity="0.75" fill-opacity="0.8"/>
<ellipse cx="1295.5" cy="315.4" rx="5.4" ry="6.1" fill="#dad7ec" stroke="#eeecf6" stroke-width="0.9" stroke-opacity="0.75" fill-opacity="0.8"/>
<ellipse cx="1294.9" cy="358.7" rx="5.2" ry="6.1" fill="#dbd8ed" stroke="#eeecf6" stroke-width="0.9" stroke-opacity="0.75" fill-opacity="0.8"/>
<ellipse cx="1297.3" cy="371.1" rx="5.5" ry="4.8" fill="#d6d3e8" stroke="#eeecf6" stroke-width="0.9" stroke-opacity="0.75" fill-opacity="0.8"/>
<ellipse cx="1298.6" cy="231.3" rx="5.7" ry="4.6" fill="#d6d3e8" stroke="#eeecf6" stroke-width="0.9" stroke-opacity="0.75" fill-opacity="0.8"/>
<ellipse cx="1300.3" cy="258.3" rx="5.1" ry="4.7" fill="#dad7ec" stroke="#eeecf6" stroke-width="0.9" stroke-opacity="0.75" fill-opacity="0.8"/>
<ellipse cx="1300.9" cy="270.1" rx="4.9" ry="4.7" fill="#dad7ec" stroke="#eeecf6" stroke-width="0.9" stroke-opacity="0.75" fill-opacity="0.8"/>
<ellipse cx="1308.6" cy="288.5" rx="5.1" ry="4.7" fill="#d8d5ea" stroke="#eeecf6" stroke-width="0.9" stroke-opacity="0.75" fill-opacity="0.8"/>
<ellipse cx="1308.6" cy="388.9" rx="4.7" ry="5.7" fill="#d8d5ea" stroke="#eeecf6" stroke-width="0.9" stroke-opacity="0.75" fill-opacity="0.8"/>
<ellipse cx="1309.4" cy="229.3" rx="5.0" ry="4.6" fill="#dbd8ed" stroke="#eeecf6" stroke-width="0.9" stroke-opacity="0.75" fill-opacity="0.8"/>
<ellipse cx="1313.9" cy="242.3" rx="4.6" ry="5.8" fill="#d8d5ea" stroke="#eeecf6" stroke-width="0.9" stroke-opacity="0.75" fill-opacity="0.8"/>
<ellipse cx="1309.4" cy="251.3" rx="5.2" ry="5.9" fill="#d5d2e7" stroke="#eeecf6" stroke-width="0.9" stroke-opacity="0.75" fill-opacity="0.8"/>
<ellipse cx="1309.4" cy="280.2" rx="5.9" ry="5.7" fill="#d8d5ea" stroke="#eeecf6" stroke-width="0.9" stroke-opacity="0.75" fill-opacity="0.8"/>
<ellipse cx="1309.7" cy="320.1" rx="5.7" ry="5.7" fill="#dad7ec" stroke="#eeecf6" stroke-width="0.9" stroke-opacity="0.75" fill-opacity="0.8"/>
<ellipse cx="1313.1" cy="369.5" rx="4.6" ry="4.7" fill="#d7d4e9" stroke="#eeecf6" stroke-width="0.9" stroke-opacity="0.75" fill-opacity="0.8"/>
<ellipse cx="1317.8" cy="234.5" rx="4.8" ry="5.9" fill="#dbd8ed" stroke="#eeecf6" stroke-width="0.9" stroke-opacity="0.75" fill-opacity="0.8"/>
<ellipse cx="1319.6" cy="249.3" rx="4.8" ry="4.8" fill="#d5d2e7" stroke="#eeecf6" stroke-width="0.9" stroke-opacity="0.75" fill-opacity="0.8"/>
<ellipse cx="1318.7" cy="284.9" rx="4.9" ry="5.6" fill="#d9d6eb" stroke="#eeecf6" stroke-width="0.9" stroke-opacity="0.75" fill-opacity="0.8"/>
<ellipse cx="1318.3" cy="304.7" rx="5.6" ry="4.8" fill="#dad7ec" stroke="#eeecf6" stroke-width="0.9" stroke-opacity="0.75" fill-opacity="0.8"/>
<ellipse cx="1314.8" cy="312.7" rx="5.2" ry="6.2" fill="#dad7ec" stroke="#eeecf6" stroke-width="0.9" stroke-opacity="0.75" fill-opacity="0.8"/>
<ellipse cx="1317.6" cy="324.3" rx="6.0" ry="5.6" fill="#d6d3e8" stroke="#eeecf6" stroke-width="0.9" stroke-opacity="0.75" fill-opacity="0.8"/>
<ellipse cx="1317.2" cy="377.8" rx="4.9" ry="4.8" fill="#d5d2e7" stroke="#eeecf6" stroke-width="0.9" stroke-opacity="0.75" fill-opacity="0.8"/>
<ellipse cx="1324.8" cy="242.3" rx="5.9" ry="5.5" fill="#d9d6eb" stroke="#eeecf6" stroke-width="0.9" stroke-opacity="0.75" fill-opacity="0.8"/>
<ellipse cx="1324.3" cy="277.7" rx="5.4" ry="4.7" fill="#d6d3e8" stroke="#eeecf6" stroke-width="0.9" stroke-opacity="0.75" fill-opacity="0.8"/>
<ellipse cx="1323.9" cy="364.4" rx="5.4" ry="5.6" fill="#d7d4e9" stroke="#eeecf6" stroke-width="0.9" stroke-opacity="0.75" fill-opacity="0.8"/>
<ellipse cx="1327.4" cy="325.5" rx="5.1" ry="6.0" fill="#d7d4e9" stroke="#eeecf6" stroke-width="0.9" stroke-opacity="0.75" fill-opacity="0.8"/>
<ellipse cx="1328.4" cy="350.4" rx="5.8" ry="5.6" fill="#dad7ec" stroke="#eeecf6" stroke-width="0.9" stroke-opacity="0.75" fill-opacity="0.8"/>
<ellipse cx="1326.1" cy="372.9" rx="5.1" ry="5.8" fill="#dad7ec" stroke="#eeecf6" stroke-width="0.9" stroke-opacity="0.75" fill-opacity="0.8"/>
<ellipse cx="1328.2" cy="381.6" rx="5.2" ry="4.9" fill="#dad7ec" stroke="#eeecf6" stroke-width="0.9" stroke-opacity="0.75" fill-opacity="0.8"/>
<ellipse cx="1328.2" cy="390.5" rx="5.2" ry="5.6" fill="#d7d4e9" stroke="#eeecf6" stroke-width="0.9" stroke-opacity="0.75" fill-opacity="0.8"/>
<ellipse cx="1334.5" cy="241.7" rx="5.8" ry="5.9" fill="#d9d6eb" stroke="#eeecf6" stroke-width="0.9" stroke-opacity="0.75" fill-opacity="0.8"/>
<ellipse cx="1331.4" cy="308.8" rx="4.6" ry="5.3" fill="#d9d6eb" stroke="#eeecf6" stroke-width="0.9" stroke-opacity="0.75" fill-opacity="0.8"/>
<ellipse cx="1335.9" cy="345.6" rx="6.1" ry="6.2" fill="#d6d3e8" stroke="#eeecf6" stroke-width="0.9" stroke-opacity="0.75" fill-opacity="0.8"/>
<ellipse cx="1335.2" cy="366.7" rx="6.0" ry="5.5" fill="#d5d2e7" stroke="#eeecf6" stroke-width="0.9" stroke-opacity="0.75" fill-opacity="0.8"/>
<ellipse cx="1338.8" cy="229.0" rx="4.7" ry="4.9" fill="#d8d5ea" stroke="#eeecf6" stroke-width="0.9" stroke-opacity="0.75" fill-opacity="0.8"/>
<ellipse cx="1341.4" cy="254.1" rx="4.9" ry="4.7" fill="#d5d2e7" stroke="#eeecf6" stroke-width="0.9" stroke-opacity="0.75" fill-opacity="0.8"/>
<ellipse cx="1336.9" cy="324.2" rx="6.2" ry="4.7" fill="#d8d5ea" stroke="#eeecf6" stroke-width="0.9" stroke-opacity="0.75" fill-opacity="0.8"/>
<ellipse cx="1339.8" cy="335.0" rx="6.1" ry="5.9" fill="#d7d4e9" stroke="#eeecf6" stroke-width="0.9" stroke-opacity="0.75" fill-opacity="0.8"/>
<ellipse cx="1341.3" cy="392.7" rx="6.0" ry="6.2" fill="#dad7ec" stroke="#eeecf6" stroke-width="0.9" stroke-opacity="0.75" fill-opacity="0.8"/>
<ellipse cx="1346.8" cy="232.2" rx="5.4" ry="4.7" fill="#d5d2e7" stroke="#eeecf6" stroke-width="0.9" stroke-opacity="0.75" fill-opacity="0.8"/>
<ellipse cx="1343.7" cy="241.5" rx="5.8" ry="5.8" fill="#dad7ec" stroke="#eeecf6" stroke-width="0.9" stroke-opacity="0.75" fill-opacity="0.8"/>
<ellipse cx="1342.8" cy="285.2" rx="6.0" ry="6.2" fill="#d6d3e8" stroke="#eeecf6" stroke-width="0.9" stroke-opacity="0.75" fill-opacity="0.8"/>
<ellipse cx="1352.6" cy="286.3" rx="4.6" ry="5.6" fill="#dad7ec" stroke="#eeecf6" stroke-width="0.9" stroke-opacity="0.75" fill-opacity="0.8"/>
<ellipse cx="1352.5" cy="314.6" rx="4.7" ry="5.0" fill="#d8d5ea" stroke="#eeecf6" stroke-width="0.9" stroke-opacity="0.75" fill-opacity="0.8"/>
<ellipse cx="1348.0" cy="326.2" rx="5.3" ry="5.3" fill="#d7d4e9" stroke="#eeecf6" stroke-width="0.9" stroke-opacity="0.75" fill-opacity="0.8"/>
<ellipse cx="1350.4" cy="364.5" rx="5.5" ry="6.2" fill="#dad7ec" stroke="#eeecf6" stroke-width="0.9" stroke-opacity="0.75" fill-opacity="0.8"/>
<ellipse cx="1355.0" cy="237.8" rx="5.2" ry="5.2" fill="#d9d6eb" stroke="#eeecf6" stroke-width="0.9" stroke-opacity="0.75" fill-opacity="0.8"/>
<ellipse cx="1355.4" cy="350.6" rx="5.0" ry="5.0" fill="#d7d4e9" stroke="#eeecf6" stroke-width="0.9" stroke-opacity="0.75" fill-opacity="0.8"/>
<ellipse cx="1361.3" cy="247.9" rx="5.1" ry="5.8" fill="#d8d5ea" stroke="#eeecf6" stroke-width="0.9" stroke-opacity="0.75" fill-opacity="0.8"/>
<ellipse cx="1363.4" cy="274.9" rx="6.0" ry="5.2" fill="#d8d5ea" stroke="#eeecf6" stroke-width="0.9" stroke-opacity="0.75" fill-opacity="0.8"/>
<ellipse cx="1359.1" cy="336.1" rx="4.8" ry="5.7" fill="#d8d5ea" stroke="#eeecf6" stroke-width="0.9" stroke-opacity="0.75" fill-opacity="0.8"/>
<ellipse cx="1369.2" cy="261.2" rx="5.8" ry="5.9" fill="#dbd8ed" stroke="#eeecf6" stroke-width="0.9" stroke-opacity="0.75" fill-opacity="0.8"/>
<ellipse cx="1369.2" cy="328.3" rx="5.0" ry="4.9" fill="#d5d2e7" stroke="#eeecf6" stroke-width="0.9" stroke-opacity="0.75" fill-opacity="0.8"/>
<ellipse cx="1366.1" cy="375.6" rx="5.5" ry="6.1" fill="#d9d6eb" stroke="#eeecf6" stroke-width="0.9" stroke-opacity="0.75" fill-opacity="0.8"/>
<ellipse cx="1367.8" cy="392.9" rx="5.8" ry="5.3" fill="#d6d3e8" stroke="#eeecf6" stroke-width="0.9" stroke-opacity="0.75" fill-opacity="0.8"/>
<ellipse cx="1371.8" cy="249.8" rx="5.0" ry="5.8" fill="#d7d4e9" stroke="#eeecf6" stroke-width="0.9" stroke-opacity="0.75" fill-opacity="0.8"/>
<ellipse cx="1374.6" cy="306.9" rx="4.7" ry="5.1" fill="#d5d2e7" stroke="#eeecf6" stroke-width="0.9" stroke-opacity="0.75" fill-opacity="0.8"/>
<ellipse cx="1374.0" cy="367.6" rx="5.8" ry="5.7" fill="#d8d5ea" stroke="#eeecf6" stroke-width="0.9" stroke-opacity="0.75" fill-opacity="0.8"/>
<ellipse cx="1379.5" cy="260.5" rx="5.7" ry="6.1" fill="#d5d2e7" stroke="#eeecf6" stroke-width="0.9" stroke-opacity="0.75" fill-opacity="0.8"/>
<ellipse cx="1377.3" cy="333.2" rx="5.0" ry="5.7" fill="#d7d4e9" stroke="#eeecf6" stroke-width="0.9" stroke-opacity="0.75" fill-opacity="0.8"/>
<ellipse cx="1381.8" cy="229.3" rx="5.3" ry="4.8" fill="#d8d5ea" stroke="#eeecf6" stroke-width="0.9" stroke-opacity="0.75" fill-opacity="0.8"/>
<ellipse cx="1384.1" cy="343.3" rx="4.9" ry="5.2" fill="#d5d2e7" stroke="#eeecf6" stroke-width="0.9" stroke-opacity="0.75" fill-opacity="0.8"/>
<ellipse cx="1385.0" cy="352.3" rx="4.9" ry="5.3" fill="#dbd8ed" stroke="#eeecf6" stroke-width="0.9" stroke-opacity="0.75" fill-opacity="0.8"/>
<ellipse cx="1381.1" cy="392.6" rx="4.9" ry="5.2" fill="#d9d6eb" stroke="#eeecf6" stroke-width="0.9" stroke-opacity="0.75" fill-opacity="0.8"/>
<ellipse cx="1386.5" cy="332.2" rx="5.4" ry="6.2" fill="#d8d5ea" stroke="#eeecf6" stroke-width="0.9" stroke-opacity="0.75" fill-opacity="0.8"/>
<ellipse cx="1389.4" cy="372.5" rx="5.8" ry="5.4" fill="#d7d4e9" stroke="#eeecf6" stroke-width="0.9" stroke-opacity="0.75" fill-opacity="0.8"/>
<ellipse cx="1393.7" cy="231.2" rx="5.3" ry="5.8" fill="#d8d5ea" stroke="#eeecf6" stroke-width="0.9" stroke-opacity="0.75" fill-opacity="0.8"/>
<ellipse cx="1394.8" cy="335.7" rx="4.6" ry="5.0" fill="#d6d3e8" stroke="#eeecf6" stroke-width="0.9" stroke-opacity="0.75" fill-opacity="0.8"/>
<ellipse cx="1401.8" cy="285.7" rx="5.7" ry="5.2" fill="#d6d3e8" stroke="#eeecf6" stroke-width="0.9" stroke-opacity="0.75" fill-opacity="0.8"/>
<ellipse cx="1401.0" cy="345.4" rx="4.9" ry="5.8" fill="#d5d2e7" stroke="#eeecf6" stroke-width="0.9" stroke-opacity="0.75" fill-opacity="0.8"/>
<ellipse cx="1407.4" cy="252.5" rx="5.0" ry="5.6" fill="#d9d6eb" stroke="#eeecf6" stroke-width="0.9" stroke-opacity="0.75" fill-opacity="0.8"/>
<ellipse cx="1406.7" cy="298.9" rx="5.7" ry="4.8" fill="#d5d2e7" stroke="#eeecf6" stroke-width="0.9" stroke-opacity="0.75" fill-opacity="0.8"/>
<ellipse cx="1405.4" cy="309.2" rx="4.8" ry="5.8" fill="#d6d3e8" stroke="#eeecf6" stroke-width="0.9" stroke-opacity="0.75" fill-opacity="0.8"/>
<ellipse cx="1404.2" cy="318.4" rx="5.3" ry="5.6" fill="#dad7ec" stroke="#eeecf6" stroke-width="0.9" stroke-opacity="0.75" fill-opacity="0.8"/>
<ellipse cx="1404.2" cy="328.2" rx="6.2" ry="5.6" fill="#d9d6eb" stroke="#eeecf6" stroke-width="0.9" stroke-opacity="0.75" fill-opacity="0.8"/>
<ellipse cx="1407.6" cy="357.5" rx="6.1" ry="5.3" fill="#d7d4e9" stroke="#eeecf6" stroke-width="0.9" stroke-opacity="0.75" fill-opacity="0.8"/>
<ellipse cx="1410.6" cy="273.5" rx="4.8" ry="5.4" fill="#d7d4e9" stroke="#eeecf6" stroke-width="0.9" stroke-opacity="0.75" fill-opacity="0.8"/>
<ellipse cx="1410.3" cy="335.5" rx="5.2" ry="5.3" fill="#d6d3e8" stroke="#eeecf6" stroke-width="0.9" stroke-opacity="0.75" fill-opacity="0.8"/>
<ellipse cx="1410.3" cy="348.4" rx="6.2" ry="5.8" fill="#d9d6eb" stroke="#eeecf6" stroke-width="0.9" stroke-opacity="0.75" fill-opacity="0.8"/>
<ellipse cx="1409.9" cy="374.2" rx="5.9" ry="5.6" fill="#dbd8ed" stroke="#eeecf6" stroke-width="0.9" stroke-opacity="0.75" fill-opacity="0.8"/>
<ellipse cx="1417.3" cy="279.5" rx="4.7" ry="5.4" fill="#dad7ec" stroke="#eeecf6" stroke-width="0.9" stroke-opacity="0.75" fill-opacity="0.8"/>
<ellipse cx="1416.8" cy="391.7" rx="5.2" ry="5.7" fill="#d9d6eb" stroke="#eeecf6" stroke-width="0.9" stroke-opacity="0.75" fill-opacity="0.8"/>
<ellipse cx="1422.0" cy="237.3" rx="5.8" ry="5.5" fill="#d7d4e9" stroke="#eeecf6" stroke-width="0.9" stroke-opacity="0.75" fill-opacity="0.8"/>
<ellipse cx="1423.1" cy="247.3" rx="4.8" ry="5.7" fill="#d5d2e7" stroke="#eeecf6" stroke-width="0.9" stroke-opacity="0.75" fill-opacity="0.8"/>
<ellipse cx="1423.2" cy="291.8" rx="6.0" ry="5.6" fill="#dad7ec" stroke="#eeecf6" stroke-width="0.9" stroke-opacity="0.75" fill-opacity="0.8"/>
<ellipse cx="1422.0" cy="334.2" rx="4.9" ry="5.4" fill="#d7d4e9" stroke="#eeecf6" stroke-width="0.9" stroke-opacity="0.75" fill-opacity="0.8"/>
<ellipse cx="1426.0" cy="271.3" rx="5.1" ry="4.6" fill="#d6d3e8" stroke="#eeecf6" stroke-width="0.9" stroke-opacity="0.75" fill-opacity="0.8"/>
<ellipse cx="1432.8" cy="232.5" rx="5.5" ry="6.2" fill="#d8d5ea" stroke="#eeecf6" stroke-width="0.9" stroke-opacity="0.75" fill-opacity="0.8"/>
<ellipse cx="1431.7" cy="243.4" rx="5.9" ry="4.9" fill="#d8d5ea" stroke="#eeecf6" stroke-width="0.9" stroke-opacity="0.75" fill-opacity="0.8"/>
<ellipse cx="1434.4" cy="256.7" rx="5.9" ry="5.6" fill="#d8d5ea" stroke="#eeecf6" stroke-width="0.9" stroke-opacity="0.75" fill-opacity="0.8"/>
<ellipse cx="1433.9" cy="293.5" rx="5.8" ry="5.5" fill="#d5d2e7" stroke="#eeecf6" stroke-width="0.9" stroke-opacity="0.75" fill-opacity="0.8"/>
<ellipse cx="1434.2" cy="337.9" rx="4.7" ry="5.7" fill="#d6d3e8" stroke="#eeecf6" stroke-width="0.9" stroke-opacity="0.75" fill-opacity="0.8"/>
<ellipse cx="1433.8" cy="382.0" rx="5.1" ry="4.9" fill="#d5d2e7" stroke="#eeecf6" stroke-width="0.9" stroke-opacity="0.75" fill-opacity="0.8"/>
<ellipse cx="1433.6" cy="391.9" rx="5.7" ry="5.9" fill="#d8d5ea" stroke="#eeecf6" stroke-width="0.9" stroke-opacity="0.75" fill-opacity="0.8"/>
<ellipse cx="1440.7" cy="305.9" rx="4.8" ry="5.3" fill="#dad7ec" stroke="#eeecf6" stroke-width="0.9" stroke-opacity="0.75" fill-opacity="0.8"/>
<ellipse cx="1437.7" cy="324.9" rx="4.7" ry="5.2" fill="#d8d5ea" stroke="#eeecf6" stroke-width="0.9" stroke-opacity="0.75" fill-opacity="0.8"/>
<ellipse cx="1436.3" cy="362.1" rx="4.7" ry="4.8" fill="#d8d5ea" stroke="#eeecf6" stroke-width="0.9" stroke-opacity="0.75" fill-opacity="0.8"/>
<ellipse cx="1445.2" cy="231.7" rx="5.0" ry="5.6" fill="#d7d4e9" stroke="#eeecf6" stroke-width="0.9" stroke-opacity="0.75" fill-opacity="0.8"/>
<ellipse cx="1442.3" cy="261.0" rx="6.1" ry="4.8" fill="#dad7ec" stroke="#eeecf6" stroke-width="0.9" stroke-opacity="0.75" fill-opacity="0.8"/>
<ellipse cx="1443.5" cy="297.3" rx="5.8" ry="6.2" fill="#d6d3e8" stroke="#eeecf6" stroke-width="0.9" stroke-opacity="0.75" fill-opacity="0.8"/>
<ellipse cx="1444.5" cy="329.8" rx="5.0" ry="5.4" fill="#d8d5ea" stroke="#eeecf6" stroke-width="0.9" stroke-opacity="0.75" fill-opacity="0.8"/>
<ellipse cx="1442.5" cy="380.8" rx="5.4" ry="5.4" fill="#d7d4e9" stroke="#eeecf6" stroke-width="0.9" stroke-opacity="0.75" fill-opacity="0.8"/>
<ellipse cx="1449.3" cy="255.1" rx="5.7" ry="5.0" fill="#d8d5ea" stroke="#eeecf6" stroke-width="0.9" stroke-opacity="0.75" fill-opacity="0.8"/>
<ellipse cx="1448.5" cy="273.2" rx="5.8" ry="5.3" fill="#d7d4e9" stroke="#eeecf6" stroke-width="0.9" stroke-opacity="0.75" fill-opacity="0.8"/>
<ellipse cx="1453.9" cy="324.7" rx="5.3" ry="4.9" fill="#d5d2e7" stroke="#eeecf6" stroke-width="0.9" stroke-opacity="0.75" fill-opacity="0.8"/>
<ellipse cx="1455.1" cy="365.1" rx="5.1" ry="6.0" fill="#dbd8ed" stroke="#eeecf6" stroke-width="0.9" stroke-opacity="0.75" fill-opacity="0.8"/>
<ellipse cx="1456.4" cy="392.0" rx="6.0" ry="5.5" fill="#d7d4e9" stroke="#eeecf6" stroke-width="0.9" stroke-opacity="0.75" fill-opacity="0.8"/>
<ellipse cx="1458.6" cy="229.7" rx="5.0" ry="5.5" fill="#d5d2e7" stroke="#eeecf6" stroke-width="0.9" stroke-opacity="0.75" fill-opacity="0.8"/>
<ellipse cx="1460.1" cy="247.9" rx="4.6" ry="6.1" fill="#d7d4e9" stroke="#eeecf6" stroke-width="0.9" stroke-opacity="0.75" fill-opacity="0.8"/>
<ellipse cx="1460.1" cy="258.0" rx="6.1" ry="5.4" fill="#dbd8ed" stroke="#eeecf6" stroke-width="0.9" stroke-opacity="0.75" fill-opacity="0.8"/>
<ellipse cx="1458.8" cy="292.6" rx="4.7" ry="5.7" fill="#d7d4e9" stroke="#eeecf6" stroke-width="0.9" stroke-opacity="0.75" fill-opacity="0.8"/>
<ellipse cx="1461.4" cy="332.3" rx="6.0" ry="4.9" fill="#dbd8ed" stroke="#eeecf6" stroke-width="0.9" stroke-opacity="0.75" fill-opacity="0.8"/>
<ellipse cx="1461.8" cy="347.3" rx="4.8" ry="5.3" fill="#d8d5ea" stroke="#eeecf6" stroke-width="0.9" stroke-opacity="0.75" fill-opacity="0.8"/>
<ellipse cx="1461.0" cy="355.9" rx="5.1" ry="5.7" fill="#d5d2e7" stroke="#eeecf6" stroke-width="0.9" stroke-opacity="0.75" fill-opacity="0.8"/>
<ellipse cx="1470.5" cy="247.2" rx="5.3" ry="4.6" fill="#d6d3e8" stroke="#eeecf6" stroke-width="0.9" stroke-opacity="0.75" fill-opacity="0.8"/>
<ellipse cx="1472.6" cy="298.9" rx="5.0" ry="5.5" fill="#dad7ec" stroke="#eeecf6" stroke-width="0.9" stroke-opacity="0.75" fill-opacity="0.8"/>
<ellipse cx="1469.2" cy="328.5" rx="5.8" ry="5.2" fill="#d5d2e7" stroke="#eeecf6" stroke-width="0.9" stroke-opacity="0.75" fill-opacity="0.8"/>
<ellipse cx="1473.5" cy="376.6" rx="5.2" ry="4.6" fill="#dad7ec" stroke="#eeecf6" stroke-width="0.9" stroke-opacity="0.75" fill-opacity="0.8"/>
<ellipse cx="1477.3" cy="275.8" rx="5.4" ry="5.1" fill="#d7d4e9" stroke="#eeecf6" stroke-width="0.9" stroke-opacity="0.75" fill-opacity="0.8"/>
<ellipse cx="1476.4" cy="320.3" rx="4.8" ry="6.0" fill="#d7d4e9" stroke="#eeecf6" stroke-width="0.9" stroke-opacity="0.75" fill-opacity="0.8"/>
<ellipse cx="1478.4" cy="329.8" rx="5.6" ry="4.8" fill="#d7d4e9" stroke="#eeecf6" stroke-width="0.9" stroke-opacity="0.75" fill-opacity="0.8"/>
<ellipse cx="1474.4" cy="341.8" rx="4.9" ry="5.6" fill="#d5d2e7" stroke="#eeecf6" stroke-width="0.9" stroke-opacity="0.75" fill-opacity="0.8"/>
<ellipse cx="1476.6" cy="387.3" rx="5.0" ry="6.1" fill="#d8d5ea" stroke="#eeecf6" stroke-width="0.9" stroke-opacity="0.75" fill-opacity="0.8"/>
<ellipse cx="1482.4" cy="346.0" rx="5.8" ry="6.2" fill="#d8d5ea" stroke="#eeecf6" stroke-width="0.9" stroke-opacity="0.75" fill-opacity="0.8"/>
<ellipse cx="1485.4" cy="269.7" rx="5.6" ry="5.5" fill="#dbd8ed" stroke="#eeecf6" stroke-width="0.9" stroke-opacity="0.75" fill-opacity="0.8"/>
<ellipse cx="1486.9" cy="391.6" rx="5.7" ry="4.6" fill="#d9d6eb" stroke="#eeecf6" stroke-width="0.9" stroke-opacity="0.75" fill-opacity="0.8"/>
<ellipse cx="1494.8" cy="293.8" rx="5.2" ry="4.9" fill="#d5d2e7" stroke="#eeecf6" stroke-width="0.9" stroke-opacity="0.75" fill-opacity="0.8"/>
<ellipse cx="1494.3" cy="320.6" rx="6.1" ry="5.7" fill="#d7d4e9" stroke="#eeecf6" stroke-width="0.9" stroke-opacity="0.75" fill-opacity="0.8"/>
<ellipse cx="1495.5" cy="364.4" rx="5.6" ry="4.8" fill="#d8d5ea" stroke="#eeecf6" stroke-width="0.9" stroke-opacity="0.75" fill-opacity="0.8"/>
<ellipse cx="1290.0" cy="237.2" rx="5.5" ry="6.2" fill="#b6b0d8" stroke="#eeecf6" stroke-width="0.9" stroke-opacity="0.75" fill-opacity="0.9"/>
<ellipse cx="1302.0" cy="240.8" rx="5.5" ry="6.2" fill="#b2acd4" stroke="#eeecf6" stroke-width="0.9" stroke-opacity="0.75" fill-opacity="0.9"/>
<ellipse cx="1327.2" cy="232.4" rx="4.9" ry="5.5" fill="#b6b0d8" stroke="#eeecf6" stroke-width="0.9" stroke-opacity="0.75" fill-opacity="0.9"/>
<ellipse cx="1367.9" cy="235.4" rx="7.4" ry="6.2" fill="#b3add5" stroke="#eeecf6" stroke-width="0.9" stroke-opacity="0.75" fill-opacity="0.9"/>
<ellipse cx="1410.5" cy="238.4" rx="8.1" ry="8.7" fill="#b2acd4" stroke="#eeecf6" stroke-width="0.9" stroke-opacity="0.75" fill-opacity="0.9"/>
<ellipse cx="1451.9" cy="239.6" rx="6.2" ry="8.1" fill="#b6b0d8" stroke="#eeecf6" stroke-width="0.9" stroke-opacity="0.75" fill-opacity="0.9"/>
<ellipse cx="1466.3" cy="234.2" rx="4.9" ry="5.5" fill="#b4aed6" stroke="#eeecf6" stroke-width="0.9" stroke-opacity="0.75" fill-opacity="0.9"/>
<ellipse cx="1483.1" cy="234.8" rx="4.3" ry="5.5" fill="#a1a1d3" stroke="#eeecf6" stroke-width="0.9" stroke-opacity="0.75" fill-opacity="0.9"/>
<ellipse cx="1491.5" cy="239.6" rx="4.3" ry="5.5" fill="#b6b0d8" stroke="#eeecf6" stroke-width="0.9" stroke-opacity="0.75" fill-opacity="0.9"/>
<ellipse cx="1495.0" cy="231.2" rx="3.0" ry="4.3" fill="#b8b2da" stroke="#eeecf6" stroke-width="0.9" stroke-opacity="0.75" fill-opacity="0.9"/>
<ellipse cx="1385.9" cy="240.8" rx="6.2" ry="4.9" fill="#bab4dc" stroke="#eeecf6" stroke-width="0.9" stroke-opacity="0.75" fill-opacity="0.9"/>
<ellipse cx="1381.1" cy="249.8" rx="4.9" ry="6.2" fill="#b7b1d9" stroke="#eeecf6" stroke-width="0.9" stroke-opacity="0.75" fill-opacity="0.9"/>
<ellipse cx="1396.7" cy="251.0" rx="5.5" ry="6.2" fill="#b5afd7" stroke="#eeecf6" stroke-width="0.9" stroke-opacity="0.75" fill-opacity="0.9"/>
<ellipse cx="1415.3" cy="250.4" rx="4.3" ry="4.3" fill="#7478cc" stroke="#eeecf6" stroke-width="0.9" stroke-opacity="0.75" fill-opacity="0.95"/>
<ellipse cx="1441.7" cy="248.0" rx="6.8" ry="7.4" fill="#b8b2da" stroke="#eeecf6" stroke-width="0.9" stroke-opacity="0.75" fill-opacity="0.9"/>
<ellipse cx="1485.5" cy="252.8" rx="5.5" ry="5.5" fill="#b2acd4" stroke="#eeecf6" stroke-width="0.9" stroke-opacity="0.75" fill-opacity="0.9"/>
<ellipse cx="1352.3" cy="254.0" rx="5.5" ry="3.0" fill="#7478cc" stroke="#eeecf6" stroke-width="0.9" stroke-opacity="0.75" fill-opacity="0.95"/>
<ellipse cx="1330.8" cy="262.4" rx="4.3" ry="8.1" fill="#bab4dc" stroke="#eeecf6" stroke-width="0.9" stroke-opacity="0.75" fill-opacity="0.9"/>
<ellipse cx="1279.2" cy="258.8" rx="4.9" ry="5.5" fill="#bab4dc" stroke="#eeecf6" stroke-width="0.9" stroke-opacity="0.75" fill-opacity="0.9"/>
<ellipse cx="1290.0" cy="260.0" rx="4.3" ry="6.2" fill="#b5afd7" stroke="#eeecf6" stroke-width="0.9" stroke-opacity="0.75" fill-opacity="0.9"/>
<ellipse cx="1313.4" cy="267.2" rx="6.8" ry="6.8" fill="#b3add5" stroke="#eeecf6" stroke-width="0.9" stroke-opacity="0.75" fill-opacity="0.9"/>
<ellipse cx="1342.8" cy="269.6" rx="6.8" ry="9.3" fill="#b2acd4" stroke="#eeecf6" stroke-width="0.9" stroke-opacity="0.75" fill-opacity="0.9"/>
<ellipse cx="1359.5" cy="262.4" rx="5.5" ry="5.5" fill="#beaacc" stroke="#eeecf6" stroke-width="0.9" stroke-opacity="0.75" fill-opacity="0.9"/>
<ellipse cx="1389.5" cy="263.6" rx="6.2" ry="5.5" fill="#b9b3db" stroke="#eeecf6" stroke-width="0.9" stroke-opacity="0.75" fill-opacity="0.9"/>
<ellipse cx="1405.1" cy="266.0" rx="6.8" ry="5.5" fill="#b4aed6" stroke="#eeecf6" stroke-width="0.9" stroke-opacity="0.75" fill-opacity="0.9"/>
<ellipse cx="1419.5" cy="262.4" rx="5.5" ry="6.8" fill="#b6b0d8" stroke="#eeecf6" stroke-width="0.9" stroke-opacity="0.75" fill-opacity="0.9"/>
<ellipse cx="1426.7" cy="262.4" rx="2.8" ry="2.8" fill="#7478cc" stroke="#eeecf6" stroke-width="0.9" stroke-opacity="0.75" fill-opacity="0.95"/>
<ellipse cx="1456.7" cy="267.2" rx="4.9" ry="7.4" fill="#b2acd4" stroke="#eeecf6" stroke-width="0.9" stroke-opacity="0.75" fill-opacity="0.9"/>
<ellipse cx="1473.5" cy="262.4" rx="6.2" ry="7.4" fill="#bab4dc" stroke="#eeecf6" stroke-width="0.9" stroke-opacity="0.75" fill-opacity="0.9"/>
<ellipse cx="1493.8" cy="262.4" rx="5.5" ry="5.5" fill="#b4aed6" stroke="#eeecf6" stroke-width="0.9" stroke-opacity="0.75" fill-opacity="0.9"/>
<ellipse cx="1466.3" cy="269.6" rx="4.3" ry="6.8" fill="#b4aed6" stroke="#eeecf6" stroke-width="0.9" stroke-opacity="0.75" fill-opacity="0.9"/>
<ellipse cx="1299.6" cy="280.4" rx="6.2" ry="7.4" fill="#b9b3db" stroke="#eeecf6" stroke-width="0.9" stroke-opacity="0.75" fill-opacity="0.9"/>
<ellipse cx="1353.5" cy="276.8" rx="6.2" ry="6.8" fill="#b8b2da" stroke="#eeecf6" stroke-width="0.9" stroke-opacity="0.75" fill-opacity="0.9"/>
<ellipse cx="1372.7" cy="279.2" rx="4.9" ry="4.9" fill="#bda9cb" stroke="#eeecf6" stroke-width="0.9" stroke-opacity="0.75" fill-opacity="0.9"/>
<ellipse cx="1382.3" cy="270.2" rx="5.5" ry="5.5" fill="#bca8ca" stroke="#eeecf6" stroke-width="0.9" stroke-opacity="0.75" fill-opacity="0.9"/>
<ellipse cx="1384.7" cy="284.0" rx="6.8" ry="5.5" fill="#aa8eb6" stroke="#eeecf6" stroke-width="0.9" stroke-opacity="0.75" fill-opacity="0.95"/>
<ellipse cx="1396.7" cy="274.4" rx="4.9" ry="6.2" fill="#b6b0d8" stroke="#eeecf6" stroke-width="0.9" stroke-opacity="0.75" fill-opacity="0.9"/>
<ellipse cx="1437.5" cy="273.8" rx="6.2" ry="6.2" fill="#b6b0d8" stroke="#eeecf6" stroke-width="0.9" stroke-opacity="0.75" fill-opacity="0.9"/>
<ellipse cx="1429.1" cy="281.6" rx="3.6" ry="5.5" fill="#b8b2da" stroke="#eeecf6" stroke-width="0.9" stroke-opacity="0.75" fill-opacity="0.9"/>
<ellipse cx="1437.5" cy="285.2" rx="3.0" ry="4.3" fill="#b5afd7" stroke="#eeecf6" stroke-width="0.9" stroke-opacity="0.75" fill-opacity="0.9"/>
<ellipse cx="1457.9" cy="284.0" rx="3.0" ry="6.2" fill="#b6b0d8" stroke="#eeecf6" stroke-width="0.9" stroke-opacity="0.75" fill-opacity="0.9"/>
<ellipse cx="1472.3" cy="285.2" rx="4.9" ry="6.2" fill="#b9b3db" stroke="#eeecf6" stroke-width="0.9" stroke-opacity="0.75" fill-opacity="0.9"/>
<ellipse cx="1486.7" cy="287.0" rx="5.5" ry="6.2" fill="#a6a6d8" stroke="#eeecf6" stroke-width="0.9" stroke-opacity="0.75" fill-opacity="0.9"/>
<ellipse cx="1495.0" cy="282.8" rx="3.6" ry="4.9" fill="#ac90b8" stroke="#eeecf6" stroke-width="0.9" stroke-opacity="0.75" fill-opacity="0.95"/>
<ellipse cx="1332.0" cy="284.0" rx="6.8" ry="4.9" fill="#b3add5" stroke="#eeecf6" stroke-width="0.9" stroke-opacity="0.75" fill-opacity="0.9"/>
<ellipse cx="1300.8" cy="295.4" rx="6.8" ry="5.5" fill="#b4aed6" stroke="#eeecf6" stroke-width="0.9" stroke-opacity="0.75" fill-opacity="0.9"/>
<ellipse cx="1318.2" cy="294.8" rx="4.9" ry="6.8" fill="#b4aed6" stroke="#eeecf6" stroke-width="0.9" stroke-opacity="0.75" fill-opacity="0.9"/>
<ellipse cx="1330.8" cy="298.9" rx="5.5" ry="6.8" fill="#a78bb3" stroke="#eeecf6" stroke-width="0.9" stroke-opacity="0.75" fill-opacity="0.95"/>
<ellipse cx="1338.6" cy="292.4" rx="5.5" ry="4.3" fill="#bba7c9" stroke="#eeecf6" stroke-width="0.9" stroke-opacity="0.75" fill-opacity="0.9"/>
<ellipse cx="1364.3" cy="297.7" rx="3.6" ry="5.5" fill="#7478cc" stroke="#eeecf6" stroke-width="0.9" stroke-opacity="0.75" fill-opacity="0.95"/>
<ellipse cx="1363.1" cy="288.8" rx="5.5" ry="4.3" fill="#bab4dc" stroke="#eeecf6" stroke-width="0.9" stroke-opacity="0.75" fill-opacity="0.9"/>
<ellipse cx="1377.5" cy="294.8" rx="7.4" ry="6.8" fill="#b5afd7" stroke="#eeecf6" stroke-width="0.9" stroke-opacity="0.75" fill-opacity="0.9"/>
<ellipse cx="1393.1" cy="293.0" rx="6.2" ry="4.3" fill="#b9b3db" stroke="#eeecf6" stroke-width="0.9" stroke-opacity="0.75" fill-opacity="0.9"/>
<ellipse cx="1412.3" cy="291.2" rx="5.5" ry="4.9" fill="#a3a3d5" stroke="#eeecf6" stroke-width="0.9" stroke-opacity="0.75" fill-opacity="0.9"/>
<ellipse cx="1414.7" cy="303.1" rx="5.5" ry="5.5" fill="#b9b3db" stroke="#eeecf6" stroke-width="0.9" stroke-opacity="0.75" fill-opacity="0.9"/>
<ellipse cx="1395.5" cy="305.5" rx="4.9" ry="6.8" fill="#b8b2da" stroke="#eeecf6" stroke-width="0.9" stroke-opacity="0.75" fill-opacity="0.9"/>
<ellipse cx="1384.7" cy="300.7" rx="4.9" ry="5.5" fill="#b4aed6" stroke="#eeecf6" stroke-width="0.9" stroke-opacity="0.75" fill-opacity="0.9"/>
<ellipse cx="1348.7" cy="303.7" rx="6.2" ry="7.4" fill="#bab4dc" stroke="#eeecf6" stroke-width="0.9" stroke-opacity="0.75" fill-opacity="0.9"/>
<ellipse cx="1487.9" cy="299.5" rx="5.5" ry="5.5" fill="#b5afd7" stroke="#eeecf6" stroke-width="0.9" stroke-opacity="0.75" fill-opacity="0.9"/>
<ellipse cx="1430.3" cy="300.7" rx="5.5" ry="3.6" fill="#a1a1d3" stroke="#eeecf6" stroke-width="0.9" stroke-opacity="0.75" fill-opacity="0.9"/>
<ellipse cx="1297.2" cy="306.1" rx="4.3" ry="3.0" fill="#b3add5" stroke="#eeecf6" stroke-width="0.9" stroke-opacity="0.75" fill-opacity="0.9"/>
<ellipse cx="1306.8" cy="306.7" rx="4.3" ry="4.9" fill="#b4aed6" stroke="#eeecf6" stroke-width="0.9" stroke-opacity="0.75" fill-opacity="0.9"/>
<ellipse cx="1286.4" cy="312.7" rx="4.9" ry="6.2" fill="#b7b1d9" stroke="#eeecf6" stroke-width="0.9" stroke-opacity="0.75" fill-opacity="0.9"/>
<ellipse cx="1326.0" cy="316.3" rx="6.2" ry="6.2" fill="#bab4dc" stroke="#eeecf6" stroke-width="0.9" stroke-opacity="0.75" fill-opacity="0.9"/>
<ellipse cx="1342.8" cy="316.3" rx="6.8" ry="6.2" fill="#b3add5" stroke="#eeecf6" stroke-width="0.9" stroke-opacity="0.75" fill-opacity="0.9"/>
<ellipse cx="1364.3" cy="314.5" rx="6.2" ry="5.5" fill="#bda9cb" stroke="#eeecf6" stroke-width="0.9" stroke-opacity="0.75" fill-opacity="0.9"/>
<ellipse cx="1376.3" cy="319.9" rx="5.5" ry="10.6" fill="#b5afd7" stroke="#eeecf6" stroke-width="0.9" stroke-opacity="0.75" fill-opacity="0.9"/>
<ellipse cx="1393.1" cy="319.9" rx="8.1" ry="6.8" fill="#bda9cb" stroke="#eeecf6" stroke-width="0.9" stroke-opacity="0.75" fill-opacity="0.9"/>
<ellipse cx="1417.1" cy="318.7" rx="6.8" ry="6.2" fill="#b6b0d8" stroke="#eeecf6" stroke-width="0.9" stroke-opacity="0.75" fill-opacity="0.9"/>
<ellipse cx="1427.9" cy="311.5" rx="6.8" ry="8.1" fill="#b5afd7" stroke="#eeecf6" stroke-width="0.9" stroke-opacity="0.75" fill-opacity="0.9"/>
<ellipse cx="1445.9" cy="317.5" rx="4.9" ry="5.5" fill="#a68ab2" stroke="#eeecf6" stroke-width="0.9" stroke-opacity="0.75" fill-opacity="0.95"/>
<ellipse cx="1452.5" cy="313.9" rx="2.8" ry="3.6" fill="#7478cc" stroke="#eeecf6" stroke-width="0.9" stroke-opacity="0.75" fill-opacity="0.95"/>
<ellipse cx="1467.5" cy="319.9" rx="3.3" ry="4.3" fill="#a4a4d6" stroke="#eeecf6" stroke-width="0.9" stroke-opacity="0.75" fill-opacity="0.9"/>
<ellipse cx="1472.3" cy="309.1" rx="5.5" ry="8.1" fill="#b8b2da" stroke="#eeecf6" stroke-width="0.9" stroke-opacity="0.75" fill-opacity="0.9"/>
<ellipse cx="1485.5" cy="312.7" rx="7.4" ry="7.4" fill="#bab4dc" stroke="#eeecf6" stroke-width="0.9" stroke-opacity="0.75" fill-opacity="0.9"/>
<ellipse cx="1455.5" cy="306.7" rx="4.9" ry="4.3" fill="#b5afd7" stroke="#eeecf6" stroke-width="0.9" stroke-opacity="0.75" fill-opacity="0.9"/>
<ellipse cx="1359.5" cy="323.5" rx="6.2" ry="6.8" fill="#b8b2da" stroke="#eeecf6" stroke-width="0.9" stroke-opacity="0.75" fill-opacity="0.9"/>
<ellipse cx="1279.2" cy="319.9" rx="4.3" ry="4.3" fill="#b6b0d8" stroke="#eeecf6" stroke-width="0.9" stroke-opacity="0.75" fill-opacity="0.9"/>
<ellipse cx="1299.6" cy="325.9" rx="5.5" ry="6.2" fill="#b7b1d9" stroke="#eeecf6" stroke-width="0.9" stroke-opacity="0.75" fill-opacity="0.9"/>
<ellipse cx="1429.1" cy="328.3" rx="5.5" ry="4.9" fill="#b2acd4" stroke="#eeecf6" stroke-width="0.9" stroke-opacity="0.75" fill-opacity="0.9"/>
<ellipse cx="1489.1" cy="329.5" rx="6.8" ry="6.2" fill="#b9b3db" stroke="#eeecf6" stroke-width="0.9" stroke-opacity="0.75" fill-opacity="0.9"/>
<ellipse cx="1287.0" cy="331.3" rx="2.4" ry="2.4" fill="#a2a2d4" stroke="#eeecf6" stroke-width="0.9" stroke-opacity="0.75" fill-opacity="0.9"/>
<ellipse cx="1279.2" cy="336.7" rx="5.5" ry="7.4" fill="#b7b1d9" stroke="#eeecf6" stroke-width="0.9" stroke-opacity="0.75" fill-opacity="0.9"/>
<ellipse cx="1303.2" cy="337.9" rx="7.4" ry="8.1" fill="#b4aed6" stroke="#eeecf6" stroke-width="0.9" stroke-opacity="0.75" fill-opacity="0.9"/>
<ellipse cx="1316.4" cy="338.5" rx="5.5" ry="6.8" fill="#c0acce" stroke="#eeecf6" stroke-width="0.9" stroke-opacity="0.75" fill-opacity="0.9"/>
<ellipse cx="1328.4" cy="337.9" rx="6.8" ry="8.1" fill="#bab4dc" stroke="#eeecf6" stroke-width="0.9" stroke-opacity="0.75" fill-opacity="0.9"/>
<ellipse cx="1349.3" cy="340.3" rx="6.2" ry="5.5" fill="#bba7c9" stroke="#eeecf6" stroke-width="0.9" stroke-opacity="0.75" fill-opacity="0.9"/>
<ellipse cx="1372.7" cy="343.9" rx="6.8" ry="8.1" fill="#b3add5" stroke="#eeecf6" stroke-width="0.9" stroke-opacity="0.75" fill-opacity="0.9"/>
<ellipse cx="1451.9" cy="341.5" rx="5.5" ry="8.1" fill="#b6b0d8" stroke="#eeecf6" stroke-width="0.9" stroke-opacity="0.75" fill-opacity="0.9"/>
<ellipse cx="1467.5" cy="336.7" rx="2.4" ry="4.3" fill="#a1a1d3" stroke="#eeecf6" stroke-width="0.9" stroke-opacity="0.75" fill-opacity="0.9"/>
<ellipse cx="1419.5" cy="348.1" rx="6.8" ry="4.9" fill="#b8b2da" stroke="#eeecf6" stroke-width="0.9" stroke-opacity="0.75" fill-opacity="0.9"/>
<ellipse cx="1435.1" cy="349.9" rx="6.2" ry="5.5" fill="#b8b2da" stroke="#eeecf6" stroke-width="0.9" stroke-opacity="0.75" fill-opacity="0.9"/>
<ellipse cx="1340.4" cy="354.7" rx="6.2" ry="8.1" fill="#b9b3db" stroke="#eeecf6" stroke-width="0.9" stroke-opacity="0.75" fill-opacity="0.9"/>
<ellipse cx="1311.6" cy="357.1" rx="7.4" ry="7.4" fill="#b8b2da" stroke="#eeecf6" stroke-width="0.9" stroke-opacity="0.75" fill-opacity="0.9"/>
<ellipse cx="1448.3" cy="355.9" rx="5.5" ry="6.2" fill="#b6b0d8" stroke="#eeecf6" stroke-width="0.9" stroke-opacity="0.75" fill-opacity="0.9"/>
<ellipse cx="1475.9" cy="352.3" rx="5.5" ry="5.5" fill="#b2acd4" stroke="#eeecf6" stroke-width="0.9" stroke-opacity="0.75" fill-opacity="0.9"/>
<ellipse cx="1491.5" cy="347.5" rx="5.5" ry="5.5" fill="#b4aed6" stroke="#eeecf6" stroke-width="0.9" stroke-opacity="0.75" fill-opacity="0.9"/>
<ellipse cx="1396.7" cy="354.7" rx="4.3" ry="4.9" fill="#b2acd4" stroke="#eeecf6" stroke-width="0.9" stroke-opacity="0.75" fill-opacity="0.9"/>
<ellipse cx="1363.1" cy="361.9" rx="7.4" ry="6.2" fill="#b8b2da" stroke="#eeecf6" stroke-width="0.9" stroke-opacity="0.75" fill-opacity="0.9"/>
<ellipse cx="1419.5" cy="361.9" rx="8.7" ry="9.3" fill="#b9b3db" stroke="#eeecf6" stroke-width="0.9" stroke-opacity="0.75" fill-opacity="0.9"/>
<ellipse cx="1485.5" cy="363.1" rx="5.5" ry="7.4" fill="#b9b3db" stroke="#eeecf6" stroke-width="0.9" stroke-opacity="0.75" fill-opacity="0.9"/>
<ellipse cx="1495.0" cy="355.9" rx="3.6" ry="5.5" fill="#b2acd4" stroke="#eeecf6" stroke-width="0.9" stroke-opacity="0.75" fill-opacity="0.9"/>
<ellipse cx="1291.2" cy="367.3" rx="3.6" ry="3.0" fill="#9f9fd1" stroke="#eeecf6" stroke-width="0.9" stroke-opacity="0.75" fill-opacity="0.9"/>
<ellipse cx="1382.3" cy="367.9" rx="5.5" ry="4.3" fill="#b8b2da" stroke="#eeecf6" stroke-width="0.9" stroke-opacity="0.75" fill-opacity="0.9"/>
<ellipse cx="1402.7" cy="366.7" rx="6.8" ry="3.0" fill="#bab4dc" stroke="#eeecf6" stroke-width="0.9" stroke-opacity="0.75" fill-opacity="0.9"/>
<ellipse cx="1430.3" cy="367.9" rx="4.3" ry="5.5" fill="#bfabcd" stroke="#eeecf6" stroke-width="0.9" stroke-opacity="0.75" fill-opacity="0.9"/>
<ellipse cx="1444.7" cy="365.5" rx="5.5" ry="5.5" fill="#b9b3db" stroke="#eeecf6" stroke-width="0.9" stroke-opacity="0.75" fill-opacity="0.9"/>
<ellipse cx="1466.3" cy="366.7" rx="6.2" ry="4.3" fill="#b5afd7" stroke="#eeecf6" stroke-width="0.9" stroke-opacity="0.75" fill-opacity="0.9"/>
<ellipse cx="1341.6" cy="377.5" rx="6.2" ry="8.7" fill="#b3add5" stroke="#eeecf6" stroke-width="0.9" stroke-opacity="0.75" fill-opacity="0.9"/>
<ellipse cx="1352.3" cy="373.9" rx="4.9" ry="4.3" fill="#b5afd7" stroke="#eeecf6" stroke-width="0.9" stroke-opacity="0.75" fill-opacity="0.9"/>
<ellipse cx="1427.9" cy="376.3" rx="3.6" ry="4.3" fill="#b4aed6" stroke="#eeecf6" stroke-width="0.9" stroke-opacity="0.75" fill-opacity="0.9"/>
<ellipse cx="1455.5" cy="376.3" rx="6.2" ry="6.2" fill="#b4aed6" stroke="#eeecf6" stroke-width="0.9" stroke-opacity="0.75" fill-opacity="0.9"/>
<ellipse cx="1490.3" cy="378.7" rx="8.1" ry="6.8" fill="#bab4dc" stroke="#eeecf6" stroke-width="0.9" stroke-opacity="0.75" fill-opacity="0.9"/>
<ellipse cx="1298.4" cy="382.3" rx="8.1" ry="6.2" fill="#b3add5" stroke="#eeecf6" stroke-width="0.9" stroke-opacity="0.75" fill-opacity="0.9"/>
<ellipse cx="1320.0" cy="385.9" rx="5.5" ry="4.9" fill="#b9b3db" stroke="#eeecf6" stroke-width="0.9" stroke-opacity="0.75" fill-opacity="0.9"/>
<ellipse cx="1359.5" cy="383.5" rx="6.2" ry="6.2" fill="#b9a5c7" stroke="#eeecf6" stroke-width="0.9" stroke-opacity="0.75" fill-opacity="0.9"/>
<ellipse cx="1375.1" cy="384.7" rx="4.9" ry="5.5" fill="#bab4dc" stroke="#eeecf6" stroke-width="0.9" stroke-opacity="0.75" fill-opacity="0.9"/>
<ellipse cx="1388.3" cy="384.7" rx="6.8" ry="7.4" fill="#b2acd4" stroke="#eeecf6" stroke-width="0.9" stroke-opacity="0.75" fill-opacity="0.9"/>
<ellipse cx="1400.3" cy="383.5" rx="5.5" ry="5.5" fill="#b2acd4" stroke="#eeecf6" stroke-width="0.9" stroke-opacity="0.75" fill-opacity="0.9"/>
<ellipse cx="1421.9" cy="385.9" rx="2.4" ry="4.9" fill="#7478cc" stroke="#eeecf6" stroke-width="0.9" stroke-opacity="0.75" fill-opacity="0.95"/>
<ellipse cx="1466.3" cy="384.7" rx="6.8" ry="5.5" fill="#b5afd7" stroke="#eeecf6" stroke-width="0.9" stroke-opacity="0.75" fill-opacity="0.9"/>
<ellipse cx="1448.3" cy="390.7" rx="5.5" ry="4.3" fill="#b2acd4" stroke="#eeecf6" stroke-width="0.9" stroke-opacity="0.75" fill-opacity="0.9"/>
<ellipse cx="1280.4" cy="390.7" rx="4.9" ry="4.3" fill="#b6b0d8" stroke="#eeecf6" stroke-width="0.9" stroke-opacity="0.75" fill-opacity="0.9"/>
<ellipse cx="1407.5" cy="391.9" rx="4.3" ry="3.0" fill="#baa6c8" stroke="#eeecf6" stroke-width="0.9" stroke-opacity="0.75" fill-opacity="0.9"/>
</g></g>
<g clip-path="url(#c4)" filter="url(#nb)"><ellipse cx="1281.6" cy="281.6" rx="6.5" ry="8.5" fill="none" stroke="#a6a4d4" stroke-width="1.6"/></g>
<rect x="1059" y="70.7" width="68.3" height="7.1" fill="#000"/>
<text x="1000.5" y="133.4" text-anchor="middle" stroke="#000" stroke-width="0.32" transform="rotate(-90 1000.5 133.4)">(EWSR1)-</text>
<text x="1035.0" y="135.0" text-anchor="middle" stroke="#000" stroke-width="0.32" transform="rotate(-90 1035.0 135.0)">FLI1</text>
<text x="1035.0" y="317.3" text-anchor="middle" stroke="#000" stroke-width="0.32" transform="rotate(-90 1035.0 317.3)">SOX6</text>
<text x="1160.6" y="427.1" text-anchor="middle" stroke="#000" stroke-width="0.32">Dox (–)</text>
<text x="1382.6" y="427.1" text-anchor="middle" stroke="#000" stroke-width="0.32">Dox (+)</text>
</g>
<g id="panel-d">
<text x="0.0" y="651.5" font-size="40.5" stroke="#000" stroke-width="0.32" font-weight="bold">d</text>
<text x="84.5" y="669.0" font-size="29.24" stroke="#000" stroke-width="0.32"><tspan font-style="italic" font-size="28.3">SOX6</tspan> chr11:15,987,995-16,497,935 (hg19)</text>
<defs><filter id="gb" x="-2%" y="-20%" width="104%" height="140%"><feGaussianBlur stdDeviation="0.5"/></filter></defs>
<text x="0.0" y="699.1" font-size="16.2" fill="#16166e" stroke="#16166e" stroke-width="0.2">SOX6</text>
<text x="0.0" y="722.8" font-size="16.2" fill="#16166e" stroke="#16166e" stroke-width="0.2">SOX6</text>
<text x="0.0" y="746.6" font-size="16.2" fill="#16166e" stroke="#16166e" stroke-width="0.2">SOX6</text>
<text x="0.0" y="770.4" font-size="16.2" fill="#16166e" stroke="#16166e" stroke-width="0.2">SOX6</text>
<g filter="url(#gb)">
<line x1="52" y1="693.4" x2="675.9" y2="693.4" stroke="#9a9aee" stroke-width="6.5" opacity="0.28"/>
<line x1="50" y1="693.4" x2="675.9" y2="693.4" stroke="#14147c" stroke-width="2"/>
<path d="M64.6 690.1L61.2 693.4L64.6 696.7M73.3 690.1L69.9 693.4L73.3 696.7M82.0 690.1L78.6 693.4L82.0 696.7M90.8 690.1L87.4 693.4L90.8 696.7M99.5 690.1L96.1 693.4L99.5 696.7M108.2 690.1L104.8 693.4L108.2 696.7M116.9 690.1L113.5 693.4L116.9 696.7M125.6 690.1L122.2 693.4L125.6 696.7M134.4 690.1L131.0 693.4L134.4 696.7M143.1 690.1L139.7 693.4L143.1 696.7M151.8 690.1L148.4 693.4L151.8 696.7M160.5 690.1L157.1 693.4L160.5 696.7M169.2 690.1L165.8 693.4L169.2 696.7M178.0 690.1L174.6 693.4L178.0 696.7M186.7 690.1L183.3 693.4L186.7 696.7M195.4 690.1L192.0 693.4L195.4 696.7M204.1 690.1L200.7 693.4L204.1 696.7M212.8 690.1L209.4 693.4L212.8 696.7M221.6 690.1L218.2 693.4L221.6 696.7M230.3 690.1L226.9 693.4L230.3 696.7M239.0 690.1L235.6 693.4L239.0 696.7M247.7 690.1L244.3 693.4L247.7 696.7M256.4 690.1L253.0 693.4L256.4 696.7M265.2 690.1L261.8 693.4L265.2 696.7M273.9 690.1L270.5 693.4L273.9 696.7M282.6 690.1L279.2 693.4L282.6 696.7M291.3 690.1L287.9 693.4L291.3 696.7M300.0 690.1L296.6 693.4L300.0 696.7M308.8 690.1L305.4 693.4L308.8 696.7M317.5 690.1L314.1 693.4L317.5 696.7M326.2 690.1L322.8 693.4L326.2 696.7M334.9 690.1L331.5 693.4L334.9 696.7M343.6 690.1L340.2 693.4L343.6 696.7M352.4 690.1L349.0 693.4L352.4 696.7M361.1 690.1L357.7 693.4L361.1 696.7M369.8 690.1L366.4 693.4L369.8 696.7M378.5 690.1L375.1 693.4L378.5 696.7M387.2 690.1L383.8 693.4L387.2 696.7M396.0 690.1L392.6 693.4L396.0 696.7M404.7 690.1L401.3 693.4L404.7 696.7M413.4 690.1L410.0 693.4L413.4 696.7M422.1 690.1L418.7 693.4L422.1 696.7M430.8 690.1L427.4 693.4L430.8 696.7M439.6 690.1L436.2 693.4L439.6 696.7M448.3 690.1L444.9 693.4L448.3 696.7M457.0 690.1L453.6 693.4L457.0 696.7M465.7 690.1L462.3 693.4L465.7 696.7M474.4 690.1L471.0 693.4L474.4 696.7M483.2 690.1L479.8 693.4L483.2 696.7M491.9 690.1L488.5 693.4L491.9 696.7M500.6 690.1L497.2 693.4L500.6 696.7M509.3 690.1L505.9 693.4L509.3 696.7M518.0 690.1L514.6 693.4L518.0 696.7M526.8 690.1L523.4 693.4L526.8 696.7M535.5 690.1L532.1 693.4L535.5 696.7M544.2 690.1L540.8 693.4L544.2 696.7M552.9 690.1L549.5 693.4L552.9 696.7M561.6 690.1L558.2 693.4L561.6 696.7M570.4 690.1L567.0 693.4L570.4 696.7M579.1 690.1L575.7 693.4L579.1 696.7M587.8 690.1L584.4 693.4L587.8 696.7M596.5 690.1L593.1 693.4L596.5 696.7M605.2 690.1L601.8 693.4L605.2 696.7M614.0 690.1L610.6 693.4L614.0 696.7M622.7 690.1L619.3 693.4L622.7 696.7M631.4 690.1L628.0 693.4L631.4 696.7M640.1 690.1L636.7 693.4L640.1 696.7M648.8 690.1L645.4 693.4L648.8 696.7M657.6 690.1L654.2 693.4L657.6 696.7M666.3 690.1L662.9 693.4L666.3 696.7M675.0 690.1L671.6 693.4L675.0 696.7" stroke="#8c8cec" stroke-width="3" fill="none" opacity="0.35"/>
<path d="M64.6 690.1L61.2 693.4L64.6 696.7M73.3 690.1L69.9 693.4L73.3 696.7M82.0 690.1L78.6 693.4L82.0 696.7M90.8 690.1L87.4 693.4L90.8 696.7M99.5 690.1L96.1 693.4L99.5 696.7M108.2 690.1L104.8 693.4L108.2 696.7M116.9 690.1L113.5 693.4L116.9 696.7M125.6 690.1L122.2 693.4L125.6 696.7M134.4 690.1L131.0 693.4L134.4 696.7M143.1 690.1L139.7 693.4L143.1 696.7M151.8 690.1L148.4 693.4L151.8 696.7M160.5 690.1L157.1 693.4L160.5 696.7M169.2 690.1L165.8 693.4L169.2 696.7M178.0 690.1L174.6 693.4L178.0 696.7M186.7 690.1L183.3 693.4L186.7 696.7M195.4 690.1L192.0 693.4L195.4 696.7M204.1 690.1L200.7 693.4L204.1 696.7M212.8 690.1L209.4 693.4L212.8 696.7M221.6 690.1L218.2 693.4L221.6 696.7M230.3 690.1L226.9 693.4L230.3 696.7M239.0 690.1L235.6 693.4L239.0 696.7M247.7 690.1L244.3 693.4L247.7 696.7M256.4 690.1L253.0 693.4L256.4 696.7M265.2 690.1L261.8 693.4L265.2 696.7M273.9 690.1L270.5 693.4L273.9 696.7M282.6 690.1L279.2 693.4L282.6 696.7M291.3 690.1L287.9 693.4L291.3 696.7M300.0 690.1L296.6 693.4L300.0 696.7M308.8 690.1L305.4 693.4L308.8 696.7M317.5 690.1L314.1 693.4L317.5 696.7M326.2 690.1L322.8 693.4L326.2 696.7M334.9 690.1L331.5 693.4L334.9 696.7M343.6 690.1L340.2 693.4L343.6 696.7M352.4 690.1L349.0 693.4L352.4 696.7M361.1 690.1L357.7 693.4L361.1 696.7M369.8 690.1L366.4 693.4L369.8 696.7M378.5 690.1L375.1 693.4L378.5 696.7M387.2 690.1L383.8 693.4L387.2 696.7M396.0 690.1L392.6 693.4L396.0 696.7M404.7 690.1L401.3 693.4L404.7 696.7M413.4 690.1L410.0 693.4L413.4 696.7M422.1 690.1L418.7 693.4L422.1 696.7M430.8 690.1L427.4 693.4L430.8 696.7M439.6 690.1L436.2 693.4L439.6 696.7M448.3 690.1L444.9 693.4L448.3 696.7M457.0 690.1L453.6 693.4L457.0 696.7M465.7 690.1L462.3 693.4L465.7 696.7M474.4 690.1L471.0 693.4L474.4 696.7M483.2 690.1L479.8 693.4L483.2 696.7M491.9 690.1L488.5 693.4L491.9 696.7M500.6 690.1L497.2 693.4L500.6 696.7M509.3 690.1L505.9 693.4L509.3 696.7M518.0 690.1L514.6 693.4L518.0 696.7M526.8 690.1L523.4 693.4L526.8 696.7M535.5 690.1L532.1 693.4L535.5 696.7M544.2 690.1L540.8 693.4L544.2 696.7M552.9 690.1L549.5 693.4L552.9 696.7M561.6 690.1L558.2 693.4L561.6 696.7M570.4 690.1L567.0 693.4L570.4 696.7M579.1 690.1L575.7 693.4L579.1 696.7M587.8 690.1L584.4 693.4L587.8 696.7M596.5 690.1L593.1 693.4L596.5 696.7M605.2 690.1L601.8 693.4L605.2 696.7M614.0 690.1L610.6 693.4L614.0 696.7M622.7 690.1L619.3 693.4L622.7 696.7M631.4 690.1L628.0 693.4L631.4 696.7M640.1 690.1L636.7 693.4L640.1 696.7M648.8 690.1L645.4 693.4L648.8 696.7M657.6 690.1L654.2 693.4L657.6 696.7M666.3 690.1L662.9 693.4L666.3 696.7M675.0 690.1L671.6 693.4L675.0 696.7" stroke="#32329a" stroke-width="1.1" fill="none" opacity="0.7"/>
<rect x="49.2" y="687.8" width="7.6" height="11.2" fill="#14147c"/>
<rect x="56.2" y="682.4" width="1.4" height="22" fill="#2a2a72"/>
<rect x="71.5" y="682.2" width="2" height="22.4" fill="#2a2a76"/>
<rect x="74.8" y="682.2" width="2" height="22.4" fill="#2a2a76"/>
<rect x="106.5" y="682.2" width="2" height="22.4" fill="#2a2a76"/>
<rect x="145.3" y="682.2" width="2" height="22.4" fill="#2a2a76"/>
<rect x="150.2" y="682.2" width="2" height="22.4" fill="#2a2a76"/>
<rect x="157.5" y="682.2" width="2" height="22.4" fill="#2a2a76"/>
<rect x="206.9" y="683.8" width="3.4" height="20.4" fill="#14147c"/>
<rect x="226.0" y="682.2" width="2" height="22.4" fill="#2a2a76"/>
<rect x="314.5" y="682.2" width="2" height="22.4" fill="#2a2a76"/>
<rect x="317.6" y="682.2" width="2" height="22.4" fill="#2a2a76"/>
<rect x="377.0" y="682.2" width="2" height="22.4" fill="#2a2a76"/>
<rect x="478.9" y="682.2" width="2" height="22.4" fill="#2a2a76"/>
<rect x="507.2" y="682.2" width="2" height="22.4" fill="#2a2a76"/>
<rect x="675.1" y="686.9" width="1.6" height="13.0" fill="#2c2c78"/>
<line x1="52" y1="717.1" x2="584" y2="717.1" stroke="#9a9aee" stroke-width="6.5" opacity="0.28"/>
<line x1="50" y1="717.1" x2="584" y2="717.1" stroke="#14147c" stroke-width="2"/>
<path d="M64.6 713.8L61.2 717.1L64.6 720.4M73.3 713.8L69.9 717.1L73.3 720.4M82.0 713.8L78.6 717.1L82.0 720.4M90.8 713.8L87.4 717.1L90.8 720.4M99.5 713.8L96.1 717.1L99.5 720.4M108.2 713.8L104.8 717.1L108.2 720.4M116.9 713.8L113.5 717.1L116.9 720.4M125.6 713.8L122.2 717.1L125.6 720.4M134.4 713.8L131.0 717.1L134.4 720.4M143.1 713.8L139.7 717.1L143.1 720.4M151.8 713.8L148.4 717.1L151.8 720.4M160.5 713.8L157.1 717.1L160.5 720.4M169.2 713.8L165.8 717.1L169.2 720.4M178.0 713.8L174.6 717.1L178.0 720.4M186.7 713.8L183.3 717.1L186.7 720.4M195.4 713.8L192.0 717.1L195.4 720.4M204.1 713.8L200.7 717.1L204.1 720.4M212.8 713.8L209.4 717.1L212.8 720.4M221.6 713.8L218.2 717.1L221.6 720.4M230.3 713.8L226.9 717.1L230.3 720.4M239.0 713.8L235.6 717.1L239.0 720.4M247.7 713.8L244.3 717.1L247.7 720.4M256.4 713.8L253.0 717.1L256.4 720.4M265.2 713.8L261.8 717.1L265.2 720.4M273.9 713.8L270.5 717.1L273.9 720.4M282.6 713.8L279.2 717.1L282.6 720.4M291.3 713.8L287.9 717.1L291.3 720.4M300.0 713.8L296.6 717.1L300.0 720.4M308.8 713.8L305.4 717.1L308.8 720.4M317.5 713.8L314.1 717.1L317.5 720.4M326.2 713.8L322.8 717.1L326.2 720.4M334.9 713.8L331.5 717.1L334.9 720.4M343.6 713.8L340.2 717.1L343.6 720.4M352.4 713.8L349.0 717.1L352.4 720.4M361.1 713.8L357.7 717.1L361.1 720.4M369.8 713.8L366.4 717.1L369.8 720.4M378.5 713.8L375.1 717.1L378.5 720.4M387.2 713.8L383.8 717.1L387.2 720.4M396.0 713.8L392.6 717.1L396.0 720.4M404.7 713.8L401.3 717.1L404.7 720.4M413.4 713.8L410.0 717.1L413.4 720.4M422.1 713.8L418.7 717.1L422.1 720.4M430.8 713.8L427.4 717.1L430.8 720.4M439.6 713.8L436.2 717.1L439.6 720.4M448.3 713.8L444.9 717.1L448.3 720.4M457.0 713.8L453.6 717.1L457.0 720.4M465.7 713.8L462.3 717.1L465.7 720.4M474.4 713.8L471.0 717.1L474.4 720.4M483.2 713.8L479.8 717.1L483.2 720.4M491.9 713.8L488.5 717.1L491.9 720.4M500.6 713.8L497.2 717.1L500.6 720.4M509.3 713.8L505.9 717.1L509.3 720.4M518.0 713.8L514.6 717.1L518.0 720.4M526.8 713.8L523.4 717.1L526.8 720.4M535.5 713.8L532.1 717.1L535.5 720.4M544.2 713.8L540.8 717.1L544.2 720.4M552.9 713.8L549.5 717.1L552.9 720.4M561.6 713.8L558.2 717.1L561.6 720.4M570.4 713.8L567.0 717.1L570.4 720.4M579.1 713.8L575.7 717.1L579.1 720.4" stroke="#8c8cec" stroke-width="3" fill="none" opacity="0.35"/>
<path d="M64.6 713.8L61.2 717.1L64.6 720.4M73.3 713.8L69.9 717.1L73.3 720.4M82.0 713.8L78.6 717.1L82.0 720.4M90.8 713.8L87.4 717.1L90.8 720.4M99.5 713.8L96.1 717.1L99.5 720.4M108.2 713.8L104.8 717.1L108.2 720.4M116.9 713.8L113.5 717.1L116.9 720.4M125.6 713.8L122.2 717.1L125.6 720.4M134.4 713.8L131.0 717.1L134.4 720.4M143.1 713.8L139.7 717.1L143.1 720.4M151.8 713.8L148.4 717.1L151.8 720.4M160.5 713.8L157.1 717.1L160.5 720.4M169.2 713.8L165.8 717.1L169.2 720.4M178.0 713.8L174.6 717.1L178.0 720.4M186.7 713.8L183.3 717.1L186.7 720.4M195.4 713.8L192.0 717.1L195.4 720.4M204.1 713.8L200.7 717.1L204.1 720.4M212.8 713.8L209.4 717.1L212.8 720.4M221.6 713.8L218.2 717.1L221.6 720.4M230.3 713.8L226.9 717.1L230.3 720.4M239.0 713.8L235.6 717.1L239.0 720.4M247.7 713.8L244.3 717.1L247.7 720.4M256.4 713.8L253.0 717.1L256.4 720.4M265.2 713.8L261.8 717.1L265.2 720.4M273.9 713.8L270.5 717.1L273.9 720.4M282.6 713.8L279.2 717.1L282.6 720.4M291.3 713.8L287.9 717.1L291.3 720.4M300.0 713.8L296.6 717.1L300.0 720.4M308.8 713.8L305.4 717.1L308.8 720.4M317.5 713.8L314.1 717.1L317.5 720.4M326.2 713.8L322.8 717.1L326.2 720.4M334.9 713.8L331.5 717.1L334.9 720.4M343.6 713.8L340.2 717.1L343.6 720.4M352.4 713.8L349.0 717.1L352.4 720.4M361.1 713.8L357.7 717.1L361.1 720.4M369.8 713.8L366.4 717.1L369.8 720.4M378.5 713.8L375.1 717.1L378.5 720.4M387.2 713.8L383.8 717.1L387.2 720.4M396.0 713.8L392.6 717.1L396.0 720.4M404.7 713.8L401.3 717.1L404.7 720.4M413.4 713.8L410.0 717.1L413.4 720.4M422.1 713.8L418.7 717.1L422.1 720.4M430.8 713.8L427.4 717.1L430.8 720.4M439.6 713.8L436.2 717.1L439.6 720.4M448.3 713.8L444.9 717.1L448.3 720.4M457.0 713.8L453.6 717.1L457.0 720.4M465.7 713.8L462.3 717.1L465.7 720.4M474.4 713.8L471.0 717.1L474.4 720.4M483.2 713.8L479.8 717.1L483.2 720.4M491.9 713.8L488.5 717.1L491.9 720.4M500.6 713.8L497.2 717.1L500.6 720.4M509.3 713.8L505.9 717.1L509.3 720.4M518.0 713.8L514.6 717.1L518.0 720.4M526.8 713.8L523.4 717.1L526.8 720.4M535.5 713.8L532.1 717.1L535.5 720.4M544.2 713.8L540.8 717.1L544.2 720.4M552.9 713.8L549.5 717.1L552.9 720.4M561.6 713.8L558.2 717.1L561.6 720.4M570.4 713.8L567.0 717.1L570.4 720.4M579.1 713.8L575.7 717.1L579.1 720.4" stroke="#32329a" stroke-width="1.1" fill="none" opacity="0.7"/>
<rect x="49.2" y="711.5" width="7.6" height="11.2" fill="#14147c"/>
<rect x="56.2" y="706.1" width="1.4" height="22" fill="#2a2a72"/>
<rect x="71.5" y="705.9" width="2" height="22.4" fill="#2a2a76"/>
<rect x="74.8" y="705.9" width="2" height="22.4" fill="#2a2a76"/>
<rect x="106.5" y="705.9" width="2" height="22.4" fill="#2a2a76"/>
<rect x="145.3" y="705.9" width="2" height="22.4" fill="#2a2a76"/>
<rect x="150.2" y="705.9" width="2" height="22.4" fill="#2a2a76"/>
<rect x="157.5" y="705.9" width="2" height="22.4" fill="#2a2a76"/>
<rect x="206.9" y="707.5" width="3.4" height="20.4" fill="#14147c"/>
<rect x="226.0" y="705.9" width="2" height="22.4" fill="#2a2a76"/>
<rect x="314.5" y="705.9" width="2" height="22.4" fill="#2a2a76"/>
<rect x="317.6" y="705.9" width="2" height="22.4" fill="#2a2a76"/>
<rect x="377.0" y="705.9" width="2" height="22.4" fill="#2a2a76"/>
<rect x="478.9" y="705.9" width="2" height="22.4" fill="#2a2a76"/>
<rect x="507.2" y="705.9" width="2" height="22.4" fill="#2a2a76"/>
<rect x="583.2" y="706.6" width="1.6" height="21.0" fill="#2c2c78"/>
<line x1="52" y1="740.9" x2="584" y2="740.9" stroke="#9a9aee" stroke-width="6.5" opacity="0.28"/>
<line x1="50" y1="740.9" x2="584" y2="740.9" stroke="#14147c" stroke-width="2"/>
<path d="M64.6 737.6L61.2 740.9L64.6 744.2M73.3 737.6L69.9 740.9L73.3 744.2M82.0 737.6L78.6 740.9L82.0 744.2M90.8 737.6L87.4 740.9L90.8 744.2M99.5 737.6L96.1 740.9L99.5 744.2M108.2 737.6L104.8 740.9L108.2 744.2M116.9 737.6L113.5 740.9L116.9 744.2M125.6 737.6L122.2 740.9L125.6 744.2M134.4 737.6L131.0 740.9L134.4 744.2M143.1 737.6L139.7 740.9L143.1 744.2M151.8 737.6L148.4 740.9L151.8 744.2M160.5 737.6L157.1 740.9L160.5 744.2M169.2 737.6L165.8 740.9L169.2 744.2M178.0 737.6L174.6 740.9L178.0 744.2M186.7 737.6L183.3 740.9L186.7 744.2M195.4 737.6L192.0 740.9L195.4 744.2M204.1 737.6L200.7 740.9L204.1 744.2M212.8 737.6L209.4 740.9L212.8 744.2M221.6 737.6L218.2 740.9L221.6 744.2M230.3 737.6L226.9 740.9L230.3 744.2M239.0 737.6L235.6 740.9L239.0 744.2M247.7 737.6L244.3 740.9L247.7 744.2M256.4 737.6L253.0 740.9L256.4 744.2M265.2 737.6L261.8 740.9L265.2 744.2M273.9 737.6L270.5 740.9L273.9 744.2M282.6 737.6L279.2 740.9L282.6 744.2M291.3 737.6L287.9 740.9L291.3 744.2M300.0 737.6L296.6 740.9L300.0 744.2M308.8 737.6L305.4 740.9L308.8 744.2M317.5 737.6L314.1 740.9L317.5 744.2M326.2 737.6L322.8 740.9L326.2 744.2M334.9 737.6L331.5 740.9L334.9 744.2M343.6 737.6L340.2 740.9L343.6 744.2M352.4 737.6L349.0 740.9L352.4 744.2M361.1 737.6L357.7 740.9L361.1 744.2M369.8 737.6L366.4 740.9L369.8 744.2M378.5 737.6L375.1 740.9L378.5 744.2M387.2 737.6L383.8 740.9L387.2 744.2M396.0 737.6L392.6 740.9L396.0 744.2M404.7 737.6L401.3 740.9L404.7 744.2M413.4 737.6L410.0 740.9L413.4 744.2M422.1 737.6L418.7 740.9L422.1 744.2M430.8 737.6L427.4 740.9L430.8 744.2M439.6 737.6L436.2 740.9L439.6 744.2M448.3 737.6L444.9 740.9L448.3 744.2M457.0 737.6L453.6 740.9L457.0 744.2M465.7 737.6L462.3 740.9L465.7 744.2M474.4 737.6L471.0 740.9L474.4 744.2M483.2 737.6L479.8 740.9L483.2 744.2M491.9 737.6L488.5 740.9L491.9 744.2M500.6 737.6L497.2 740.9L500.6 744.2M509.3 737.6L505.9 740.9L509.3 744.2M518.0 737.6L514.6 740.9L518.0 744.2M526.8 737.6L523.4 740.9L526.8 744.2M535.5 737.6L532.1 740.9L535.5 744.2M544.2 737.6L540.8 740.9L544.2 744.2M552.9 737.6L549.5 740.9L552.9 744.2M561.6 737.6L558.2 740.9L561.6 744.2M570.4 737.6L567.0 740.9L570.4 744.2M579.1 737.6L575.7 740.9L579.1 744.2" stroke="#8c8cec" stroke-width="3" fill="none" opacity="0.35"/>
<path d="M64.6 737.6L61.2 740.9L64.6 744.2M73.3 737.6L69.9 740.9L73.3 744.2M82.0 737.6L78.6 740.9L82.0 744.2M90.8 737.6L87.4 740.9L90.8 744.2M99.5 737.6L96.1 740.9L99.5 744.2M108.2 737.6L104.8 740.9L108.2 744.2M116.9 737.6L113.5 740.9L116.9 744.2M125.6 737.6L122.2 740.9L125.6 744.2M134.4 737.6L131.0 740.9L134.4 744.2M143.1 737.6L139.7 740.9L143.1 744.2M151.8 737.6L148.4 740.9L151.8 744.2M160.5 737.6L157.1 740.9L160.5 744.2M169.2 737.6L165.8 740.9L169.2 744.2M178.0 737.6L174.6 740.9L178.0 744.2M186.7 737.6L183.3 740.9L186.7 744.2M195.4 737.6L192.0 740.9L195.4 744.2M204.1 737.6L200.7 740.9L204.1 744.2M212.8 737.6L209.4 740.9L212.8 744.2M221.6 737.6L218.2 740.9L221.6 744.2M230.3 737.6L226.9 740.9L230.3 744.2M239.0 737.6L235.6 740.9L239.0 744.2M247.7 737.6L244.3 740.9L247.7 744.2M256.4 737.6L253.0 740.9L256.4 744.2M265.2 737.6L261.8 740.9L265.2 744.2M273.9 737.6L270.5 740.9L273.9 744.2M282.6 737.6L279.2 740.9L282.6 744.2M291.3 737.6L287.9 740.9L291.3 744.2M300.0 737.6L296.6 740.9L300.0 744.2M308.8 737.6L305.4 740.9L308.8 744.2M317.5 737.6L314.1 740.9L317.5 744.2M326.2 737.6L322.8 740.9L326.2 744.2M334.9 737.6L331.5 740.9L334.9 744.2M343.6 737.6L340.2 740.9L343.6 744.2M352.4 737.6L349.0 740.9L352.4 744.2M361.1 737.6L357.7 740.9L361.1 744.2M369.8 737.6L366.4 740.9L369.8 744.2M378.5 737.6L375.1 740.9L378.5 744.2M387.2 737.6L383.8 740.9L387.2 744.2M396.0 737.6L392.6 740.9L396.0 744.2M404.7 737.6L401.3 740.9L404.7 744.2M413.4 737.6L410.0 740.9L413.4 744.2M422.1 737.6L418.7 740.9L422.1 744.2M430.8 737.6L427.4 740.9L430.8 744.2M439.6 737.6L436.2 740.9L439.6 744.2M448.3 737.6L444.9 740.9L448.3 744.2M457.0 737.6L453.6 740.9L457.0 744.2M465.7 737.6L462.3 740.9L465.7 744.2M474.4 737.6L471.0 740.9L474.4 744.2M483.2 737.6L479.8 740.9L483.2 744.2M491.9 737.6L488.5 740.9L491.9 744.2M500.6 737.6L497.2 740.9L500.6 744.2M509.3 737.6L505.9 740.9L509.3 744.2M518.0 737.6L514.6 740.9L518.0 744.2M526.8 737.6L523.4 740.9L526.8 744.2M535.5 737.6L532.1 740.9L535.5 744.2M544.2 737.6L540.8 740.9L544.2 744.2M552.9 737.6L549.5 740.9L552.9 744.2M561.6 737.6L558.2 740.9L561.6 744.2M570.4 737.6L567.0 740.9L570.4 744.2M579.1 737.6L575.7 740.9L579.1 744.2" stroke="#32329a" stroke-width="1.1" fill="none" opacity="0.7"/>
<rect x="49.2" y="735.3" width="7.6" height="11.2" fill="#14147c"/>
<rect x="56.2" y="729.9" width="1.4" height="22" fill="#2a2a72"/>
<rect x="71.5" y="729.7" width="2" height="22.4" fill="#2a2a76"/>
<rect x="74.8" y="729.7" width="2" height="22.4" fill="#2a2a76"/>
<rect x="106.5" y="729.7" width="2" height="22.4" fill="#2a2a76"/>
<rect x="145.3" y="729.7" width="2" height="22.4" fill="#2a2a76"/>
<rect x="150.2" y="729.7" width="2" height="22.4" fill="#2a2a76"/>
<rect x="157.5" y="729.7" width="2" height="22.4" fill="#2a2a76"/>
<rect x="207.6" y="729.7" width="2" height="22.4" fill="#2a2a76"/>
<rect x="226.0" y="729.7" width="2" height="22.4" fill="#2a2a76"/>
<rect x="314.5" y="729.7" width="2" height="22.4" fill="#2a2a76"/>
<rect x="317.6" y="729.7" width="2" height="22.4" fill="#2a2a76"/>
<rect x="377.0" y="729.7" width="2" height="22.4" fill="#2a2a76"/>
<rect x="478.9" y="729.7" width="2" height="22.4" fill="#2a2a76"/>
<rect x="507.2" y="729.7" width="2" height="22.4" fill="#2a2a76"/>
<rect x="583.2" y="730.4" width="1.6" height="21.0" fill="#2c2c78"/>
<line x1="52" y1="764.7" x2="591.3" y2="764.7" stroke="#9a9aee" stroke-width="6.5" opacity="0.28"/>
<line x1="50" y1="764.7" x2="591.3" y2="764.7" stroke="#14147c" stroke-width="2"/>
<path d="M64.6 761.4L61.2 764.7L64.6 768.0M73.3 761.4L69.9 764.7L73.3 768.0M82.0 761.4L78.6 764.7L82.0 768.0M90.8 761.4L87.4 764.7L90.8 768.0M99.5 761.4L96.1 764.7L99.5 768.0M108.2 761.4L104.8 764.7L108.2 768.0M116.9 761.4L113.5 764.7L116.9 768.0M125.6 761.4L122.2 764.7L125.6 768.0M134.4 761.4L131.0 764.7L134.4 768.0M143.1 761.4L139.7 764.7L143.1 768.0M151.8 761.4L148.4 764.7L151.8 768.0M160.5 761.4L157.1 764.7L160.5 768.0M169.2 761.4L165.8 764.7L169.2 768.0M178.0 761.4L174.6 764.7L178.0 768.0M186.7 761.4L183.3 764.7L186.7 768.0M195.4 761.4L192.0 764.7L195.4 768.0M204.1 761.4L200.7 764.7L204.1 768.0M212.8 761.4L209.4 764.7L212.8 768.0M221.6 761.4L218.2 764.7L221.6 768.0M230.3 761.4L226.9 764.7L230.3 768.0M239.0 761.4L235.6 764.7L239.0 768.0M247.7 761.4L244.3 764.7L247.7 768.0M256.4 761.4L253.0 764.7L256.4 768.0M265.2 761.4L261.8 764.7L265.2 768.0M273.9 761.4L270.5 764.7L273.9 768.0M282.6 761.4L279.2 764.7L282.6 768.0M291.3 761.4L287.9 764.7L291.3 768.0M300.0 761.4L296.6 764.7L300.0 768.0M308.8 761.4L305.4 764.7L308.8 768.0M317.5 761.4L314.1 764.7L317.5 768.0M326.2 761.4L322.8 764.7L326.2 768.0M334.9 761.4L331.5 764.7L334.9 768.0M343.6 761.4L340.2 764.7L343.6 768.0M352.4 761.4L349.0 764.7L352.4 768.0M361.1 761.4L357.7 764.7L361.1 768.0M369.8 761.4L366.4 764.7L369.8 768.0M378.5 761.4L375.1 764.7L378.5 768.0M387.2 761.4L383.8 764.7L387.2 768.0M396.0 761.4L392.6 764.7L396.0 768.0M404.7 761.4L401.3 764.7L404.7 768.0M413.4 761.4L410.0 764.7L413.4 768.0M422.1 761.4L418.7 764.7L422.1 768.0M430.8 761.4L427.4 764.7L430.8 768.0M439.6 761.4L436.2 764.7L439.6 768.0M448.3 761.4L444.9 764.7L448.3 768.0M457.0 761.4L453.6 764.7L457.0 768.0M465.7 761.4L462.3 764.7L465.7 768.0M474.4 761.4L471.0 764.7L474.4 768.0M483.2 761.4L479.8 764.7L483.2 768.0M491.9 761.4L488.5 764.7L491.9 768.0M500.6 761.4L497.2 764.7L500.6 768.0M509.3 761.4L505.9 764.7L509.3 768.0M518.0 761.4L514.6 764.7L518.0 768.0M526.8 761.4L523.4 764.7L526.8 768.0M535.5 761.4L532.1 764.7L535.5 768.0M544.2 761.4L540.8 764.7L544.2 768.0M552.9 761.4L549.5 764.7L552.9 768.0M561.6 761.4L558.2 764.7L561.6 768.0M570.4 761.4L567.0 764.7L570.4 768.0M579.1 761.4L575.7 764.7L579.1 768.0M587.8 761.4L584.4 764.7L587.8 768.0" stroke="#8c8cec" stroke-width="3" fill="none" opacity="0.35"/>
<path d="M64.6 761.4L61.2 764.7L64.6 768.0M73.3 761.4L69.9 764.7L73.3 768.0M82.0 761.4L78.6 764.7L82.0 768.0M90.8 761.4L87.4 764.7L90.8 768.0M99.5 761.4L96.1 764.7L99.5 768.0M108.2 761.4L104.8 764.7L108.2 768.0M116.9 761.4L113.5 764.7L116.9 768.0M125.6 761.4L122.2 764.7L125.6 768.0M134.4 761.4L131.0 764.7L134.4 768.0M143.1 761.4L139.7 764.7L143.1 768.0M151.8 761.4L148.4 764.7L151.8 768.0M160.5 761.4L157.1 764.7L160.5 768.0M169.2 761.4L165.8 764.7L169.2 768.0M178.0 761.4L174.6 764.7L178.0 768.0M186.7 761.4L183.3 764.7L186.7 768.0M195.4 761.4L192.0 764.7L195.4 768.0M204.1 761.4L200.7 764.7L204.1 768.0M212.8 761.4L209.4 764.7L212.8 768.0M221.6 761.4L218.2 764.7L221.6 768.0M230.3 761.4L226.9 764.7L230.3 768.0M239.0 761.4L235.6 764.7L239.0 768.0M247.7 761.4L244.3 764.7L247.7 768.0M256.4 761.4L253.0 764.7L256.4 768.0M265.2 761.4L261.8 764.7L265.2 768.0M273.9 761.4L270.5 764.7L273.9 768.0M282.6 761.4L279.2 764.7L282.6 768.0M291.3 761.4L287.9 764.7L291.3 768.0M300.0 761.4L296.6 764.7L300.0 768.0M308.8 761.4L305.4 764.7L308.8 768.0M317.5 761.4L314.1 764.7L317.5 768.0M326.2 761.4L322.8 764.7L326.2 768.0M334.9 761.4L331.5 764.7L334.9 768.0M343.6 761.4L340.2 764.7L343.6 768.0M352.4 761.4L349.0 764.7L352.4 768.0M361.1 761.4L357.7 764.7L361.1 768.0M369.8 761.4L366.4 764.7L369.8 768.0M378.5 761.4L375.1 764.7L378.5 768.0M387.2 761.4L383.8 764.7L387.2 768.0M396.0 761.4L392.6 764.7L396.0 768.0M404.7 761.4L401.3 764.7L404.7 768.0M413.4 761.4L410.0 764.7L413.4 768.0M422.1 761.4L418.7 764.7L422.1 768.0M430.8 761.4L427.4 764.7L430.8 768.0M439.6 761.4L436.2 764.7L439.6 768.0M448.3 761.4L444.9 764.7L448.3 768.0M457.0 761.4L453.6 764.7L457.0 768.0M465.7 761.4L462.3 764.7L465.7 768.0M474.4 761.4L471.0 764.7L474.4 768.0M483.2 761.4L479.8 764.7L483.2 768.0M491.9 761.4L488.5 764.7L491.9 768.0M500.6 761.4L497.2 764.7L500.6 768.0M509.3 761.4L505.9 764.7L509.3 768.0M518.0 761.4L514.6 764.7L518.0 768.0M526.8 761.4L523.4 764.7L526.8 768.0M535.5 761.4L532.1 764.7L535.5 768.0M544.2 761.4L540.8 764.7L544.2 768.0M552.9 761.4L549.5 764.7L552.9 768.0M561.6 761.4L558.2 764.7L561.6 768.0M570.4 761.4L567.0 764.7L570.4 768.0M579.1 761.4L575.7 764.7L579.1 768.0M587.8 761.4L584.4 764.7L587.8 768.0" stroke="#32329a" stroke-width="1.1" fill="none" opacity="0.7"/>
<rect x="49.2" y="759.1" width="7.6" height="11.2" fill="#14147c"/>
<rect x="56.2" y="753.7" width="1.4" height="22" fill="#2a2a72"/>
<rect x="71.5" y="753.5" width="2" height="22.4" fill="#2a2a76"/>
<rect x="74.8" y="753.5" width="2" height="22.4" fill="#2a2a76"/>
<rect x="106.5" y="753.5" width="2" height="22.4" fill="#2a2a76"/>
<rect x="145.3" y="753.5" width="2" height="22.4" fill="#2a2a76"/>
<rect x="150.2" y="753.5" width="2" height="22.4" fill="#2a2a76"/>
<rect x="157.5" y="753.5" width="2" height="22.4" fill="#2a2a76"/>
<rect x="207.6" y="753.5" width="2" height="22.4" fill="#2a2a76"/>
<rect x="226.0" y="753.5" width="2" height="22.4" fill="#2a2a76"/>
<rect x="314.5" y="753.5" width="2" height="22.4" fill="#2a2a76"/>
<rect x="317.6" y="753.5" width="2" height="22.4" fill="#2a2a76"/>
<rect x="377.0" y="753.5" width="2" height="22.4" fill="#2a2a76"/>
<rect x="478.9" y="753.5" width="2" height="22.4" fill="#2a2a76"/>
<rect x="507.2" y="753.5" width="2" height="22.4" fill="#2a2a76"/>
<rect x="590.5" y="758.2" width="1.6" height="13.0" fill="#2c2c78"/>
</g>
<line x1="547.9" y1="772.8" x2="158.1" y2="894.9" stroke="#222" stroke-width="1.1" stroke-dasharray="3.2 1.7"/>
<line x1="552.7" y1="772.8" x2="396.4" y2="897.0" stroke="#222" stroke-width="1.1" stroke-dasharray="3.2 1.7"/>
<text x="278.0" y="890.4" font-size="16.2" fill="#6a6aff" stroke="#6a6aff" stroke-width="0.2">Intron 1</text>
<text x="77.0" y="937.2" stroke="#000" stroke-width="0.32">1–90</text>
<text x="400.3" y="938.1" font-size="28.95" stroke="#000" stroke-width="0.32">DNAse I HS</text>
<line x1="155.0" y1="935.7" x2="387.0" y2="935.7" stroke="#666" stroke-width="1.0"/>
<path d="M155 935.7 L155 935.7 L160 934.9 L165 935.7 L172 934.2 L176 935.4 L181 933.9 L184 935.7 L198 935.7 L204 933.6 L208 935.4 L215 934.9 L222 935.4 L226 933.9 L231 935.7 L240 935.7 L246 933.1 L250 931.1 L252.5 922.1 L255 918.1 L257.5 915.1 L259.5 912.1 L261.5 913.6 L263 910.1 L265 906.1 L267 903.1 L269 899.1 L270.5 898.1 L272 903.1 L273.5 910.1 L275 919.1 L277 928.1 L279 933.1 L282 934.2 L286 931.1 L288.5 933.1 L291 935.4 L296 933.1 L299 930.6 L302 931.6 L305 934.2 L308 935.7 L313 933.6 L317 933.1 L320.5 931.1 L323 933.1 L326 934.9 L330 933.6 L334 934.2 L339 933.6 L343 932.6 L345 931.1 L348 933.1 L351 934.9 L356 935.7 L361 934.2 L365 935.7 L372 935.7 L378 934.9 L382 935.7 L387 935.7 L387 935.7 Z" fill="#000"/>
<text x="77.0" y="985.6" stroke="#000" stroke-width="0.32">1–40</text>
<text x="400.3" y="988.2" font-size="28.95" stroke="#000" stroke-width="0.32">EWSR1–FLI1 (shGFP)</text>
<line x1="155.0" y1="985.9" x2="387.0" y2="985.9" stroke="#666" stroke-width="1.0"/>
<line x1="155" y1="986.6" x2="387" y2="986.6" stroke="#d418d4" stroke-width="1.1" stroke-dasharray="6 8" stroke-dashoffset="3" opacity="0.8"/>
<path d="M155 985.9 L155 986.3 L160 984.4 L165 985.1 L168 986.3 L200 986.3 L204 983.8 L207 985.9 L215 985.9 L218 984.4 L222 985.1 L227 983.3 L230 985.1 L234 986.3 L245 986.3 L250 983.8 L253 981.3 L255 979.3 L257 982.3 L259 983.3 L261 980.3 L262.5 972.3 L263.5 964.3 L264.5 954.3 L265.5 944.3 L266.3 940.8 L267 944.3 L268 954.3 L269 964.3 L270 974.3 L271.5 980.3 L273 983.8 L275 986.3 L280 986.3 L283 984.4 L286 985.9 L289 983.8 L292 985.9 L300 986.3 L310 986.3 L315 985.1 L319 984.4 L321 982.8 L323 981.8 L325 983.3 L327 985.9 L335 985.9 L338 983.3 L341 985.1 L345 986.3 L365 986.3 L370 984.4 L375 985.1 L379 984.4 L381.5 981.8 L384 983.3 L387 985.9 L387 985.9 Z" fill="#000"/>
<text x="77.0" y="1036.3" stroke="#000" stroke-width="0.32">1–40</text>
<text x="400.3" y="1036.3" font-size="28.95" stroke="#000" stroke-width="0.32">EWSR1–FLI1 (shEF1)</text>
<line x1="155.0" y1="1036.7" x2="387.0" y2="1036.7" stroke="#666" stroke-width="1.0"/>
<line x1="155" y1="1037.4" x2="387" y2="1037.4" stroke="#d418d4" stroke-width="1.1" stroke-dasharray="6 8" stroke-dashoffset="6" opacity="0.8"/>
<path d="M155 1036.7 L155 1037.1 L165 1036.7 L175 1037.1 L185 1036.7 L190 1035.2 L193 1034.1 L195 1033.1 L198 1035.2 L200 1037.1 L210 1036.7 L215 1035.9 L220 1037.1 L227 1036.7 L232 1035.9 L237 1035.2 L240 1037.1 L246 1036.7 L250 1037.1 L296 1037.1 L298 1035.2 L301 1037.1 L310 1037.1 L320 1036.7 L325 1037.1 L360 1037.1 L366 1036.7 L370 1034.6 L373 1033.1 L376 1034.6 L379 1036.7 L387 1037.1 L387 1036.7 Z" fill="#000"/>
<text x="77.0" y="1086.6" stroke="#000" stroke-width="0.32">1–40</text>
<text x="400.3" y="1086.4" font-size="28.95" stroke="#000" stroke-width="0.32">H3K27ac (shGFP)</text>
<line x1="155.0" y1="1087.4" x2="387.0" y2="1087.4" stroke="#666" stroke-width="1.0"/>
<line x1="155" y1="1088.1000000000001" x2="387" y2="1088.1000000000001" stroke="#d418d4" stroke-width="1.1" stroke-dasharray="6 8" stroke-dashoffset="9" opacity="0.8"/>
<path d="M155 1087.4 L155 1087.8 L170 1087.4 L175 1085.9 L180 1085.3 L185 1085.9 L190 1087.4 L195 1087.7 L200 1085.9 L204 1084.8 L207 1084.3 L210 1085.9 L213 1087.7 L220 1087.4 L222 1084.8 L224 1083.8 L226 1085.9 L230 1087.7 L234 1087.7 L237 1083.8 L239 1080.3 L241 1078.3 L243 1077.3 L244.5 1075.8 L246 1077.8 L248 1076.8 L250 1074.8 L251.5 1070.8 L253 1063.8 L254.5 1059.8 L255.5 1061.8 L256.5 1060.8 L258 1063.8 L259.5 1067.8 L260.5 1071.8 L262 1077.8 L263.5 1080.8 L265 1081.8 L267 1080.8 L268.5 1077.8 L270 1069.8 L271.5 1061.8 L273 1055.8 L274.3 1052.8 L275.5 1056.8 L277 1062.8 L278.5 1064.8 L280 1062.8 L281.5 1060.8 L283 1063.8 L285 1067.8 L287 1070.8 L289 1073.8 L291 1075.8 L293 1074.3 L295 1075.8 L296.5 1078.8 L298 1082.8 L300 1084.8 L303 1086.6 L306 1087.7 L310 1087.4 L314 1084.8 L316 1082.8 L318 1081.3 L321 1080.8 L324 1081.3 L327 1080.3 L329 1081.3 L331 1083.3 L333 1084.8 L336 1085.9 L340 1086.6 L344 1085.9 L347 1084.8 L350 1087.4 L355 1087.7 L365 1087.7 L368 1085.9 L371 1084.8 L374 1087.4 L378 1085.9 L381 1085.3 L384 1087.4 L387 1087.4 L387 1087.4 Z" fill="#000"/>
<text x="77.0" y="1135.0" stroke="#000" stroke-width="0.32">1–40</text>
<text x="400.3" y="1134.9" font-size="28.95" stroke="#000" stroke-width="0.32">H3K27ac (shEF1)</text>
<line x1="155.0" y1="1137.8" x2="387.0" y2="1137.8" stroke="#666" stroke-width="1.0"/>
<line x1="155" y1="1138.5" x2="387" y2="1138.5" stroke="#d418d4" stroke-width="1.1" stroke-dasharray="6 8" stroke-dashoffset="12" opacity="0.8"/>
<path d="M155 1137.8 L155 1138.2 L170 1138.2 L210 1138.2 L214 1136.3 L217 1135.2 L220 1137.8 L225 1138.2 L250 1138.2 L254 1136.3 L257 1134.7 L259 1133.7 L262 1136.3 L265 1137.8 L269 1137.0 L272 1135.2 L275 1133.7 L278 1134.2 L281 1133.2 L284 1135.2 L287 1137.8 L291 1136.3 L293 1135.2 L296 1137.0 L300 1137.8 L304 1136.3 L307 1135.2 L310 1137.0 L315 1137.8 L320 1137.0 L325 1138.1 L328 1136.3 L331 1134.2 L334 1135.7 L337 1137.8 L350 1138.2 L370 1138.2 L380 1137.8 L384 1135.7 L387 1136.3 L387 1137.8 Z" fill="#000"/>
<text x="77.0" y="1184.9" stroke="#000" stroke-width="0.32">1–80</text>
<text x="400.3" y="1187.3" font-size="28.95" stroke="#000" stroke-width="0.32">EWSR1–FLI1 (shGFP)</text>
<line x1="155.0" y1="1188.0" x2="387.0" y2="1188.0" stroke="#666" stroke-width="1.0"/>
<path d="M155 1188 L155 1188.4 L165 1188.4 L166.5 1186.5 L170 1186.5 L171 1188.4 L220 1188.4 L221 1188.0 L223 1188.4 L258.5 1188.4 L260 1185.4 L261.5 1179.4 L262.5 1170.4 L263.5 1159.4 L264.5 1149.4 L265.5 1142.4 L266.3 1140.4 L267 1145.4 L268 1153.4 L269 1163.4 L270 1175.4 L270.8 1182.4 L271.5 1188.3 L273 1188.4 L343 1188.4 L345 1187.7 L349 1187.7 L350 1188.4 L358 1188.4 L360 1187.2 L362 1185.9 L364 1188.0 L366 1188.4 L387 1188.4 L387 1188 Z" fill="#000"/>
<text x="77.0" y="1232.6" stroke="#000" stroke-width="0.32">1–80</text>
<text x="400.3" y="1235.0" font-size="28.95" stroke="#000" stroke-width="0.32">EWSR1–FLI1 (shEF1)</text>
<line x1="155.0" y1="1238.6" x2="387.0" y2="1238.6" stroke="#666" stroke-width="1.0"/>
<path d="M155 1238.6 L155 1239.0 L158 1238.3 L161 1238.6 L164 1237.4 L167 1238.6 L170 1237.7 L172 1239.0 L184 1239.0 L186 1238.3 L189 1238.3 L190 1239.0 L254 1239.0 L256 1237.8 L258 1236.0 L260 1237.1 L262 1236.5 L264 1235.0 L266 1233.2 L268 1234.0 L270 1236.5 L272 1238.9 L274 1239.0 L298 1239.0 L300 1237.8 L303 1237.1 L305 1238.6 L308 1237.4 L311 1238.6 L313 1236.5 L316 1235.0 L318 1235.5 L320 1237.8 L322 1239.0 L332 1239.0 L334 1237.8 L338 1237.8 L339 1239.0 L366 1239.0 L368 1237.8 L372 1237.8 L376 1237.4 L377 1239.0 L387 1239.0 L387 1238.6 Z" fill="#000"/>
<text x="77.0" y="1283.2" stroke="#000" stroke-width="0.32">1–80</text>
<text x="400.3" y="1284.9" font-size="28.95" stroke="#000" stroke-width="0.32">H3K27ac (shGFP)</text>
<line x1="155.0" y1="1289.0" x2="387.0" y2="1289.0" stroke="#666" stroke-width="1.0"/>
<line x1="155" y1="1289.7" x2="387" y2="1289.7" stroke="#d418d4" stroke-width="1.1" stroke-dasharray="6 8" stroke-dashoffset="21" opacity="0.8"/>
<path d="M155 1289 L155 1289.4 L170 1289.4 L185 1289.4 L190 1289.0 L195 1289.4 L205 1289.4 L215 1289.3 L225 1289.3 L230 1288.2 L234 1287.5 L236 1286.4 L238 1283.4 L240 1279.9 L241.5 1281.4 L243 1282.9 L245 1281.9 L247 1280.9 L249 1281.9 L251 1280.4 L253 1277.4 L254.5 1273.4 L256 1268.4 L257.3 1264.9 L258.5 1268.4 L260 1273.4 L261.5 1278.4 L263 1283.4 L265 1285.9 L267 1286.4 L269 1283.4 L270.5 1279.4 L272 1276.9 L273.5 1275.9 L275 1277.4 L276.5 1281.4 L278 1283.4 L280 1284.4 L283 1284.9 L286 1284.4 L288 1285.4 L290 1286.9 L292 1288.7 L296 1289.0 L300 1288.2 L304 1289.3 L308 1288.2 L312 1288.7 L316 1289.0 L319 1287.5 L321 1286.2 L323 1285.6 L325 1286.9 L327 1289.0 L330 1289.4 L387 1289.4 L387 1289 Z" fill="#000"/>
<text x="77.0" y="1333.6" stroke="#000" stroke-width="0.32">1–80</text>
<text x="400.3" y="1335.3" font-size="28.95" stroke="#000" stroke-width="0.32">H3K27ac (shEF1)</text>
<line x1="155.0" y1="1339.4" x2="387.0" y2="1339.4" stroke="#666" stroke-width="1.0"/>
<line x1="155" y1="1340.1000000000001" x2="387" y2="1340.1000000000001" stroke="#d418d4" stroke-width="1.1" stroke-dasharray="6 8" stroke-dashoffset="24" opacity="0.8"/>
<path d="M155 1339.4 L155 1339.8 L235 1339.8 L240 1339.7 L245 1339.4 L249 1339.4 L251 1338.2 L254 1338.6 L256 1339.7 L260 1339.4 L262 1338.2 L264 1339.4 L268 1339.8 L285 1339.8 L300 1339.8 L318 1339.8 L320 1339.1 L322 1339.8 L387 1339.8 L387 1339.4 Z" fill="#000"/>
<rect x="235.2" y="898.2" width="61.9" height="451" fill="none" stroke="#7a7aff" stroke-width="1.3"/>
<text x="43.4" y="1127.0" text-anchor="middle" stroke="#000" stroke-width="0.32" transform="rotate(-90 43.4 1127.0)">Number of ChIp-seq reads</text>
<line x1="711.5" y1="910.6" x2="711.5" y2="1127.3" stroke="#0a0a0a" stroke-width="2.1"/>
<line x1="711.5" y1="1162.4" x2="711.5" y2="1334.0" stroke="#0a0a0a" stroke-width="2.1"/>
<text x="746.5" y="1024.0" text-anchor="middle" stroke="#000" stroke-width="0.32" transform="rotate(-90 746.5 1024.0)">SK–N–MC</text>
<text x="746.5" y="1251.0" text-anchor="middle" stroke="#000" stroke-width="0.32" transform="rotate(-90 746.5 1251.0)">A673</text>
<line x1="162.0" y1="1354.4" x2="382.0" y2="1354.4" stroke="#000" stroke-width="1.8"/>
<path d="M157.5 1354.4 L165 1351 L165 1357.8 Z M386.5 1354.4 L379 1351 L379 1357.8 Z" fill="#000"/>
<text x="381.5" y="1385.9" stroke="#000" stroke-width="0.32">12 kb</text>
<line x1="267.0" y1="1358.5" x2="172.6" y2="1397.9" stroke="#222" stroke-width="1.1" stroke-dasharray="3.2 1.7"/>
<line x1="267.0" y1="1358.5" x2="374.5" y2="1397.5" stroke="#222" stroke-width="1.1" stroke-dasharray="3.2 1.7"/>
<rect x="157.3" y="1402.7" width="237.9" height="49" fill="#babaf8"/>
<text x="166.0" y="1439.3" font-size="32.55" stroke="#000" stroke-width="0.32">(GGAAGGAA)<tspan font-size="21.4" dy="6.3" dx="0.6">n</tspan></text>
</g>
<g id="panel-e">
<text x="838.5" y="652.1" font-size="40.5" stroke="#000" stroke-width="0.32" font-weight="bold">e</text>
<text x="1079.5" y="670.8" text-anchor="middle" stroke="#000" stroke-width="0.32">A673/TR/shEF1</text>
<line x1="979.1" y1="683.1" x2="979.1" y2="1025.8" stroke="#2a2a2a" stroke-width="1.8"/>
<line x1="970.1" y1="1024.9" x2="1189.2" y2="1024.9" stroke="#2a2a2a" stroke-width="1.8"/>
<line x1="970.1" y1="684.0" x2="979.1" y2="684.0" stroke="#2a2a2a" stroke-width="1.8"/>
<text x="958.7" y="694.3" text-anchor="end" stroke="#000" stroke-width="0.32">80</text>
<line x1="970.1" y1="768.8" x2="979.1" y2="768.8" stroke="#2a2a2a" stroke-width="1.8"/>
<text x="958.7" y="779.1" text-anchor="end" stroke="#000" stroke-width="0.32">60</text>
<line x1="970.1" y1="854.8" x2="979.1" y2="854.8" stroke="#2a2a2a" stroke-width="1.8"/>
<text x="958.7" y="865.1" text-anchor="end" stroke="#000" stroke-width="0.32">40</text>
<line x1="970.1" y1="940.0" x2="979.1" y2="940.0" stroke="#2a2a2a" stroke-width="1.8"/>
<text x="958.7" y="950.3" text-anchor="end" stroke="#000" stroke-width="0.32">20</text>
<text x="958.7" y="1035.2" text-anchor="end" stroke="#000" stroke-width="0.32">0</text>
<text x="864.8" y="856.5" text-anchor="middle" font-size="29.3" stroke="#000" stroke-width="0.32" transform="rotate(-90 864.8 856.5)">Normalized enhancer</text>
<text x="899.6" y="857.5" text-anchor="middle" stroke="#000" stroke-width="0.32" transform="rotate(-90 899.6 857.5)">activity</text>
<line x1="1110.3" y1="805.0" x2="1110.3" y2="872.8" stroke="#707070" stroke-width="1.1"/>
<line x1="1101.9" y1="805.0" x2="1118.7" y2="805.0" stroke="#707070" stroke-width="1.1"/>
<line x1="1101.9" y1="872.8" x2="1118.7" y2="872.8" stroke="#707070" stroke-width="1.1"/>
<circle cx="1110.3" cy="750.6" r="5.6" fill="#626262" stroke="#2e2e2e" stroke-width="1.3"/>
<circle cx="1110.3" cy="820.4" r="5.6" fill="#626262" stroke="#2e2e2e" stroke-width="1.3"/>
<circle cx="1110.3" cy="893.0" r="5.6" fill="#626262" stroke="#2e2e2e" stroke-width="1.3"/>
<circle cx="1119.3" cy="891.9" r="5.6" fill="#626262" stroke="#2e2e2e" stroke-width="1.3"/>
<line x1="1093.0" y1="838.4" x2="1127.9" y2="838.4" stroke="#1c1c1c" stroke-width="2.2"/>
<line x1="1108.1" y1="727.4" x2="1162.0" y2="727.4" stroke="#333" stroke-width="1.2"/>
<text x="1134.6" y="727.0" text-anchor="middle" font-size="26.5" stroke="#000" stroke-width="0.1">*</text>
<line x1="1162.9" y1="946.3" x2="1162.9" y2="1024.0" stroke="#7a7aff" stroke-width="1.3"/>
<line x1="1154.5" y1="946.3" x2="1171.3" y2="946.3" stroke="#7a7aff" stroke-width="1.3"/>
<circle cx="1162.9" cy="929.7" r="5.6" fill="#6666ff" stroke="#3636ee" stroke-width="1.3"/>
<circle cx="1153.7" cy="992.8" r="5.6" fill="#6666ff" stroke="#3636ee" stroke-width="1.3"/>
<circle cx="1162.9" cy="999.6" r="5.6" fill="#6666ff" stroke="#3636ee" stroke-width="1.3"/>
<circle cx="1162.9" cy="1023.6" r="5.6" fill="#6666ff" stroke="#3636ee" stroke-width="1.3"/>
<line x1="1145.4" y1="986.3" x2="1180.2" y2="986.3" stroke="#1c1c1c" stroke-width="2.2"/>
<line x1="996.5" y1="1015.0" x2="1006.0" y2="1015.0" stroke="#888" stroke-width="1.0"/>
<line x1="1048.5" y1="1014.6" x2="1057.5" y2="1014.6" stroke="#9a9aff" stroke-width="1.0"/>
<circle cx="1009.4" cy="1012.4" r="5.6" fill="#626262" stroke="#2e2e2e" stroke-width="1.3"/>
<circle cx="995.7" cy="1021.3" r="5.6" fill="#626262" stroke="#2e2e2e" stroke-width="1.3"/>
<circle cx="1005.0" cy="1025.4" r="5.6" fill="#626262" stroke="#2e2e2e" stroke-width="1.3"/>
<circle cx="1014.6" cy="1025.4" r="5.6" fill="#626262" stroke="#2e2e2e" stroke-width="1.3"/>
<line x1="987.4" y1="1021.3" x2="1022.7" y2="1021.3" stroke="#1c1c1c" stroke-width="2.2"/>
<circle cx="1062.2" cy="1012.4" r="5.6" fill="#6666ff" stroke="#3636ee" stroke-width="1.3"/>
<circle cx="1048.1" cy="1021.3" r="5.6" fill="#6666ff" stroke="#3636ee" stroke-width="1.3"/>
<circle cx="1057.5" cy="1025.4" r="5.6" fill="#6666ff" stroke="#3636ee" stroke-width="1.3"/>
<circle cx="1067.2" cy="1025.4" r="5.6" fill="#6666ff" stroke="#3636ee" stroke-width="1.3"/>
<line x1="1040.2" y1="1021.3" x2="1075.0" y2="1021.3" stroke="#1c1c1c" stroke-width="2.2"/>
<text x="1027.9" y="1063.9" text-anchor="middle" stroke="#000" stroke-width="0.32">pGL3</text>
<text x="1027.9" y="1099.2" text-anchor="middle" stroke="#000" stroke-width="0.32">empty</text>
<text x="1138.0" y="1063.9" text-anchor="middle" stroke="#000" stroke-width="0.32">pGL3</text>
<text x="1138.0" y="1099.2" text-anchor="middle" stroke="#000" stroke-width="0.32">mSat</text>
<circle cx="962.9" cy="1147.6" r="5.6" fill="#626262" stroke="#2e2e2e" stroke-width="1.3"/>
<text x="980.0" y="1156.8" stroke="#000" stroke-width="0.32">Dox (–)</text>
<circle cx="1107.9" cy="1147.6" r="5.6" fill="#6666ff" stroke="#3636ee" stroke-width="1.3"/>
<text x="1124.3" y="1156.8" stroke="#000" stroke-width="0.32">Dox (+)</text>
</g>
<g id="panel-f">
<text x="1284.0" y="651.6" font-size="40.5" stroke="#000" stroke-width="0.32" font-weight="bold">f</text>
<rect x="1400.1" y="678.7" width="439.5" height="347.7" fill="none" stroke="#222" stroke-width="1.7"/>
<line x1="1391.2" y1="724.0" x2="1400.4" y2="724.0" stroke="#2a2a2a" stroke-width="1.7"/>
<text x="1380.6" y="733.8" text-anchor="end" stroke="#000" stroke-width="0.32">100</text>
<line x1="1391.2" y1="784.6" x2="1400.4" y2="784.6" stroke="#2a2a2a" stroke-width="1.7"/>
<text x="1380.6" y="794.4" text-anchor="end" stroke="#000" stroke-width="0.32">80</text>
<line x1="1391.2" y1="845.1" x2="1400.4" y2="845.1" stroke="#2a2a2a" stroke-width="1.7"/>
<text x="1380.6" y="854.9" text-anchor="end" stroke="#000" stroke-width="0.32">60</text>
<line x1="1391.2" y1="905.5" x2="1400.4" y2="905.5" stroke="#2a2a2a" stroke-width="1.7"/>
<text x="1380.6" y="915.3" text-anchor="end" stroke="#000" stroke-width="0.32">40</text>
<line x1="1391.2" y1="966.0" x2="1400.4" y2="966.0" stroke="#2a2a2a" stroke-width="1.7"/>
<text x="1380.6" y="975.8" text-anchor="end" stroke="#000" stroke-width="0.32">20</text>
<line x1="1391.2" y1="1026.4" x2="1400.4" y2="1026.4" stroke="#2a2a2a" stroke-width="1.7"/>
<text x="1380.6" y="1036.2" text-anchor="end" stroke="#000" stroke-width="0.32">0</text>
<line x1="1400.1" y1="1026.4" x2="1400.1" y2="1035.4" stroke="#2a2a2a" stroke-width="1.7"/>
<text x="1400.1" y="1068.8" text-anchor="middle" stroke="#000" stroke-width="0.32">0</text>
<line x1="1476.6" y1="1026.4" x2="1476.6" y2="1035.4" stroke="#2a2a2a" stroke-width="1.7"/>
<text x="1476.6" y="1068.8" text-anchor="middle" stroke="#000" stroke-width="0.32">20</text>
<line x1="1552.9" y1="1026.4" x2="1552.9" y2="1035.4" stroke="#2a2a2a" stroke-width="1.7"/>
<text x="1552.9" y="1068.8" text-anchor="middle" stroke="#000" stroke-width="0.32">40</text>
<line x1="1629.1" y1="1026.4" x2="1629.1" y2="1035.4" stroke="#2a2a2a" stroke-width="1.7"/>
<text x="1629.1" y="1068.8" text-anchor="middle" stroke="#000" stroke-width="0.32">60</text>
<line x1="1705.7" y1="1026.4" x2="1705.7" y2="1035.4" stroke="#2a2a2a" stroke-width="1.7"/>
<text x="1705.7" y="1068.8" text-anchor="middle" stroke="#000" stroke-width="0.32">80</text>
<line x1="1782.0" y1="1026.4" x2="1782.0" y2="1035.4" stroke="#2a2a2a" stroke-width="1.7"/>
<text x="1782.0" y="1068.8" text-anchor="middle" stroke="#000" stroke-width="0.32">100</text>
<text x="1621.3" y="1111.4" text-anchor="middle" stroke="#000" stroke-width="0.32">Average <tspan font-style="italic">SOX6</tspan> expression (%)</text>
<text x="1309.0" y="857.0" text-anchor="middle" font-size="29.05" stroke="#000" stroke-width="0.32" transform="rotate(-90 1309.0 857.0)">Average enhancer activity (%)</text>
<circle cx="1782" cy="724" r="7.4" fill="#0c0cff"/>
<circle cx="1694.1" cy="790.8" r="7.4" fill="#45eaae"/>
<circle cx="1426.7" cy="835.4" r="7.4" fill="#45eaae"/>
<circle cx="1636.8" cy="863.2" r="7.4" fill="#0c0cff"/>
<circle cx="1514.6" cy="893.4" r="7.4" fill="#ff1e82"/>
<circle cx="1521.9" cy="914.5" r="7.4" fill="#aa1ef0"/>
<circle cx="1426.7" cy="941.9" r="7.4" fill="#ff1e82"/>
<circle cx="1499.5" cy="938.7" r="7.4" fill="#ff1e82"/>
<text x="1741.0" y="707.1" fill="#0c0cff" stroke="#0c0cff" stroke-width="0.32">TC-32</text>
<text x="1667.0" y="771.8" fill="#45eaae" stroke="#45eaae" stroke-width="0.32">RDES</text>
<text x="1404.5" y="809.7" fill="#45eaae" stroke="#45eaae" stroke-width="0.32">EW7</text>
<text x="1608.0" y="840.0" fill="#0c0cff" stroke="#0c0cff" stroke-width="0.32">POE</text>
<text x="1446.0" y="872.3" fill="#ff1e82" stroke="#ff1e82" stroke-width="0.32">SK–N–MC</text>
<text x="1405.3" y="922.5" fill="#ff1e82" stroke="#ff1e82" stroke-width="0.32">A673</text>
<text x="1537.0" y="924.3" fill="#aa1ef0" stroke="#aa1ef0" stroke-width="0.32">ORS</text>
<text x="1470.0" y="974.6" fill="#ff1e82" stroke="#ff1e82" stroke-width="0.32">EW17</text>
<text x="1678.4" y="1008.3" stroke="#000" stroke-width="0.32"><tspan font-style="italic">P</tspan> = 0.016</text>
<text x="1905.5" y="712.1" text-anchor="middle" stroke="#000" stroke-width="0.32">Average</text>
<text x="1905.5" y="747.2" text-anchor="middle" stroke="#000" stroke-width="0.32">GGAA-</text>
<text x="1905.5" y="781.6" text-anchor="middle" stroke="#000" stroke-width="0.32">repeats</text>
<circle cx="1860.7" cy="860" r="7.4" fill="#0c0cff"/>
<text x="1878.5" y="869.8" stroke="#000" stroke-width="0.32">12</text>
<circle cx="1860.7" cy="896.5" r="7.4" fill="#45eaae"/>
<text x="1878.5" y="906.3" stroke="#000" stroke-width="0.32">10.5</text>
<circle cx="1860.7" cy="935.2" r="7.4" fill="#aa1ef0"/>
<text x="1878.5" y="945.0" stroke="#000" stroke-width="0.32">10</text>
<circle cx="1860.7" cy="971.4" r="7.4" fill="#ff1e82"/>
<text x="1878.5" y="981.2" stroke="#000" stroke-width="0.32">9.5</text>
</g>
</svg>
</body></html>
